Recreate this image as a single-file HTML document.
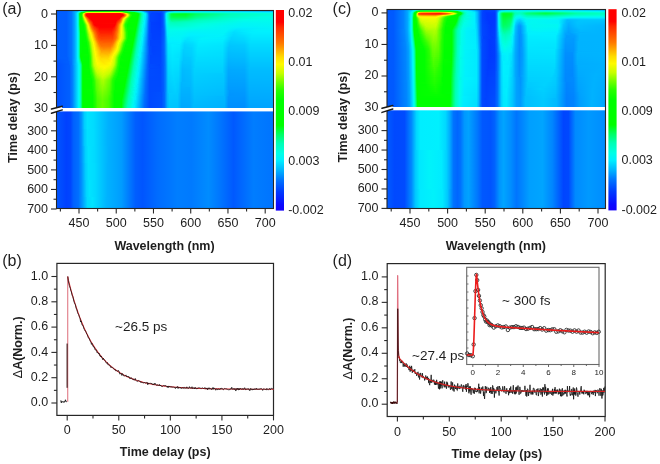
<!DOCTYPE html>
<html><head><meta charset="utf-8"><style>
html,body{margin:0;padding:0;background:#fff;}
#c{position:relative;width:660px;height:464px;overflow:hidden;background:#fff;}
#c div{position:absolute;}
svg{position:absolute;left:0;top:0;display:block;will-change:transform;}
text{font-family:"Liberation Sans",sans-serif;fill:#1e1e1e;}
</style></head><body><div id="c">
<div style="left:57px;top:11px;width:216px;height:1px;background:linear-gradient(90deg,#005eff 0.5px,#005dff 9.5px,#0075ff 14.5px,#00a9ff 18.5px,#00b8ff 20.5px,#00f2fc 22.5px,#00ffd1 24.5px,#00ffb8 25.5px,#00ff35 28.5px,#00ff19 29.5px,#00ff08 31.5px,#00ff00 39.5px,#00ff00 65.5px,#00ff71 71.5px,#00ffb0 76.5px,#00f9f0 82.5px,#00e8ff 84.5px,#0073ff 89.5px,#004fff 92.5px,#004cff 104.5px,#006dff 107.5px,#00adff 111.5px,#00e1ff 117.5px,#00e3ff 137.5px,#00c2ff 215.5px)"></div><div style="left:57px;top:12px;width:216px;height:1px;background:linear-gradient(90deg,#005eff 0.5px,#005dff 9.5px,#0075ff 14.5px,#00c6ff 19.5px,#00e7ff 20.5px,#00ffe4 21.5px,#00ffae 22.5px,#00ff52 23.5px,#00ff00 24.5px,#00ff00 26.5px,#2aff00 27.5px,#8fff00 28.5px,#d5fe00 29.5px,#e9fc00 30.5px,#fdfa00 56.5px,#f1fb00 63.5px,#e0fd00 64.5px,#c0ff00 65.5px,#53ff00 67.5px,#24ff00 68.5px,#00ff00 70.5px,#00ff04 77.5px,#00ffa8 82.5px,#00fcea 85.5px,#00f3fa 86.5px,#00a7ff 89.5px,#0064ff 91.5px,#0050ff 92.5px,#0045ff 95.5px,#0047ff 104.5px,#0060ff 106.5px,#0077ff 107.5px,#00c5ff 109.5px,#00e2ff 110.5px,#00fbed 112.5px,#00ffd0 115.5px,#00ffc5 123.5px,#00f7f3 187.5px,#00f0ff 215.5px)"></div><div style="left:57px;top:13px;width:216px;height:1px;background:linear-gradient(90deg,#005eff 0.5px,#005dff 9.5px,#0075ff 14.5px,#00a3ff 17.5px,#00d6ff 19.5px,#00f8f2 20.5px,#00ffbb 21.5px,#00ff3b 22.5px,#00ff00 23.5px,#00ff00 24.5px,#2dff00 25.5px,#bdff00 26.5px,#ffdc00 27.5px,#ff6c00 28.5px,#ff3300 29.5px,#ff1300 30.5px,#ff0900 32.5px,#ff0800 62.5px,#ff1200 63.5px,#ff4800 65.5px,#ff6f00 66.5px,#ffe400 68.5px,#eafc00 69.5px,#afff00 70.5px,#66ff00 71.5px,#28ff00 72.5px,#0eff00 73.5px,#00ff00 74.5px,#00ff00 80.5px,#00ff18 81.5px,#00ffa7 84.5px,#00ffdf 86.5px,#00e9ff 88.5px,#00caff 89.5px,#006fff 91.5px,#0051ff 92.5px,#0041ff 94.5px,#003cff 103.5px,#004eff 105.5px,#0061ff 106.5px,#0085ff 107.5px,#00f2fc 109.5px,#00ffdf 110.5px,#00ff7b 113.5px,#00ff64 114.5px,#00ff53 116.5px,#00ff45 128.5px,#00ff7a 139.5px,#00ffbd 171.5px,#00ffe3 215.5px)"></div><div style="left:57px;top:14px;width:216px;height:1px;background:linear-gradient(90deg,#005eff 0.5px,#005dff 9.5px,#0075ff 14.5px,#00a3ff 17.5px,#00d7ff 19.5px,#00f9f0 20.5px,#00ffb5 21.5px,#00ff22 22.5px,#00ff00 23.5px,#06ff00 24.5px,#61ff00 25.5px,#ecfc00 26.5px,#ffa000 27.5px,#ff3c00 28.5px,#ff0000 29.5px,#ff0000 65.5px,#ff2400 66.5px,#ff5400 67.5px,#ff8e00 68.5px,#ffd600 69.5px,#f5fb00 70.5px,#b8ff00 71.5px,#66ff00 72.5px,#26ff00 73.5px,#0eff00 74.5px,#00ff00 75.5px,#00ff02 81.5px,#00ff9b 84.5px,#00ffc0 85.5px,#00faee 87.5px,#00f0ff 88.5px,#00a9ff 90.5px,#0074ff 91.5px,#0053ff 92.5px,#0044ff 93.5px,#003bff 103.5px,#004dff 105.5px,#0062ff 106.5px,#0089ff 107.5px,#00c6ff 108.5px,#00f6f4 109.5px,#00ffb0 111.5px,#00ff58 113.5px,#00ff3a 114.5px,#00ff2c 116.5px,#00ff23 128.5px,#00ff65 139.5px,#00ffb9 174.5px,#00ffdc 215.5px)"></div><div style="left:57px;top:15px;width:216px;height:1px;background:linear-gradient(90deg,#005eff 0.5px,#005dff 9.5px,#0075ff 14.5px,#00a3ff 17.5px,#00d5ff 19.5px,#00f7f3 20.5px,#00ffb8 21.5px,#00ff27 22.5px,#00ff00 23.5px,#07ff00 24.5px,#61ff00 25.5px,#e9fc00 26.5px,#ffa700 27.5px,#ff4300 28.5px,#ff0000 29.5px,#ff0000 65.5px,#ff1300 66.5px,#ff7f00 68.5px,#ffca00 69.5px,#fdfa00 70.5px,#c3ff00 71.5px,#6dff00 72.5px,#28ff00 73.5px,#00ff00 75.5px,#00ff00 80.5px,#00ff09 81.5px,#00ffa1 84.5px,#00ffdc 86.5px,#00edff 88.5px,#00abff 90.5px,#0077ff 91.5px,#0055ff 92.5px,#0044ff 93.5px,#003bff 103.5px,#004dff 105.5px,#0062ff 106.5px,#0089ff 107.5px,#00c6ff 108.5px,#00f6f4 109.5px,#00ffb2 111.5px,#00ff5f 113.5px,#00ff43 114.5px,#00ff36 116.5px,#00ff31 128.5px,#00ff6d 138.5px,#00ffbc 171.5px,#00ffe0 215.5px)"></div><div style="left:57px;top:16px;width:216px;height:1px;background:linear-gradient(90deg,#005eff 0.5px,#005dff 9.5px,#0075ff 14.5px,#00a3ff 17.5px,#00d4ff 19.5px,#00f7f4 20.5px,#00ffbb 21.5px,#00ff2d 22.5px,#00ff00 23.5px,#02ff00 24.5px,#4fff00 25.5px,#d3fe00 26.5px,#ffd000 27.5px,#ff6900 28.5px,#ff0000 30.5px,#ff0000 64.5px,#ff4a00 66.5px,#ff7600 67.5px,#ffbb00 68.5px,#fff100 69.5px,#d7fe00 70.5px,#49ff00 72.5px,#1cff00 73.5px,#06ff00 74.5px,#00ff00 78.5px,#00ff00 80.5px,#00ff12 81.5px,#00ffa8 84.5px,#00ffe0 86.5px,#00eaff 88.5px,#00a9ff 90.5px,#0077ff 91.5px,#0055ff 92.5px,#0044ff 93.5px,#003bff 103.5px,#004dff 105.5px,#0062ff 106.5px,#0089ff 107.5px,#00c6ff 108.5px,#00f6f4 109.5px,#00ffb5 111.5px,#00ff67 113.5px,#00ff4e 114.5px,#00ff42 116.5px,#00ff42 128.5px,#00ff7b 138.5px,#00ffbd 167.5px,#00ffe1 206.5px,#00ffe5 215.5px)"></div><div style="left:57px;top:17px;width:216px;height:1px;background:linear-gradient(90deg,#005eff 0.5px,#005dff 9.5px,#0075ff 14.5px,#00a3ff 17.5px,#00d4ff 19.5px,#00f6f5 20.5px,#00ffbd 21.5px,#00ff32 22.5px,#00ff00 23.5px,#00ff00 24.5px,#38ff00 25.5px,#aeff00 26.5px,#fff300 27.5px,#ff6000 29.5px,#ff0b00 31.5px,#ff0000 32.5px,#ff0000 62.5px,#ff0a00 63.5px,#ff5f00 65.5px,#ff9100 66.5px,#ffcf00 67.5px,#fff900 68.5px,#d0fe00 69.5px,#50ff00 71.5px,#21ff00 72.5px,#00ff00 74.5px,#00ff00 80.5px,#00ff1c 81.5px,#00ffaf 84.5px,#00ffe3 86.5px,#00e7ff 88.5px,#00a7ff 90.5px,#0076ff 91.5px,#0055ff 92.5px,#0044ff 93.5px,#003bff 103.5px,#004dff 105.5px,#0062ff 106.5px,#0088ff 107.5px,#00c6ff 108.5px,#00f6f5 109.5px,#00ffb7 111.5px,#00ff71 113.5px,#00ff5b 114.5px,#00ff51 116.5px,#00ff55 128.5px,#00ff8c 139.5px,#00ffc0 164.5px,#00ffe4 201.5px,#00fde9 215.5px)"></div><div style="left:57px;top:18px;width:216px;height:1px;background:linear-gradient(90deg,#005eff 0.5px,#005dff 9.5px,#0075ff 14.5px,#00a3ff 17.5px,#00d3ff 19.5px,#00f6f5 20.5px,#00ffbe 21.5px,#00ff36 22.5px,#00ff00 23.5px,#00ff00 24.5px,#25ff00 25.5px,#e2fd00 27.5px,#ffdf00 28.5px,#ff9300 29.5px,#ff5a00 30.5px,#ff0800 32.5px,#ff0000 34.5px,#ff0200 62.5px,#ff5d00 64.5px,#ff9700 65.5px,#ffdb00 66.5px,#f6fb00 67.5px,#c7ff00 68.5px,#82ff00 69.5px,#4cff00 70.5px,#23ff00 71.5px,#00ff00 73.5px,#00ff00 80.5px,#00ff25 81.5px,#00ffb5 84.5px,#00ffe6 86.5px,#00e4ff 88.5px,#00a4ff 90.5px,#0075ff 91.5px,#0054ff 92.5px,#0044ff 93.5px,#003bff 103.5px,#004dff 105.5px,#0061ff 106.5px,#0088ff 107.5px,#00c4ff 108.5px,#00f5f7 109.5px,#00ffd8 110.5px,#00ff80 113.5px,#00ff6e 114.5px,#00ff67 118.5px,#00ff6c 128.5px,#00ffa0 140.5px,#00ffd5 174.5px,#00fde9 209.5px,#00fceb 215.5px)"></div><div style="left:57px;top:19px;width:216px;height:1px;background:linear-gradient(90deg,#005eff 0.5px,#005dff 9.5px,#0075ff 14.5px,#00a3ff 17.5px,#00d3ff 19.5px,#00f6f5 20.5px,#00ffbe 21.5px,#00ff38 22.5px,#00ff00 23.5px,#00ff00 24.5px,#1bff00 25.5px,#64ff00 26.5px,#c5ff00 27.5px,#fff600 28.5px,#ffbd00 29.5px,#ff7700 30.5px,#ff2a00 32.5px,#ff0b00 33.5px,#ff0000 34.5px,#ff0000 60.5px,#ff0700 61.5px,#ff4800 63.5px,#ff7500 64.5px,#ffbb00 65.5px,#fff100 66.5px,#d8fe00 67.5px,#5dff00 69.5px,#2eff00 70.5px,#07ff00 72.5px,#00ff00 75.5px,#00ff00 80.5px,#00ff90 83.5px,#00ffb9 84.5px,#00fee8 86.5px,#00e1ff 88.5px,#00a1ff 90.5px,#0073ff 91.5px,#0053ff 92.5px,#0044ff 93.5px,#003bff 103.5px,#004dff 105.5px,#0061ff 106.5px,#0086ff 107.5px,#00f3f9 109.5px,#00ffdc 110.5px,#00ff91 113.5px,#00ff81 114.5px,#00ff7c 120.5px,#00ff87 129.5px,#00ffb3 140.5px,#00ffe7 188.5px,#00fbec 215.5px)"></div><div style="left:57px;top:20px;width:216px;height:1px;background:linear-gradient(90deg,#005eff 0.5px,#005dff 9.5px,#0075ff 14.5px,#00a3ff 17.5px,#00d4ff 19.5px,#00f6f5 20.5px,#00ffbd 21.5px,#00ff38 22.5px,#00ff00 23.5px,#00ff00 24.5px,#11ff00 25.5px,#47ff00 26.5px,#9eff00 27.5px,#eafc00 28.5px,#ffde00 29.5px,#ff9a00 30.5px,#ff6400 31.5px,#ff4100 32.5px,#ff1000 34.5px,#ff0000 35.5px,#ff0000 59.5px,#ff3b00 62.5px,#ff5d00 63.5px,#ff9000 64.5px,#ffd300 65.5px,#f8fb00 66.5px,#c4ff00 67.5px,#7bff00 68.5px,#45ff00 69.5px,#21ff00 70.5px,#01ff00 72.5px,#00ff00 79.5px,#00ff07 80.5px,#00ff97 83.5px,#00ffbd 84.5px,#00fcea 86.5px,#00f3fa 87.5px,#00c3ff 89.5px,#0072ff 91.5px,#0053ff 92.5px,#0044ff 93.5px,#003bff 103.5px,#004dff 105.5px,#0061ff 106.5px,#0085ff 107.5px,#00f2fb 109.5px,#00ffe1 110.5px,#00ff93 114.5px,#00ff92 122.5px,#00ffa1 130.5px,#00ffbc 138.5px,#00fdea 186.5px,#00fbed 215.5px)"></div><div style="left:57px;top:21px;width:216px;height:1px;background:linear-gradient(90deg,#005eff 0.5px,#005dff 9.5px,#0075ff 14.5px,#00a3ff 17.5px,#00d4ff 19.5px,#00f6f5 20.5px,#00ffbd 21.5px,#00ff38 22.5px,#00ff00 23.5px,#07ff00 25.5px,#2aff00 26.5px,#78ff00 27.5px,#cffe00 28.5px,#fff200 29.5px,#ff7f00 31.5px,#ff5800 32.5px,#ff0c00 35.5px,#ff0000 36.5px,#ff0000 58.5px,#ff0c00 59.5px,#ff5100 62.5px,#ff7200 63.5px,#ffe500 65.5px,#e6fc00 66.5px,#61ff00 68.5px,#2eff00 69.5px,#0aff00 71.5px,#00ff00 73.5px,#00ff00 79.5px,#00ff10 80.5px,#00ff9f 83.5px,#00ffc1 84.5px,#00f2fc 87.5px,#00c0ff 89.5px,#0070ff 91.5px,#0052ff 92.5px,#0043ff 93.5px,#003bff 103.5px,#004dff 105.5px,#0061ff 106.5px,#0084ff 107.5px,#00f1fe 109.5px,#00ffe6 110.5px,#00ffb3 113.5px,#00ffa2 115.5px,#00ffb6 130.5px,#00ffcb 144.5px,#00faee 186.5px,#00faef 215.5px)"></div><div style="left:57px;top:22px;width:216px;height:1px;background:linear-gradient(90deg,#005eff 0.5px,#005dff 9.5px,#0075ff 14.5px,#00a3ff 17.5px,#00d4ff 19.5px,#00f6f4 20.5px,#00ffbc 21.5px,#00ff38 22.5px,#00ff00 23.5px,#00ff00 25.5px,#1cff00 26.5px,#55ff00 27.5px,#a8ff00 28.5px,#edfc00 29.5px,#ffdf00 30.5px,#ff6e00 32.5px,#ff0100 36.5px,#ff0000 58.5px,#ff6700 62.5px,#ff8e00 63.5px,#fff300 65.5px,#d3fe00 66.5px,#48ff00 68.5px,#20ff00 69.5px,#03ff00 71.5px,#00ff00 79.5px,#00ff19 80.5px,#00ffa6 83.5px,#00ffdc 85.5px,#00f1fe 87.5px,#00beff 89.5px,#006eff 91.5px,#0051ff 92.5px,#003fff 94.5px,#003bff 103.5px,#004dff 105.5px,#0060ff 106.5px,#0083ff 107.5px,#00eeff 109.5px,#00fde9 110.5px,#00ffbd 113.5px,#00ffb5 117.5px,#00ffc7 133.5px,#00ffdc 157.5px,#00f8f2 186.5px,#00f9f0 215.5px)"></div><div style="left:57px;top:23px;width:216px;height:1px;background:linear-gradient(90deg,#005eff 0.5px,#005dff 9.5px,#0075ff 14.5px,#00a3ff 17.5px,#00d4ff 19.5px,#00f6f4 20.5px,#00ffbb 21.5px,#00ff38 22.5px,#00ff00 23.5px,#00ff00 25.5px,#0fff00 26.5px,#33ff00 27.5px,#d0fe00 29.5px,#fff400 30.5px,#ffc500 31.5px,#ff8a00 32.5px,#ff6100 33.5px,#ff0900 36.5px,#ff0000 38.5px,#ff0500 58.5px,#ff4400 60.5px,#ff7e00 62.5px,#ffdf00 64.5px,#f4fb00 65.5px,#bcff00 66.5px,#6dff00 67.5px,#2fff00 68.5px,#16ff00 69.5px,#00ff00 71.5px,#00ff00 79.5px,#00ff22 80.5px,#00ffad 83.5px,#00f9f1 86.5px,#00efff 87.5px,#00bbff 89.5px,#006cff 91.5px,#0050ff 92.5px,#003fff 94.5px,#003bff 103.5px,#004dff 105.5px,#0060ff 106.5px,#0081ff 107.5px,#00ebff 109.5px,#00fcec 110.5px,#00ffc4 113.5px,#00ffbf 118.5px,#00ffdd 147.5px,#00f6f5 186.5px,#00f8f2 215.5px)"></div><div style="left:57px;top:24px;width:216px;height:1px;background:linear-gradient(90deg,#005eff 0.5px,#005dff 9.5px,#0075ff 14.5px,#00a3ff 17.5px,#00d4ff 19.5px,#00f6f4 20.5px,#00ffbb 21.5px,#00ff3a 22.5px,#00ff00 23.5px,#04ff00 26.5px,#20ff00 27.5px,#5aff00 28.5px,#abff00 29.5px,#edfc00 30.5px,#ffe100 31.5px,#ff7200 33.5px,#ff1300 36.5px,#ff0000 37.5px,#ff0000 57.5px,#ff0d00 58.5px,#ff7000 61.5px,#ffec00 64.5px,#e4fc00 65.5px,#a4ff00 66.5px,#59ff00 67.5px,#22ff00 68.5px,#00ff00 70.5px,#00ff00 79.5px,#00ffb4 83.5px,#00ffe2 85.5px,#00ecff 87.5px,#00b8ff 89.5px,#006bff 91.5px,#0050ff 92.5px,#003fff 94.5px,#003bff 103.5px,#004dff 105.5px,#005fff 106.5px,#007eff 107.5px,#00e7ff 109.5px,#00faee 110.5px,#00ffca 113.5px,#00ffc6 119.5px,#00ffe1 146.5px,#00f5f7 186.5px,#00f7f3 215.5px)"></div><div style="left:57px;top:25px;width:216px;height:1px;background:linear-gradient(90deg,#005eff 0.5px,#005dff 9.5px,#0075ff 14.5px,#00a3ff 17.5px,#00d4ff 19.5px,#00f6f5 20.5px,#00ffbd 21.5px,#00ff41 22.5px,#00ff00 23.5px,#00ff00 26.5px,#18ff00 27.5px,#46ff00 28.5px,#dcfd00 30.5px,#ffed00 31.5px,#ff8500 33.5px,#ff3f00 35.5px,#ff0c00 37.5px,#ff0000 38.5px,#ff0100 57.5px,#ff3800 59.5px,#ff7a00 61.5px,#ffd200 63.5px,#fff200 64.5px,#ddfd00 65.5px,#55ff00 67.5px,#21ff00 68.5px,#00ff00 70.5px,#00ff00 78.5px,#00ff06 79.5px,#00ff90 82.5px,#00ffb8 83.5px,#00ffe5 85.5px,#00e9ff 87.5px,#00b6ff 89.5px,#006aff 91.5px,#004fff 92.5px,#0040ff 94.5px,#003cff 103.5px,#004cff 105.5px,#005eff 106.5px,#007bff 107.5px,#00e4ff 109.5px,#00f9f0 110.5px,#00ffd0 113.5px,#00ffcc 121.5px,#00ffe4 145.5px,#00f6f4 173.5px,#00f5f7 188.5px,#00f6f5 215.5px)"></div><div style="left:57px;top:26px;width:216px;height:1px;background:linear-gradient(90deg,#005eff 0.5px,#005dff 9.5px,#0075ff 14.5px,#00a3ff 17.5px,#00d3ff 19.5px,#00f6f5 20.5px,#00ffc0 21.5px,#00ff4a 22.5px,#00ff00 23.5px,#00ff00 26.5px,#14ff00 27.5px,#3bff00 28.5px,#d1fe00 30.5px,#fff600 31.5px,#ffce00 32.5px,#ff9800 33.5px,#ff6c00 34.5px,#ff2000 37.5px,#ff0900 39.5px,#ff0000 43.5px,#ff0100 56.5px,#ff0c00 57.5px,#ff5f00 60.5px,#ffac00 62.5px,#ffd700 63.5px,#fff400 64.5px,#ddfd00 65.5px,#5bff00 67.5px,#24ff00 68.5px,#00ff00 70.5px,#00ff00 78.5px,#00ff0f 79.5px,#00ff97 82.5px,#00ffbb 83.5px,#00fee7 85.5px,#00e6ff 87.5px,#00b4ff 89.5px,#0068ff 91.5px,#004fff 92.5px,#0040ff 94.5px,#003cff 103.5px,#004cff 105.5px,#005dff 106.5px,#0078ff 107.5px,#00e0ff 109.5px,#00f8f2 110.5px,#00ffd5 113.5px,#00ffd5 124.5px,#00fee7 144.5px,#00f6f6 172.5px,#00f3fa 186.5px,#00f5f6 215.5px)"></div><div style="left:57px;top:27px;width:216px;height:1px;background:linear-gradient(90deg,#005eff 0.5px,#005dff 9.5px,#0075ff 14.5px,#00a3ff 17.5px,#00d3ff 19.5px,#00f5f6 20.5px,#00ffc3 21.5px,#00ff54 22.5px,#00ff00 23.5px,#00ff00 26.5px,#10ff00 27.5px,#30ff00 28.5px,#76ff00 29.5px,#c7ff00 30.5px,#f9fb00 31.5px,#ffdd00 32.5px,#ff7b00 34.5px,#ff4300 36.5px,#ff1700 39.5px,#ff0200 42.5px,#ff0300 55.5px,#ff1700 57.5px,#ff6400 60.5px,#ffda00 63.5px,#fff500 64.5px,#defd00 65.5px,#a6ff00 66.5px,#28ff00 68.5px,#03ff00 70.5px,#00ff00 78.5px,#00ff17 79.5px,#00ff9d 82.5px,#00ffbf 83.5px,#00fde9 85.5px,#00e3ff 87.5px,#00b1ff 89.5px,#0067ff 91.5px,#004eff 92.5px,#0040ff 94.5px,#003cff 103.5px,#004cff 105.5px,#005cff 106.5px,#0076ff 107.5px,#00ddff 109.5px,#00f7f4 110.5px,#00ffdb 113.5px,#00ffdd 125.5px,#00fdea 142.5px,#00f5f6 171.5px,#00f1fd 185.5px,#00f4f8 215.5px)"></div><div style="left:57px;top:28px;width:216px;height:1px;background:linear-gradient(90deg,#005eff 0.5px,#005dff 9.5px,#0075ff 14.5px,#00a3ff 17.5px,#00d3ff 19.5px,#00f5f7 20.5px,#00ffc6 21.5px,#00ff5e 22.5px,#00ff00 23.5px,#00ff00 26.5px,#0cff00 27.5px,#27ff00 28.5px,#6aff00 29.5px,#b8ff00 30.5px,#eefc00 31.5px,#ffe700 32.5px,#ff8f00 34.5px,#ff6b00 35.5px,#ff3d00 37.5px,#ff0800 42.5px,#ff0a00 55.5px,#ff2200 57.5px,#ff4d00 59.5px,#ff8d00 61.5px,#ffdd00 63.5px,#fff600 64.5px,#defd00 65.5px,#abff00 66.5px,#31ff00 68.5px,#05ff00 70.5px,#00ff00 78.5px,#00ff20 79.5px,#00ffa4 82.5px,#00ffd8 84.5px,#00f3fa 86.5px,#00afff 89.5px,#0066ff 91.5px,#004eff 92.5px,#0040ff 94.5px,#003dff 103.5px,#005bff 106.5px,#0074ff 107.5px,#00d9ff 109.5px,#00f6f6 110.5px,#00ffe0 113.5px,#00ffe3 125.5px,#00fbed 145.5px,#00f5f7 170.5px,#00ecff 181.5px,#00f3f9 215.5px)"></div><div style="left:57px;top:29px;width:216px;height:1px;background:linear-gradient(90deg,#005eff 0.5px,#005dff 9.5px,#0075ff 14.5px,#00a3ff 17.5px,#00d3ff 19.5px,#00f4f8 20.5px,#00ffc9 21.5px,#00ff00 23.5px,#00ff00 26.5px,#09ff00 27.5px,#23ff00 28.5px,#5eff00 29.5px,#a8ff00 30.5px,#e2fd00 31.5px,#fff000 32.5px,#ffcf00 33.5px,#ff7a00 35.5px,#ff4a00 37.5px,#ff0e00 42.5px,#ff0c00 54.5px,#ff1c00 56.5px,#ff3c00 58.5px,#ff6f00 60.5px,#ffdf00 63.5px,#fff700 64.5px,#dffd00 65.5px,#b0ff00 66.5px,#3aff00 68.5px,#19ff00 69.5px,#07ff00 70.5px,#00ff00 73.5px,#00ff00 78.5px,#00ffab 82.5px,#00fbed 85.5px,#00f2fc 86.5px,#00adff 89.5px,#0065ff 91.5px,#004dff 92.5px,#0040ff 94.5px,#003dff 103.5px,#005aff 106.5px,#0072ff 107.5px,#00d6ff 109.5px,#00f4f8 110.5px,#00fee8 112.5px,#00ffe6 124.5px,#00f9f0 138.5px,#00f5f7 169.5px,#00e8ff 179.5px,#00f2fb 200.5px,#00f2fb 215.5px)"></div><div style="left:57px;top:30px;width:216px;height:1px;background:linear-gradient(90deg,#005eff 0.5px,#005dff 9.5px,#0075ff 14.5px,#00a3ff 17.5px,#00d2ff 19.5px,#00f4f9 20.5px,#00ffcd 21.5px,#00ff6f 22.5px,#00ff00 23.5px,#05ff00 27.5px,#1eff00 28.5px,#52ff00 29.5px,#d6fe00 31.5px,#fffa00 32.5px,#ffdf00 33.5px,#ff6e00 36.5px,#ff3700 39.5px,#ff1500 42.5px,#ff1200 54.5px,#ff2500 56.5px,#ff4300 58.5px,#ff7500 60.5px,#ffe100 63.5px,#fff800 64.5px,#e0fd00 65.5px,#b5ff00 66.5px,#42ff00 68.5px,#1dff00 69.5px,#09ff00 70.5px,#00ff00 72.5px,#00ff04 78.5px,#00ff89 81.5px,#00ffb2 82.5px,#00faef 85.5px,#00f1fd 86.5px,#00aaff 89.5px,#0064ff 91.5px,#004dff 92.5px,#0040ff 94.5px,#003eff 103.5px,#0059ff 106.5px,#0070ff 107.5px,#00d2ff 109.5px,#00f3fa 110.5px,#00fcec 112.5px,#00fbed 125.5px,#00f7f3 138.5px,#00f4f9 169.5px,#00e4ff 178.5px,#00f1fd 196.5px,#00f1fd 215.5px)"></div><div style="left:57px;top:31px;width:216px;height:1px;background:linear-gradient(90deg,#005eff 0.5px,#005dff 9.5px,#0075ff 14.5px,#00a3ff 17.5px,#00d2ff 19.5px,#00f3fa 20.5px,#00ffd0 21.5px,#00ff77 22.5px,#00ff00 23.5px,#01ff00 27.5px,#19ff00 28.5px,#46ff00 29.5px,#cbff00 31.5px,#f1fb00 32.5px,#ffea00 33.5px,#ff7e00 36.5px,#ff4000 39.5px,#ff1b00 42.5px,#ff1800 54.5px,#ff3a00 57.5px,#ff7b00 60.5px,#ffe300 63.5px,#fff900 64.5px,#baff00 66.5px,#4bff00 68.5px,#20ff00 69.5px,#00ff00 71.5px,#00ff00 77.5px,#00ff0d 78.5px,#00ff90 81.5px,#00ffb6 82.5px,#00f8f1 85.5px,#00f0ff 86.5px,#00a8ff 89.5px,#0063ff 91.5px,#004dff 92.5px,#0040ff 94.5px,#003eff 103.5px,#0058ff 106.5px,#006eff 107.5px,#00cfff 109.5px,#00f2fc 110.5px,#00faee 112.5px,#00f9f1 125.5px,#00f5f6 135.5px,#00f4f9 168.5px,#00e0ff 177.5px,#00eaff 186.5px,#00f1fe 201.5px,#00f1fe 215.5px)"></div><div style="left:57px;top:32px;width:216px;height:1px;background:linear-gradient(90deg,#005eff 0.5px,#005dff 9.5px,#0075ff 14.5px,#00a3ff 17.5px,#00d2ff 19.5px,#00f3fa 20.5px,#00ffd3 21.5px,#00ff7e 22.5px,#00ff00 23.5px,#00ff00 27.5px,#15ff00 28.5px,#3aff00 29.5px,#baff00 31.5px,#e4fc00 32.5px,#fff500 33.5px,#ffdd00 34.5px,#ff7100 37.5px,#ff3900 40.5px,#ff1d00 43.5px,#ff1e00 54.5px,#ff4000 57.5px,#ff8200 60.5px,#ffe500 63.5px,#fffa00 64.5px,#bfff00 66.5px,#23ff00 69.5px,#00ff00 71.5px,#00ff00 77.5px,#00ff16 78.5px,#00ff97 81.5px,#00ffba 82.5px,#00ffe4 84.5px,#00edff 86.5px,#00a5ff 89.5px,#0062ff 91.5px,#004cff 92.5px,#0040ff 94.5px,#003fff 103.5px,#0058ff 106.5px,#006dff 107.5px,#00ccff 109.5px,#00f1fd 110.5px,#00f9f1 112.5px,#00f7f4 125.5px,#00f3f9 134.5px,#00f4f9 167.5px,#00ddff 176.5px,#00e4ff 185.5px,#00efff 193.5px,#00efff 215.5px)"></div><div style="left:57px;top:33px;width:216px;height:1px;background:linear-gradient(90deg,#005eff 0.5px,#005dff 9.5px,#0075ff 14.5px,#00a3ff 17.5px,#00d2ff 19.5px,#00f2fb 20.5px,#00ffd5 21.5px,#00ff83 22.5px,#00ff05 23.5px,#00ff00 27.5px,#10ff00 28.5px,#2eff00 29.5px,#aaff00 31.5px,#d9fd00 32.5px,#fafa00 33.5px,#ffe700 34.5px,#ff7d00 37.5px,#ff3f00 40.5px,#ff2400 43.5px,#ff2500 54.5px,#ff3600 56.5px,#ff6d00 59.5px,#ffe700 63.5px,#fdfa00 64.5px,#c1ff00 66.5px,#25ff00 69.5px,#00ff00 71.5px,#00ff00 77.5px,#00ff1e 78.5px,#00ff9e 81.5px,#00ffbe 82.5px,#00ffe7 84.5px,#00eaff 86.5px,#00a3ff 89.5px,#0061ff 91.5px,#004cff 92.5px,#0040ff 95.5px,#003fff 103.5px,#0058ff 106.5px,#006dff 107.5px,#00caff 109.5px,#00f0ff 110.5px,#00f8f2 112.5px,#00f7f3 124.5px,#00f2fc 132.5px,#00f3f9 166.5px,#00e6ff 171.5px,#00dbff 177.5px,#00e5ff 186.5px,#00eeff 196.5px,#00eeff 215.5px)"></div><div style="left:57px;top:34px;width:216px;height:1px;background:linear-gradient(90deg,#005eff 0.5px,#005dff 9.5px,#0075ff 14.5px,#00a3ff 17.5px,#00d2ff 19.5px,#00f2fb 20.5px,#00ffd5 21.5px,#00ff84 22.5px,#00ff06 23.5px,#00ff00 27.5px,#0dff00 28.5px,#26ff00 29.5px,#d1fe00 32.5px,#f1fb00 33.5px,#ffee00 34.5px,#ffd400 35.5px,#ff8900 37.5px,#ff5700 39.5px,#ff2e00 42.5px,#ff2b00 54.5px,#ff3b00 56.5px,#ff7000 59.5px,#ffd000 62.5px,#fbfa00 64.5px,#c1ff00 66.5px,#26ff00 69.5px,#00ff00 71.5px,#00ff00 77.5px,#00ffa4 81.5px,#00ffd6 83.5px,#00f5f7 85.5px,#00d1ff 87.5px,#00a0ff 89.5px,#0060ff 91.5px,#004cff 92.5px,#0040ff 95.5px,#003fff 103.5px,#0059ff 106.5px,#006dff 107.5px,#00c8ff 109.5px,#00eeff 110.5px,#00f7f3 112.5px,#00f6f5 124.5px,#00f1fe 132.5px,#00f3fb 166.5px,#00d9ff 176.5px,#00e2ff 186.5px,#00ecff 195.5px,#00ecff 215.5px)"></div><div style="left:57px;top:35px;width:216px;height:1px;background:linear-gradient(90deg,#005eff 0.5px,#005dff 9.5px,#0075ff 14.5px,#00a3ff 17.5px,#00d2ff 19.5px,#00f2fb 20.5px,#00ffd5 21.5px,#00ff84 22.5px,#00ff06 23.5px,#00ff00 27.5px,#09ff00 28.5px,#21ff00 29.5px,#90ff00 31.5px,#c9ff00 32.5px,#e9fc00 33.5px,#fff300 34.5px,#ffdd00 35.5px,#ff7300 38.5px,#ff3d00 41.5px,#ff3000 44.5px,#ff3500 55.5px,#ff5f00 58.5px,#ff9000 60.5px,#ffd400 62.5px,#f9fb00 64.5px,#c0ff00 66.5px,#26ff00 69.5px,#00ff00 71.5px,#00ff04 77.5px,#00ffaa 81.5px,#00fceb 84.5px,#00e5ff 86.5px,#009eff 89.5px,#005fff 91.5px,#004bff 92.5px,#0040ff 95.5px,#0040ff 103.5px,#0059ff 106.5px,#006dff 107.5px,#00c7ff 109.5px,#00ecff 110.5px,#00f6f4 112.5px,#00f5f7 124.5px,#00efff 133.5px,#00f2fb 165.5px,#00e5ff 170.5px,#00d8ff 176.5px,#00dfff 186.5px,#00eaff 195.5px,#00eaff 215.5px)"></div><div style="left:57px;top:36px;width:216px;height:1px;background:linear-gradient(90deg,#005eff 0.5px,#005dff 9.5px,#0075ff 14.5px,#00a3ff 17.5px,#00d2ff 19.5px,#00f2fb 20.5px,#00ffd5 21.5px,#00ff84 22.5px,#00ff07 23.5px,#00ff00 26.5px,#05ff00 28.5px,#1cff00 29.5px,#48ff00 30.5px,#beff00 32.5px,#fff900 34.5px,#ffe400 35.5px,#ff7a00 38.5px,#ff4200 41.5px,#ff3600 44.5px,#ff3a00 55.5px,#ff6200 58.5px,#ff7500 59.5px,#ffd700 62.5px,#f7fb00 64.5px,#bfff00 66.5px,#26ff00 69.5px,#00ff00 71.5px,#00ff00 76.5px,#00ff0c 77.5px,#00ffb1 81.5px,#00fbec 84.5px,#00e2ff 86.5px,#009cff 89.5px,#005eff 91.5px,#004bff 92.5px,#0040ff 95.5px,#0040ff 103.5px,#005aff 106.5px,#006eff 107.5px,#00e9ff 110.5px,#00f6f6 112.5px,#00f4f9 124.5px,#00ecff 132.5px,#00f3fb 161.5px,#00ecff 168.5px,#00d6ff 175.5px,#00ddff 186.5px,#00e9ff 194.5px,#00e9ff 215.5px)"></div><div style="left:57px;top:37px;width:216px;height:1px;background:linear-gradient(90deg,#005eff 0.5px,#005dff 9.5px,#0075ff 14.5px,#00a3ff 17.5px,#00d2ff 19.5px,#00f2fb 20.5px,#00ffd5 21.5px,#00ff84 22.5px,#00ff07 23.5px,#00ff00 26.5px,#01ff00 28.5px,#17ff00 29.5px,#3dff00 30.5px,#b3ff00 32.5px,#dafd00 33.5px,#f8fb00 34.5px,#ffea00 35.5px,#ffce00 36.5px,#ff8400 38.5px,#ff5700 40.5px,#ff3f00 42.5px,#ff3f00 55.5px,#ff6600 58.5px,#ff7800 59.5px,#ffda00 62.5px,#ffef00 63.5px,#f5fb00 64.5px,#bdff00 66.5px,#26ff00 69.5px,#0eff00 70.5px,#00ff00 71.5px,#00ff00 76.5px,#00ff14 77.5px,#00ff90 80.5px,#00ffb6 81.5px,#00faee 84.5px,#00f2fc 85.5px,#0099ff 89.5px,#005dff 91.5px,#004bff 92.5px,#0040ff 95.5px,#0041ff 103.5px,#005bff 106.5px,#006eff 107.5px,#00e7ff 110.5px,#00f3fa 111.5px,#00f4f8 123.5px,#00e8ff 131.5px,#00f2fb 148.5px,#00eeff 167.5px,#00d4ff 174.5px,#00daff 186.5px,#00e7ff 194.5px,#00e7ff 215.5px)"></div><div style="left:57px;top:38px;width:216px;height:1px;background:linear-gradient(90deg,#005eff 0.5px,#005dff 9.5px,#0075ff 14.5px,#00a3ff 17.5px,#00d2ff 19.5px,#00f2fb 20.5px,#00ffd5 21.5px,#00ff84 22.5px,#00ff08 23.5px,#00ff00 25.5px,#00ff00 28.5px,#12ff00 29.5px,#31ff00 30.5px,#a6ff00 32.5px,#d2fe00 33.5px,#effb00 34.5px,#fff000 35.5px,#ffd900 36.5px,#ff7200 39.5px,#ff4f00 41.5px,#ff4100 44.5px,#ff4500 55.5px,#ff6b00 58.5px,#ff9e00 60.5px,#ffdf00 62.5px,#fff200 63.5px,#f0fb00 64.5px,#b7ff00 66.5px,#24ff00 69.5px,#0cff00 70.5px,#00ff00 71.5px,#00ff00 76.5px,#00ff1c 77.5px,#00ff97 80.5px,#00ffb9 81.5px,#00f9f0 84.5px,#00f1fd 85.5px,#0097ff 89.5px,#005cff 91.5px,#004aff 92.5px,#0040ff 95.5px,#0041ff 103.5px,#005bff 106.5px,#006eff 107.5px,#00e4ff 110.5px,#00f2fb 111.5px,#00f4f9 123.5px,#00e5ff 130.5px,#00f2fc 145.5px,#00efff 166.5px,#00d3ff 174.5px,#00d8ff 186.5px,#00e5ff 194.5px,#00e5ff 215.5px)"></div><div style="left:57px;top:39px;width:216px;height:1px;background:linear-gradient(90deg,#005eff 0.5px,#005dff 9.5px,#0075ff 14.5px,#00a3ff 17.5px,#00d2ff 19.5px,#00f2fb 20.5px,#00ffd5 21.5px,#00ff84 22.5px,#00ff08 23.5px,#00ff00 25.5px,#00ff00 28.5px,#0eff00 29.5px,#26ff00 30.5px,#c9ff00 33.5px,#fff700 35.5px,#ffe100 36.5px,#ff7c00 39.5px,#ff5700 41.5px,#ff4800 44.5px,#ff4d00 55.5px,#ff7500 58.5px,#ffe700 62.5px,#fffa00 63.5px,#cbff00 65.5px,#41ff00 68.5px,#1cff00 69.5px,#05ff00 70.5px,#00ff00 76.5px,#00ff9d 80.5px,#00ffbc 81.5px,#00f8f2 84.5px,#00f0ff 85.5px,#0095ff 89.5px,#005cff 91.5px,#004aff 92.5px,#0040ff 96.5px,#0041ff 103.5px,#005cff 106.5px,#006fff 107.5px,#00e2ff 110.5px,#00f2fc 111.5px,#00f3fb 123.5px,#00e2ff 130.5px,#00f1fd 143.5px,#00ecff 166.5px,#00d1ff 174.5px,#00d8ff 187.5px,#00e4ff 194.5px,#00e4ff 215.5px)"></div><div style="left:57px;top:40px;width:216px;height:1px;background:linear-gradient(90deg,#005eff 0.5px,#005dff 9.5px,#0075ff 14.5px,#00a3ff 17.5px,#00d2ff 19.5px,#00f2fb 20.5px,#00ffd5 21.5px,#00ff85 22.5px,#00ff08 23.5px,#00ff00 25.5px,#00ff00 28.5px,#09ff00 29.5px,#20ff00 30.5px,#83ff00 32.5px,#b9ff00 33.5px,#fafa00 35.5px,#ffce00 37.5px,#ff8b00 39.5px,#ff6100 41.5px,#ff5000 43.5px,#ff5000 54.5px,#ff6000 56.5px,#ff8400 58.5px,#ffde00 61.5px,#fff100 62.5px,#f1fb00 63.5px,#b5ff00 65.5px,#28ff00 68.5px,#00ff00 70.5px,#00ff04 76.5px,#00ffa3 80.5px,#00ffd3 82.5px,#00f7f3 84.5px,#00eeff 85.5px,#0093ff 89.5px,#005bff 91.5px,#0043ff 93.5px,#0042ff 103.5px,#005cff 106.5px,#006fff 107.5px,#00e0ff 110.5px,#00f1fe 111.5px,#00f2fc 123.5px,#00e0ff 128.5px,#00e8ff 136.5px,#00f0fe 145.5px,#00eeff 165.5px,#00d0ff 173.5px,#00d5ff 187.5px,#00e2ff 194.5px,#00e2ff 215.5px)"></div><div style="left:57px;top:41px;width:216px;height:1px;background:linear-gradient(90deg,#005eff 0.5px,#005dff 9.5px,#0075ff 14.5px,#00a3ff 17.5px,#00d2ff 19.5px,#00f2fb 20.5px,#00ffd5 21.5px,#00ff85 22.5px,#00ff08 23.5px,#00ff00 25.5px,#05ff00 29.5px,#19ff00 30.5px,#3cff00 31.5px,#a8ff00 33.5px,#d3fe00 34.5px,#f0fb00 35.5px,#fff000 36.5px,#ffdb00 37.5px,#ff7c00 40.5px,#ff5e00 42.5px,#ff5500 47.5px,#ff5700 54.5px,#ff6900 56.5px,#ff7a00 57.5px,#ffd300 60.5px,#fdfa00 62.5px,#c9ff00 64.5px,#3fff00 67.5px,#1dff00 68.5px,#09ff00 69.5px,#00ff00 71.5px,#00ff00 75.5px,#00ff0b 76.5px,#00ffa9 80.5px,#00fee8 83.5px,#00ebff 85.5px,#0091ff 89.5px,#005aff 91.5px,#0043ff 93.5px,#0042ff 103.5px,#005dff 106.5px,#006fff 107.5px,#00ddff 110.5px,#00f0ff 111.5px,#00f1fe 123.5px,#00ddff 128.5px,#00e3ff 135.5px,#00efff 142.5px,#00ecff 165.5px,#00cdff 173.5px,#00d3ff 187.5px,#00e0ff 193.5px,#00e0ff 215.5px)"></div><div style="left:57px;top:42px;width:216px;height:1px;background:linear-gradient(90deg,#005eff 0.5px,#005dff 9.5px,#0075ff 14.5px,#00a3ff 17.5px,#00d2ff 19.5px,#00f2fb 20.5px,#00ffd5 21.5px,#00ff85 22.5px,#00ff09 23.5px,#00ff00 25.5px,#00ff00 29.5px,#2dff00 31.5px,#caff00 34.5px,#fff700 36.5px,#ffc700 38.5px,#ff8a00 40.5px,#ff6600 42.5px,#ff5c00 46.5px,#ff5f00 54.5px,#ff7300 56.5px,#ffa500 58.5px,#ffe100 60.5px,#fff300 61.5px,#d6fe00 63.5px,#b3ff00 64.5px,#28ff00 67.5px,#00ff00 69.5px,#00ff00 75.5px,#00ff13 76.5px,#00ffaf 80.5px,#00fdea 83.5px,#00e9ff 85.5px,#008fff 89.5px,#005aff 91.5px,#0043ff 93.5px,#0042ff 103.5px,#005dff 106.5px,#0070ff 107.5px,#00dbff 110.5px,#00eeff 111.5px,#00efff 123.5px,#00daff 127.5px,#00e0ff 135.5px,#00eeff 142.5px,#00eaff 165.5px,#00ccff 172.5px,#00d0ff 187.5px,#00dfff 193.5px,#00dfff 215.5px)"></div><div style="left:57px;top:43px;width:216px;height:1px;background:linear-gradient(90deg,#005eff 0.5px,#005dff 9.5px,#0075ff 14.5px,#00a3ff 17.5px,#00d2ff 19.5px,#00f2fb 20.5px,#00ffd5 21.5px,#00ff85 22.5px,#00ff09 23.5px,#00ff00 25.5px,#00ff00 29.5px,#25ff00 31.5px,#c0ff00 34.5px,#fcfa00 36.5px,#ffd100 38.5px,#ff7d00 41.5px,#ff6600 43.5px,#ff6700 54.5px,#ff7e00 56.5px,#ffe800 60.5px,#fefa00 61.5px,#cbff00 63.5px,#43ff00 66.5px,#1fff00 67.5px,#00ff00 69.5px,#00ff00 75.5px,#00ff1b 76.5px,#00ffb5 80.5px,#00fcec 83.5px,#00e6ff 85.5px,#008dff 89.5px,#005aff 91.5px,#0043ff 93.5px,#0043ff 103.5px,#005eff 106.5px,#0070ff 107.5px,#00d9ff 110.5px,#00ebff 111.5px,#00f1fe 122.5px,#00d7ff 127.5px,#00ddff 135.5px,#00ecff 141.5px,#00e8ff 165.5px,#00caff 172.5px,#00ceff 187.5px,#00ddff 193.5px,#00ddff 215.5px)"></div><div style="left:57px;top:44px;width:216px;height:1px;background:linear-gradient(90deg,#005eff 0.5px,#005dff 9.5px,#0075ff 14.5px,#00a3ff 17.5px,#00d2ff 19.5px,#00f2fb 20.5px,#00ffd5 21.5px,#00ff85 22.5px,#00ff09 23.5px,#00ff00 25.5px,#00ff00 29.5px,#21ff00 31.5px,#83ff00 33.5px,#b8ff00 34.5px,#f7fb00 36.5px,#ffd800 38.5px,#ff8900 41.5px,#ff6d00 43.5px,#ff6a00 53.5px,#ff7800 55.5px,#ffbd00 58.5px,#ffda00 59.5px,#f6fb00 61.5px,#beff00 63.5px,#35ff00 66.5px,#06ff00 68.5px,#00ff00 75.5px,#00ffb8 80.5px,#00fbed 83.5px,#00e4ff 85.5px,#008cff 89.5px,#005aff 91.5px,#0043ff 93.5px,#0043ff 103.5px,#005eff 106.5px,#0070ff 107.5px,#00d6ff 110.5px,#00e9ff 111.5px,#00f0fe 115.5px,#00eaff 123.5px,#00d4ff 127.5px,#00dbff 135.5px,#00ebff 141.5px,#00e7ff 165.5px,#00c8ff 172.5px,#00cbff 187.5px,#00dbff 193.5px,#00dbff 215.5px)"></div><div style="left:57px;top:45px;width:216px;height:1px;background:linear-gradient(90deg,#005eff 0.5px,#005dff 9.5px,#0075ff 14.5px,#00a3ff 17.5px,#00d2ff 19.5px,#00f2fb 20.5px,#00ffd5 21.5px,#00ff85 22.5px,#00ff09 23.5px,#00ff00 25.5px,#00ff00 29.5px,#0aff00 30.5px,#1eff00 31.5px,#47ff00 32.5px,#b0ff00 34.5px,#d7fe00 35.5px,#f3fb00 36.5px,#ffef00 37.5px,#ffc300 39.5px,#ff8100 42.5px,#ff7000 44.5px,#ff7100 53.5px,#ff8400 55.5px,#fff200 60.5px,#f0fb00 61.5px,#b2ff00 63.5px,#28ff00 66.5px,#01ff00 68.5px,#00ff03 75.5px,#00ff9c 79.5px,#00ffbb 80.5px,#00faef 83.5px,#00e2ff 85.5px,#008bff 89.5px,#005bff 91.5px,#0043ff 93.5px,#0044ff 103.5px,#005fff 106.5px,#0070ff 107.5px,#00d5ff 110.5px,#00e8ff 111.5px,#00f0ff 115.5px,#00edff 122.5px,#00d2ff 127.5px,#00d9ff 135.5px,#00eaff 141.5px,#00e5ff 165.5px,#00c6ff 172.5px,#00c9ff 187.5px,#00daff 193.5px,#00daff 215.5px)"></div><div style="left:57px;top:46px;width:216px;height:1px;background:linear-gradient(90deg,#005eff 0.5px,#005dff 9.5px,#0075ff 14.5px,#00a3ff 17.5px,#00d2ff 19.5px,#00f2fb 20.5px,#00ffd5 21.5px,#00ff85 22.5px,#00ff09 23.5px,#00ff00 25.5px,#00ff00 29.5px,#07ff00 30.5px,#1bff00 31.5px,#3fff00 32.5px,#a9ff00 34.5px,#d3fe00 35.5px,#effb00 36.5px,#fff200 37.5px,#ff8c00 42.5px,#ff7700 44.5px,#ff7800 53.5px,#ff9000 55.5px,#fff600 60.5px,#cefe00 62.5px,#22ff00 66.5px,#00ff00 68.5px,#00ff00 74.5px,#00ff0a 75.5px,#00ffa2 79.5px,#00ffd1 81.5px,#00f1fd 84.5px,#008aff 89.5px,#004bff 92.5px,#0041ff 95.5px,#0044ff 103.5px,#005fff 106.5px,#0070ff 107.5px,#00d4ff 110.5px,#00e7ff 111.5px,#00efff 115.5px,#00ecff 122.5px,#00d1ff 127.5px,#00d9ff 135.5px,#00e9ff 141.5px,#00e4ff 165.5px,#00c4ff 172.5px,#00c8ff 187.5px,#00d9ff 193.5px,#00d9ff 215.5px)"></div><div style="left:57px;top:47px;width:216px;height:1px;background:linear-gradient(90deg,#005eff 0.5px,#005dff 9.5px,#0075ff 14.5px,#00a3ff 17.5px,#00d2ff 19.5px,#00f2fb 20.5px,#00ffd5 21.5px,#00ff85 22.5px,#00ff09 23.5px,#00ff00 25.5px,#05ff00 30.5px,#18ff00 31.5px,#37ff00 32.5px,#a2ff00 34.5px,#cffe00 35.5px,#fff600 37.5px,#ff8900 43.5px,#ff7e00 46.5px,#ff8300 53.5px,#ffaf00 56.5px,#fefa00 60.5px,#c7ff00 62.5px,#3bff00 65.5px,#1cff00 66.5px,#09ff00 67.5px,#00ff00 69.5px,#00ff00 74.5px,#00ff11 75.5px,#00ffa8 79.5px,#00ffe5 82.5px,#00f0fe 84.5px,#004bff 92.5px,#0042ff 95.5px,#0044ff 103.5px,#005fff 106.5px,#0070ff 107.5px,#00d3ff 110.5px,#00e6ff 111.5px,#00eeff 115.5px,#00ebff 122.5px,#00d0ff 127.5px,#00d4ff 134.5px,#00e7ff 140.5px,#00e4ff 165.5px,#00c4ff 171.5px,#00c7ff 187.5px,#00d7ff 193.5px,#00d7ff 215.5px)"></div><div style="left:57px;top:48px;width:216px;height:1px;background:linear-gradient(90deg,#005eff 0.5px,#005dff 9.5px,#0075ff 14.5px,#00a3ff 17.5px,#00d2ff 19.5px,#00f2fb 20.5px,#00ffd5 21.5px,#00ff85 22.5px,#00ff0a 23.5px,#00ff00 25.5px,#02ff00 30.5px,#30ff00 32.5px,#cbff00 35.5px,#fff900 37.5px,#ffb500 41.5px,#ff9300 43.5px,#ff8700 46.5px,#ff8d00 53.5px,#ffee00 59.5px,#f8fb00 60.5px,#bcff00 62.5px,#2dff00 65.5px,#03ff00 67.5px,#00ff00 74.5px,#00ff19 75.5px,#00ffae 79.5px,#00fee7 82.5px,#00efff 84.5px,#004cff 92.5px,#0042ff 95.5px,#0044ff 103.5px,#005fff 106.5px,#006fff 107.5px,#00d3ff 110.5px,#00e5ff 111.5px,#00edff 115.5px,#00eaff 122.5px,#00cfff 127.5px,#00d3ff 134.5px,#00e6ff 140.5px,#00e3ff 165.5px,#00c3ff 171.5px,#00c5ff 187.5px,#00d6ff 193.5px,#00d6ff 215.5px)"></div><div style="left:57px;top:49px;width:216px;height:1px;background:linear-gradient(90deg,#005eff 0.5px,#005dff 9.5px,#0075ff 14.5px,#00a3ff 17.5px,#00d2ff 19.5px,#00f2fb 20.5px,#00ffd5 21.5px,#00ff85 22.5px,#00ff0a 23.5px,#00ff00 25.5px,#00ff00 30.5px,#28ff00 32.5px,#c6ff00 35.5px,#fdfa00 37.5px,#ffbf00 41.5px,#ff9d00 43.5px,#ff9000 46.5px,#ff9700 53.5px,#ffe600 58.5px,#fff300 59.5px,#f1fb00 60.5px,#d5fe00 61.5px,#afff00 62.5px,#24ff00 65.5px,#00ff00 67.5px,#00ff00 74.5px,#00ffb3 79.5px,#00fde9 82.5px,#00ecff 84.5px,#004cff 92.5px,#0042ff 95.5px,#0044ff 103.5px,#005eff 106.5px,#006fff 107.5px,#00d2ff 110.5px,#00e5ff 111.5px,#00edff 115.5px,#00e9ff 122.5px,#00cfff 126.5px,#00d3ff 134.5px,#00e6ff 140.5px,#00e2ff 165.5px,#00c2ff 171.5px,#00c4ff 187.5px,#00d5ff 193.5px,#00d5ff 215.5px)"></div><div style="left:57px;top:50px;width:216px;height:1px;background:linear-gradient(90deg,#005eff 0.5px,#005dff 9.5px,#0075ff 14.5px,#00a3ff 17.5px,#00d2ff 19.5px,#00f2fb 20.5px,#00ffd5 21.5px,#00ff85 22.5px,#00ff0a 23.5px,#00ff00 25.5px,#00ff00 30.5px,#25ff00 32.5px,#c0ff00 35.5px,#f8fb00 37.5px,#ffc700 41.5px,#ff9c00 44.5px,#ff9b00 52.5px,#ffaf00 54.5px,#ffe200 57.5px,#fefa00 59.5px,#cbff00 61.5px,#3fff00 64.5px,#1eff00 65.5px,#00ff00 67.5px,#00ff03 74.5px,#00ffb7 79.5px,#00fceb 82.5px,#00eaff 84.5px,#004cff 92.5px,#0042ff 95.5px,#0044ff 103.5px,#005eff 106.5px,#006fff 107.5px,#00d1ff 110.5px,#00e4ff 111.5px,#00ecff 115.5px,#00e8ff 122.5px,#00ceff 126.5px,#00d2ff 134.5px,#00e5ff 140.5px,#00e1ff 165.5px,#00c1ff 171.5px,#00c3ff 187.5px,#00d4ff 193.5px,#00d4ff 215.5px)"></div><div style="left:57px;top:51px;width:216px;height:1px;background:linear-gradient(90deg,#005eff 0.5px,#005dff 9.5px,#0075ff 14.5px,#00a3ff 17.5px,#00d2ff 19.5px,#00f2fb 20.5px,#00ffd5 21.5px,#00ff85 22.5px,#00ff0a 23.5px,#00ff00 25.5px,#00ff00 30.5px,#22ff00 32.5px,#bbff00 35.5px,#f5fb00 37.5px,#fff300 38.5px,#ffcc00 41.5px,#ffa400 44.5px,#ffa400 52.5px,#ffbb00 54.5px,#ffea00 57.5px,#fff600 58.5px,#f1fb00 59.5px,#d9fd00 60.5px,#b6ff00 61.5px,#2dff00 64.5px,#05ff00 66.5px,#00ff00 73.5px,#00ff0a 74.5px,#00ff9c 78.5px,#00ffba 79.5px,#00fbec 82.5px,#00e8ff 84.5px,#004cff 92.5px,#0042ff 95.5px,#0045ff 103.5px,#005eff 106.5px,#006fff 107.5px,#00d0ff 110.5px,#00e3ff 111.5px,#00ebff 115.5px,#00e7ff 122.5px,#00cdff 126.5px,#00d1ff 134.5px,#00e4ff 140.5px,#00e0ff 165.5px,#00c0ff 171.5px,#00c2ff 187.5px,#00d3ff 193.5px,#00d3ff 215.5px)"></div><div style="left:57px;top:52px;width:216px;height:1px;background:linear-gradient(90deg,#005eff 0.5px,#005dff 9.5px,#0075ff 14.5px,#00a3ff 17.5px,#00d2ff 19.5px,#00f2fb 20.5px,#00ffd5 21.5px,#00ff85 22.5px,#00ff0a 23.5px,#00ff00 25.5px,#00ff00 30.5px,#0aff00 31.5px,#1fff00 32.5px,#49ff00 33.5px,#b5ff00 35.5px,#d9fd00 36.5px,#f1fb00 37.5px,#fff500 38.5px,#ffac00 44.5px,#ffae00 52.5px,#ffc600 54.5px,#fff200 57.5px,#f8fb00 58.5px,#caff00 60.5px,#45ff00 63.5px,#22ff00 64.5px,#00ff00 66.5px,#00ff00 73.5px,#00ff10 74.5px,#00ffa1 78.5px,#00ffcf 80.5px,#00f3fa 83.5px,#0097ff 88.5px,#004cff 92.5px,#0043ff 95.5px,#0045ff 103.5px,#005eff 106.5px,#006eff 107.5px,#00d0ff 110.5px,#00e3ff 111.5px,#00ebff 115.5px,#00e5ff 122.5px,#00ccff 126.5px,#00d1ff 134.5px,#00e3ff 140.5px,#00dfff 165.5px,#00beff 171.5px,#00c1ff 187.5px,#00d1ff 193.5px,#00d1ff 215.5px)"></div><div style="left:57px;top:53px;width:216px;height:1px;background:linear-gradient(90deg,#005eff 0.5px,#005dff 9.5px,#0075ff 14.5px,#00a3ff 17.5px,#00d2ff 19.5px,#00f2fb 20.5px,#00ffd5 21.5px,#00ff85 22.5px,#00ff0a 23.5px,#00ff00 24.5px,#00ff00 30.5px,#08ff00 31.5px,#1cff00 32.5px,#43ff00 33.5px,#b0ff00 35.5px,#d5fe00 36.5px,#fff800 38.5px,#ffba00 43.5px,#ffb100 48.5px,#ffb800 52.5px,#fefa00 57.5px,#d6fe00 59.5px,#b4ff00 60.5px,#31ff00 63.5px,#09ff00 65.5px,#00ff00 67.5px,#00ff00 73.5px,#00ff17 74.5px,#00ffa7 78.5px,#00ffe2 81.5px,#00f2fb 83.5px,#004cff 92.5px,#0043ff 96.5px,#0045ff 103.5px,#005eff 106.5px,#006eff 107.5px,#00cfff 110.5px,#00e2ff 111.5px,#00eaff 115.5px,#00e4ff 122.5px,#00cbff 126.5px,#00d0ff 134.5px,#00e2ff 140.5px,#00deff 165.5px,#00bdff 171.5px,#00bfff 187.5px,#00d0ff 193.5px,#00d0ff 215.5px)"></div><div style="left:57px;top:54px;width:216px;height:1px;background:linear-gradient(90deg,#005eff 0.5px,#005dff 9.5px,#0075ff 14.5px,#00a3ff 17.5px,#00d2ff 19.5px,#00f2fb 20.5px,#00ffd5 21.5px,#00ff85 22.5px,#00ff0a 23.5px,#00ff00 24.5px,#06ff00 31.5px,#19ff00 32.5px,#3cff00 33.5px,#abff00 35.5px,#d2fe00 36.5px,#fffa00 38.5px,#ffc000 43.5px,#ffba00 50.5px,#ffcd00 53.5px,#fff500 56.5px,#dffd00 58.5px,#c8ff00 59.5px,#45ff00 62.5px,#23ff00 63.5px,#02ff00 65.5px,#00ff00 73.5px,#00ffac 78.5px,#00ffe5 81.5px,#00f2fc 83.5px,#004cff 92.5px,#0043ff 96.5px,#0045ff 103.5px,#005eff 106.5px,#006eff 107.5px,#00ceff 110.5px,#00e1ff 111.5px,#00e9ff 115.5px,#00e3ff 122.5px,#00caff 126.5px,#00d0ff 134.5px,#00e1ff 140.5px,#00deff 165.5px,#00bcff 171.5px,#00beff 187.5px,#00cfff 193.5px,#00cfff 215.5px)"></div><div style="left:57px;top:55px;width:216px;height:1px;background:linear-gradient(90deg,#005eff 0.5px,#005dff 9.5px,#0075ff 14.5px,#00a3ff 17.5px,#00d2ff 19.5px,#00f2fb 20.5px,#00ffd5 21.5px,#00ff85 22.5px,#00ff0a 23.5px,#00ff00 24.5px,#04ff00 31.5px,#16ff00 32.5px,#36ff00 33.5px,#a6ff00 35.5px,#cffe00 36.5px,#fbfa00 38.5px,#ffc700 43.5px,#ffc400 51.5px,#fbfa00 56.5px,#d2fe00 58.5px,#b1ff00 59.5px,#30ff00 62.5px,#09ff00 64.5px,#00ff00 66.5px,#00ff02 73.5px,#00ffb2 78.5px,#00ffe7 81.5px,#00f1fe 83.5px,#005aff 91.5px,#0045ff 93.5px,#0045ff 103.5px,#005eff 106.5px,#006dff 107.5px,#0089ff 108.5px,#00cdff 110.5px,#00e0ff 111.5px,#00e8ff 115.5px,#00e2ff 122.5px,#00c9ff 126.5px,#00cfff 134.5px,#00e0ff 140.5px,#00ddff 165.5px,#00bbff 171.5px,#00bdff 187.5px,#00ceff 193.5px,#00ceff 215.5px)"></div><div style="left:57px;top:56px;width:216px;height:1px;background:linear-gradient(90deg,#005eff 0.5px,#005dff 9.5px,#0075ff 14.5px,#00a3ff 17.5px,#00d2ff 19.5px,#00f2fb 20.5px,#00ffd6 21.5px,#00ff87 22.5px,#00ff0d 23.5px,#00ff00 24.5px,#02ff00 31.5px,#14ff00 32.5px,#30ff00 33.5px,#a1ff00 35.5px,#ccff00 36.5px,#f7fb00 38.5px,#ffe800 40.5px,#ffca00 44.5px,#ffcd00 51.5px,#fff600 55.5px,#dcfd00 57.5px,#c5ff00 58.5px,#23ff00 62.5px,#02ff00 64.5px,#00ff00 72.5px,#00ff09 73.5px,#00ffb6 78.5px,#00f7f4 82.5px,#00f0ff 83.5px,#005aff 91.5px,#0045ff 93.5px,#0045ff 103.5px,#005eff 106.5px,#006dff 107.5px,#0088ff 108.5px,#00cdff 110.5px,#00e0ff 111.5px,#00e8ff 115.5px,#00e1ff 122.5px,#00c8ff 126.5px,#00ceff 134.5px,#00dfff 140.5px,#00dcff 165.5px,#00baff 171.5px,#00bcff 187.5px,#00cdff 193.5px,#00cdff 215.5px)"></div><div style="left:57px;top:57px;width:216px;height:1px;background:linear-gradient(90deg,#005dff 0.5px,#005fff 10.5px,#0075ff 14.5px,#00a3ff 17.5px,#00d1ff 19.5px,#00f2fc 20.5px,#00ffd9 21.5px,#00ff8f 22.5px,#00ff1a 23.5px,#00ff00 24.5px,#00ff00 31.5px,#2cff00 33.5px,#9cff00 35.5px,#c9ff00 36.5px,#f4fb00 38.5px,#fff500 39.5px,#ffd100 44.5px,#ffd500 51.5px,#fefa00 55.5px,#d5fe00 57.5px,#b8ff00 58.5px,#39ff00 61.5px,#1dff00 62.5px,#00ff00 64.5px,#00ff00 72.5px,#00ff10 73.5px,#00ff9b 77.5px,#00ffb9 78.5px,#00f6f5 82.5px,#00edff 83.5px,#005aff 91.5px,#0045ff 93.5px,#0046ff 103.5px,#005eff 106.5px,#006dff 107.5px,#0088ff 108.5px,#00ccff 110.5px,#00dfff 111.5px,#00e7ff 115.5px,#00e0ff 122.5px,#00c7ff 126.5px,#00c9ff 133.5px,#00ddff 139.5px,#00dbff 165.5px,#00b9ff 171.5px,#00bbff 187.5px,#00cbff 193.5px,#00cbff 215.5px)"></div><div style="left:57px;top:58px;width:216px;height:1px;background:linear-gradient(90deg,#005cff 0.5px,#005fff 10.5px,#0075ff 14.5px,#00a3ff 17.5px,#00d0ff 19.5px,#00f1fe 20.5px,#00ffde 21.5px,#00ff9d 22.5px,#00ff31 23.5px,#00ff00 24.5px,#00ff00 31.5px,#2aff00 33.5px,#99ff00 35.5px,#c6ff00 36.5px,#f1fb00 38.5px,#fff700 39.5px,#ffdb00 43.5px,#ffd900 50.5px,#fff200 54.5px,#f9fb00 55.5px,#d1fe00 57.5px,#b1ff00 58.5px,#32ff00 61.5px,#09ff00 63.5px,#00ff00 65.5px,#00ff00 72.5px,#00ff16 73.5px,#00ffa1 77.5px,#00ffcd 79.5px,#00f5f7 82.5px,#00d9ff 84.5px,#0059ff 91.5px,#0046ff 93.5px,#0046ff 103.5px,#005eff 106.5px,#006dff 107.5px,#0087ff 108.5px,#00cbff 110.5px,#00deff 111.5px,#00e6ff 115.5px,#00e4ff 121.5px,#00c6ff 126.5px,#00c9ff 133.5px,#00ddff 139.5px,#00daff 165.5px,#00b7ff 171.5px,#00b9ff 187.5px,#00caff 193.5px,#00caff 215.5px)"></div><div style="left:57px;top:59px;width:216px;height:1px;background:linear-gradient(90deg,#005aff 0.5px,#005eff 10.5px,#0074ff 14.5px,#00b8ff 18.5px,#00efff 20.5px,#00ffe3 21.5px,#00ffae 22.5px,#00ff4a 23.5px,#00ff00 24.5px,#00ff00 31.5px,#28ff00 33.5px,#96ff00 35.5px,#c3ff00 36.5px,#fffa00 39.5px,#ffdf00 43.5px,#ffe000 51.5px,#fff500 54.5px,#e2fd00 56.5px,#cdff00 57.5px,#81ff00 59.5px,#2dff00 61.5px,#07ff00 63.5px,#00ff00 67.5px,#00ff00 72.5px,#00ffa6 77.5px,#00ffe0 80.5px,#00e9ff 83.5px,#0058ff 91.5px,#0046ff 93.5px,#0046ff 103.5px,#005eff 106.5px,#006cff 107.5px,#0086ff 108.5px,#00cbff 110.5px,#00ddff 111.5px,#00e6ff 115.5px,#00e3ff 121.5px,#00c5ff 126.5px,#00c8ff 133.5px,#00dcff 139.5px,#00d9ff 165.5px,#00b6ff 171.5px,#00b8ff 187.5px,#00c9ff 193.5px,#00c9ff 215.5px)"></div><div style="left:57px;top:60px;width:216px;height:1px;background:linear-gradient(90deg,#0058ff 0.5px,#005dff 10.5px,#0074ff 14.5px,#00b8ff 18.5px,#00ecff 20.5px,#00fee8 21.5px,#00ffba 22.5px,#00ff05 24.5px,#00ff00 31.5px,#27ff00 33.5px,#93ff00 35.5px,#bfff00 36.5px,#fcfa00 39.5px,#ffe200 44.5px,#ffe900 52.5px,#fff800 54.5px,#caff00 57.5px,#28ff00 61.5px,#05ff00 63.5px,#00ff01 72.5px,#00ffab 77.5px,#00faee 81.5px,#00e7ff 83.5px,#0058ff 91.5px,#0046ff 93.5px,#0046ff 103.5px,#005eff 106.5px,#006cff 107.5px,#0086ff 108.5px,#00caff 110.5px,#00ddff 111.5px,#00e5ff 115.5px,#00e2ff 121.5px,#00c4ff 126.5px,#00c7ff 133.5px,#00dbff 139.5px,#00d8ff 165.5px,#00b5ff 171.5px,#00b7ff 187.5px,#00c8ff 193.5px,#00c8ff 215.5px)"></div><div style="left:57px;top:61px;width:216px;height:1px;background:linear-gradient(90deg,#0056ff 0.5px,#005fff 11.5px,#0073ff 14.5px,#00b8ff 18.5px,#00e9ff 20.5px,#00fbec 21.5px,#00ffc3 22.5px,#00ff78 23.5px,#00ff1d 24.5px,#00ff00 25.5px,#00ff00 31.5px,#27ff00 33.5px,#90ff00 35.5px,#bcff00 36.5px,#e9fc00 38.5px,#f9fb00 39.5px,#ffe400 45.5px,#ffed00 52.5px,#fdfa00 54.5px,#c6ff00 57.5px,#25ff00 61.5px,#03ff00 63.5px,#00ff00 71.5px,#00ff08 72.5px,#00ffb0 77.5px,#00f9f0 81.5px,#00e5ff 83.5px,#0057ff 91.5px,#0046ff 93.5px,#0046ff 103.5px,#005dff 106.5px,#006cff 107.5px,#0085ff 108.5px,#00c9ff 110.5px,#00dcff 111.5px,#00e4ff 115.5px,#00e1ff 121.5px,#00c5ff 125.5px,#00c6ff 133.5px,#00daff 139.5px,#00d8ff 165.5px,#00b4ff 171.5px,#00b6ff 187.5px,#00c7ff 193.5px,#00c7ff 215.5px)"></div><div style="left:57px;top:62px;width:216px;height:1px;background:linear-gradient(90deg,#0055ff 0.5px,#005fff 11.5px,#0073ff 14.5px,#00b8ff 18.5px,#00e6ff 20.5px,#00f9f0 21.5px,#00ffcc 22.5px,#00ff8d 23.5px,#00ff36 24.5px,#00ff00 25.5px,#00ff00 31.5px,#26ff00 33.5px,#b9ff00 36.5px,#e6fc00 38.5px,#fff800 40.5px,#ffe700 46.5px,#fff600 53.5px,#e9fc00 55.5px,#c1ff00 57.5px,#23ff00 61.5px,#01ff00 63.5px,#00ff00 71.5px,#00ff0e 72.5px,#00ffb5 77.5px,#00f8f1 81.5px,#00e3ff 83.5px,#0057ff 91.5px,#0046ff 93.5px,#0047ff 103.5px,#005dff 106.5px,#006cff 107.5px,#0084ff 108.5px,#00c8ff 110.5px,#00dbff 111.5px,#00e3ff 115.5px,#00e1ff 121.5px,#00c4ff 125.5px,#00c5ff 133.5px,#00d8ff 138.5px,#00d7ff 165.5px,#00b2ff 171.5px,#00b5ff 187.5px,#00c5ff 193.5px,#00c5ff 215.5px)"></div><div style="left:57px;top:63px;width:216px;height:1px;background:linear-gradient(90deg,#0053ff 0.5px,#005eff 11.5px,#0072ff 14.5px,#00ccff 19.5px,#00e3ff 20.5px,#00f7f4 21.5px,#00ffd5 22.5px,#00ffa1 23.5px,#00ff00 25.5px,#00ff00 31.5px,#25ff00 33.5px,#b6ff00 36.5px,#d2fe00 37.5px,#fefa00 40.5px,#ffea00 47.5px,#fffa00 53.5px,#d4fe00 56.5px,#bbff00 57.5px,#42ff00 60.5px,#21ff00 61.5px,#00ff00 63.5px,#00ff00 71.5px,#00ff15 72.5px,#00ffb8 77.5px,#00f7f3 81.5px,#00e1ff 83.5px,#0056ff 91.5px,#0046ff 93.5px,#0047ff 103.5px,#005dff 106.5px,#006bff 107.5px,#0084ff 108.5px,#00c8ff 110.5px,#00dbff 111.5px,#00e3ff 115.5px,#00e0ff 121.5px,#00c3ff 125.5px,#00c5ff 133.5px,#00d7ff 138.5px,#00d6ff 165.5px,#00b1ff 171.5px,#00b3ff 187.5px,#00c4ff 193.5px,#00c4ff 215.5px)"></div><div style="left:57px;top:64px;width:216px;height:1px;background:linear-gradient(90deg,#0052ff 0.5px,#005dff 11.5px,#0072ff 14.5px,#00e0ff 20.5px,#00f4f8 21.5px,#00ffdd 22.5px,#00ffb3 23.5px,#00ff64 24.5px,#00ff06 25.5px,#00ff00 29.5px,#00ff00 31.5px,#24ff00 33.5px,#b1ff00 36.5px,#cffe00 37.5px,#f9fb00 40.5px,#ffef00 48.5px,#fafa00 53.5px,#d0fe00 56.5px,#b5ff00 57.5px,#3cff00 60.5px,#1eff00 61.5px,#00ff00 63.5px,#00ff00 71.5px,#00ffba 77.5px,#00f7f4 81.5px,#00f0ff 82.5px,#0065ff 90.5px,#004bff 92.5px,#0045ff 102.5px,#0053ff 105.5px,#006bff 107.5px,#0083ff 108.5px,#00c7ff 110.5px,#00daff 111.5px,#00e2ff 115.5px,#00dfff 121.5px,#00c1ff 125.5px,#00c4ff 133.5px,#00d7ff 138.5px,#00d5ff 165.5px,#00b0ff 171.5px,#00b2ff 187.5px,#00c3ff 193.5px,#00c3ff 215.5px)"></div><div style="left:57px;top:65px;width:216px;height:1px;background:linear-gradient(90deg,#0051ff 0.5px,#0060ff 12.5px,#0080ff 15.5px,#00f3fa 21.5px,#00ffe2 22.5px,#00ffb9 23.5px,#00ff6d 24.5px,#00ff10 25.5px,#00ff00 26.5px,#00ff00 31.5px,#23ff00 33.5px,#aaff00 36.5px,#caff00 37.5px,#f4fb00 40.5px,#fff500 44.5px,#fff600 49.5px,#f4fb00 53.5px,#c9ff00 56.5px,#86ff00 58.5px,#35ff00 60.5px,#0aff00 62.5px,#00ff00 64.5px,#00ff01 71.5px,#00ffa5 76.5px,#00ffcd 78.5px,#00f6f5 81.5px,#00ddff 83.5px,#0064ff 90.5px,#004bff 92.5px,#0045ff 102.5px,#0053ff 105.5px,#006bff 107.5px,#0082ff 108.5px,#00c6ff 110.5px,#00d9ff 111.5px,#00e1ff 115.5px,#00deff 121.5px,#00c0ff 125.5px,#00c3ff 133.5px,#00d6ff 138.5px,#00d4ff 165.5px,#00afff 171.5px,#00b1ff 187.5px,#00c2ff 193.5px,#00c2ff 215.5px)"></div><div style="left:57px;top:66px;width:216px;height:1px;background:linear-gradient(90deg,#0051ff 0.5px,#0060ff 12.5px,#0080ff 15.5px,#00f3fa 21.5px,#00ffe3 22.5px,#00ffbb 23.5px,#00ff70 24.5px,#00ff12 25.5px,#00ff00 26.5px,#00ff00 31.5px,#20ff00 33.5px,#9fff00 36.5px,#c1ff00 37.5px,#e4fc00 39.5px,#fcfa00 43.5px,#fbfa00 50.5px,#e1fd00 54.5px,#bdff00 56.5px,#54ff00 59.5px,#2cff00 60.5px,#07ff00 62.5px,#00ff00 65.5px,#00ff00 70.5px,#00ff07 71.5px,#00ffaa 76.5px,#00ffdf 79.5px,#00ecff 82.5px,#0064ff 90.5px,#004bff 92.5px,#0047ff 103.5px,#005dff 106.5px,#0082ff 108.5px,#00c5ff 110.5px,#00d8ff 111.5px,#00e1ff 115.5px,#00ddff 121.5px,#00bfff 125.5px,#00c2ff 133.5px,#00d5ff 138.5px,#00d3ff 165.5px,#00adff 171.5px,#00afff 187.5px,#00c1ff 193.5px,#00c1ff 215.5px)"></div><div style="left:57px;top:67px;width:216px;height:1px;background:linear-gradient(90deg,#0051ff 0.5px,#0060ff 12.5px,#0080ff 15.5px,#00f3fa 21.5px,#00ffe3 22.5px,#00ffbb 23.5px,#00ff70 24.5px,#00ff12 25.5px,#00ff00 26.5px,#00ff00 31.5px,#1dff00 33.5px,#3dff00 34.5px,#93ff00 36.5px,#cffe00 38.5px,#eefc00 41.5px,#fffa00 47.5px,#e5fc00 53.5px,#caff00 55.5px,#6eff00 58.5px,#26ff00 60.5px,#04ff00 62.5px,#00ff00 70.5px,#00ff0d 71.5px,#00ffae 76.5px,#00fbed 80.5px,#00eaff 82.5px,#0063ff 90.5px,#004bff 92.5px,#0047ff 103.5px,#005dff 106.5px,#0081ff 108.5px,#00c5ff 110.5px,#00d8ff 111.5px,#00e0ff 115.5px,#00dcff 121.5px,#00beff 125.5px,#00c2ff 133.5px,#00d4ff 138.5px,#00d2ff 165.5px,#00acff 171.5px,#00aeff 187.5px,#00bfff 192.5px,#00bfff 215.5px)"></div><div style="left:57px;top:68px;width:216px;height:1px;background:linear-gradient(90deg,#0051ff 0.5px,#0060ff 12.5px,#0080ff 15.5px,#00f3fa 21.5px,#00ffe3 22.5px,#00ffbb 23.5px,#00ff70 24.5px,#00ff12 25.5px,#00ff00 26.5px,#00ff00 31.5px,#07ff00 32.5px,#34ff00 34.5px,#abff00 37.5px,#c9ff00 38.5px,#e8fc00 41.5px,#f9fb00 47.5px,#ddfd00 53.5px,#bdff00 55.5px,#22ff00 60.5px,#01ff00 62.5px,#00ff00 70.5px,#00ff13 71.5px,#00ffb2 76.5px,#00faef 80.5px,#00e9ff 82.5px,#0062ff 90.5px,#0047ff 93.5px,#0048ff 103.5px,#005dff 106.5px,#0080ff 108.5px,#00c4ff 110.5px,#00d7ff 111.5px,#00dfff 115.5px,#00dbff 121.5px,#00bcff 125.5px,#00c1ff 133.5px,#00d3ff 137.5px,#00d1ff 165.5px,#00abff 171.5px,#00adff 187.5px,#00beff 192.5px,#00beff 215.5px)"></div><div style="left:57px;top:69px;width:216px;height:1px;background:linear-gradient(90deg,#0051ff 0.5px,#0060ff 12.5px,#0080ff 15.5px,#00f3fa 21.5px,#00ffe3 22.5px,#00ffbb 23.5px,#00ff70 24.5px,#00ff12 25.5px,#00ff00 26.5px,#05ff00 32.5px,#2bff00 34.5px,#9fff00 37.5px,#bfff00 38.5px,#dbfd00 40.5px,#f4fb00 46.5px,#d5fe00 53.5px,#c9ff00 54.5px,#56ff00 58.5px,#35ff00 59.5px,#0eff00 61.5px,#00ff00 62.5px,#00ff00 70.5px,#00ff3a 72.5px,#00ffb6 76.5px,#00f9f0 80.5px,#00e7ff 82.5px,#006fff 89.5px,#004bff 92.5px,#0048ff 103.5px,#005dff 106.5px,#0080ff 108.5px,#00c3ff 110.5px,#00d6ff 111.5px,#00deff 115.5px,#00dbff 121.5px,#00bbff 125.5px,#00c0ff 133.5px,#00d2ff 137.5px,#00d1ff 165.5px,#00a9ff 171.5px,#00abff 187.5px,#00bdff 192.5px,#00bdff 215.5px)"></div><div style="left:57px;top:70px;width:216px;height:1px;background:linear-gradient(90deg,#0051ff 0.5px,#0060ff 12.5px,#0080ff 15.5px,#00f3fa 21.5px,#00ffe3 22.5px,#00ffbb 23.5px,#00ff70 24.5px,#00ff12 25.5px,#00ff00 26.5px,#03ff00 32.5px,#25ff00 34.5px,#b4ff00 38.5px,#cbff00 39.5px,#e9fc00 44.5px,#e9fc00 48.5px,#cdff00 53.5px,#a2ff00 55.5px,#2aff00 59.5px,#00ff00 62.5px,#00ff00 70.5px,#00ff9e 75.5px,#00ffb8 76.5px,#00f8f1 80.5px,#00e5ff 82.5px,#006fff 89.5px,#004bff 92.5px,#0048ff 103.5px,#005dff 106.5px,#0080ff 108.5px,#00c3ff 110.5px,#00d6ff 111.5px,#00deff 115.5px,#00daff 121.5px,#00baff 125.5px,#00bfff 133.5px,#00d1ff 137.5px,#00d0ff 165.5px,#00a8ff 171.5px,#00aaff 187.5px,#00bcff 192.5px,#00bcff 215.5px)"></div><div style="left:57px;top:71px;width:216px;height:1px;background:linear-gradient(90deg,#0051ff 0.5px,#0060ff 12.5px,#0080ff 15.5px,#00f3fa 21.5px,#00ffe3 22.5px,#00ffbb 23.5px,#00ff70 24.5px,#00ff12 25.5px,#00ff00 26.5px,#01ff00 32.5px,#21ff00 34.5px,#aaff00 38.5px,#c3ff00 39.5px,#dafd00 42.5px,#e8fc00 46.5px,#cffe00 52.5px,#c4ff00 53.5px,#5cff00 57.5px,#24ff00 59.5px,#00ff00 62.5px,#00ff05 70.5px,#00ffa2 75.5px,#00ffcb 77.5px,#00f7f3 80.5px,#00e3ff 82.5px,#006eff 89.5px,#004bff 92.5px,#0048ff 103.5px,#005dff 106.5px,#007fff 108.5px,#00c2ff 110.5px,#00d5ff 111.5px,#00ddff 115.5px,#00d9ff 121.5px,#00baff 125.5px,#00bfff 133.5px,#00d1ff 137.5px,#00cfff 165.5px,#00a8ff 171.5px,#00aaff 187.5px,#00bbff 192.5px,#00bbff 215.5px)"></div><div style="left:57px;top:72px;width:216px;height:1px;background:linear-gradient(90deg,#0051ff 0.5px,#0060ff 12.5px,#0080ff 15.5px,#00f3fa 21.5px,#00ffe3 22.5px,#00ffbb 23.5px,#00ff70 24.5px,#00ff12 25.5px,#00ff00 26.5px,#00ff00 32.5px,#1dff00 34.5px,#36ff00 35.5px,#9fff00 38.5px,#c9ff00 40.5px,#e2fd00 46.5px,#c7ff00 52.5px,#a1ff00 54.5px,#33ff00 58.5px,#04ff00 61.5px,#00ff00 69.5px,#00ff0b 70.5px,#00ffa7 75.5px,#00ffdc 78.5px,#00f1fe 81.5px,#006dff 89.5px,#004bff 92.5px,#0048ff 103.5px,#005dff 106.5px,#007fff 108.5px,#00c2ff 110.5px,#00d4ff 111.5px,#00dcff 115.5px,#00d8ff 121.5px,#00b9ff 125.5px,#00bfff 133.5px,#00d0ff 137.5px,#00ceff 165.5px,#00a7ff 171.5px,#00a9ff 187.5px,#00bbff 192.5px,#00bbff 215.5px)"></div><div style="left:57px;top:73px;width:216px;height:1px;background:linear-gradient(90deg,#0051ff 0.5px,#0060ff 12.5px,#0080ff 15.5px,#00f3fa 21.5px,#00ffe3 22.5px,#00ffbb 23.5px,#00ff70 24.5px,#00ff12 25.5px,#00ff00 26.5px,#00ff00 32.5px,#2cff00 35.5px,#94ff00 38.5px,#bfff00 40.5px,#dbfd00 45.5px,#ccff00 50.5px,#bbff00 52.5px,#94ff00 54.5px,#28ff00 58.5px,#01ff00 61.5px,#00ff00 69.5px,#00ff11 70.5px,#00ffac 75.5px,#00fceb 79.5px,#00f0ff 81.5px,#006cff 89.5px,#004bff 92.5px,#0048ff 103.5px,#005dff 106.5px,#007fff 108.5px,#00c1ff 110.5px,#00d4ff 111.5px,#00dcff 115.5px,#00d7ff 121.5px,#00b9ff 125.5px,#00beff 133.5px,#00cfff 137.5px,#00caff 166.5px,#00a6ff 171.5px,#00a8ff 187.5px,#00baff 192.5px,#00baff 215.5px)"></div><div style="left:57px;top:74px;width:216px;height:1px;background:linear-gradient(90deg,#0051ff 0.5px,#0060ff 12.5px,#0080ff 15.5px,#00f3fa 21.5px,#00ffe3 22.5px,#00ffbb 23.5px,#00ff70 24.5px,#00ff12 25.5px,#00ff00 26.5px,#00ff00 32.5px,#15ff00 34.5px,#25ff00 35.5px,#8aff00 38.5px,#b4ff00 40.5px,#d2fe00 44.5px,#d4fe00 47.5px,#bbff00 51.5px,#9fff00 53.5px,#22ff00 58.5px,#00ff00 61.5px,#00ff00 69.5px,#00ff37 71.5px,#00ffb1 75.5px,#00fbec 79.5px,#00eeff 81.5px,#006cff 89.5px,#004bff 92.5px,#0049ff 103.5px,#005dff 106.5px,#007fff 108.5px,#00c1ff 110.5px,#00d3ff 111.5px,#00dbff 115.5px,#00d7ff 121.5px,#00b8ff 125.5px,#00beff 133.5px,#00cfff 137.5px,#00c9ff 166.5px,#00a6ff 171.5px,#00a7ff 187.5px,#00b9ff 192.5px,#00baff 215.5px)"></div><div style="left:57px;top:75px;width:216px;height:1px;background:linear-gradient(90deg,#0051ff 0.5px,#0060ff 12.5px,#0080ff 15.5px,#00f3fa 21.5px,#00ffe3 22.5px,#00ffbb 23.5px,#00ff70 24.5px,#00ff12 25.5px,#00ff00 26.5px,#04ff00 33.5px,#20ff00 35.5px,#9aff00 39.5px,#beff00 42.5px,#d1fe00 46.5px,#b8ff00 50.5px,#92ff00 53.5px,#2aff00 57.5px,#00ff00 61.5px,#00ff00 69.5px,#00ffb5 75.5px,#00faee 79.5px,#00ecff 81.5px,#006bff 89.5px,#004bff 92.5px,#0049ff 103.5px,#005dff 106.5px,#007fff 108.5px,#00c1ff 110.5px,#00d3ff 111.5px,#00daff 116.5px,#00d6ff 121.5px,#00b8ff 125.5px,#00bdff 133.5px,#00ceff 137.5px,#00c8ff 166.5px,#00a5ff 171.5px,#00a6ff 187.5px,#00b9ff 192.5px,#00b9ff 215.5px)"></div><div style="left:57px;top:76px;width:216px;height:1px;background:linear-gradient(90deg,#0051ff 0.5px,#0060ff 12.5px,#0080ff 15.5px,#00f3fa 21.5px,#00ffe3 22.5px,#00ffbb 23.5px,#00ff70 24.5px,#00ff12 25.5px,#00ff00 26.5px,#01ff00 33.5px,#1cff00 35.5px,#31ff00 36.5px,#75ff00 38.5px,#a0ff00 40.5px,#caff00 45.5px,#bfff00 48.5px,#98ff00 52.5px,#53ff00 55.5px,#23ff00 57.5px,#02ff00 60.5px,#00ff05 69.5px,#00ff9e 74.5px,#00ffb8 75.5px,#00faef 79.5px,#00eaff 81.5px,#006aff 89.5px,#004aff 92.5px,#0049ff 103.5px,#005dff 106.5px,#007fff 108.5px,#00c0ff 110.5px,#00d2ff 111.5px,#00daff 116.5px,#00d5ff 121.5px,#00b7ff 125.5px,#00bdff 133.5px,#00cdff 137.5px,#00c8ff 166.5px,#00a4ff 171.5px,#00a6ff 187.5px,#00b8ff 192.5px,#00b8ff 215.5px)"></div><div style="left:57px;top:77px;width:216px;height:1px;background:linear-gradient(90deg,#0051ff 0.5px,#0060ff 12.5px,#0080ff 15.5px,#00f3fa 21.5px,#00ffe3 22.5px,#00ffbb 23.5px,#00ff70 24.5px,#00ff12 25.5px,#00ff00 26.5px,#00ff00 33.5px,#27ff00 36.5px,#6cff00 38.5px,#96ff00 40.5px,#c2ff00 45.5px,#b5ff00 48.5px,#8cff00 52.5px,#47ff00 55.5px,#2bff00 56.5px,#00ff00 60.5px,#00ff00 68.5px,#00ff0b 69.5px,#00ffa3 74.5px,#00ffca 76.5px,#00f9f0 79.5px,#00e8ff 81.5px,#0069ff 89.5px,#004aff 92.5px,#0049ff 103.5px,#005dff 106.5px,#007fff 108.5px,#00c0ff 110.5px,#00d1ff 111.5px,#00d9ff 116.5px,#00d4ff 121.5px,#00b7ff 125.5px,#00bcff 133.5px,#00cdff 137.5px,#00c7ff 166.5px,#00a3ff 171.5px,#00a5ff 187.5px,#00b8ff 192.5px,#00b8ff 215.5px)"></div><div style="left:57px;top:78px;width:216px;height:1px;background:linear-gradient(90deg,#0051ff 0.5px,#0060ff 12.5px,#0080ff 15.5px,#00f3fa 21.5px,#00ffe3 22.5px,#00ffbb 23.5px,#00ff70 24.5px,#00ff12 25.5px,#00ff00 26.5px,#05ff00 34.5px,#22ff00 36.5px,#63ff00 38.5px,#8bff00 40.5px,#b9ff00 45.5px,#b3ff00 47.5px,#80ff00 52.5px,#24ff00 56.5px,#03ff00 59.5px,#00ff00 68.5px,#00ff11 69.5px,#00ffa8 74.5px,#00ffda 77.5px,#00f2fc 80.5px,#0068ff 89.5px,#004aff 92.5px,#0049ff 103.5px,#005dff 106.5px,#007fff 108.5px,#00bfff 110.5px,#00d1ff 111.5px,#00d8ff 116.5px,#00d3ff 121.5px,#00b6ff 125.5px,#00bcff 133.5px,#00ccff 137.5px,#00c6ff 166.5px,#00a3ff 171.5px,#00a4ff 187.5px,#00b7ff 192.5px,#00b7ff 215.5px)"></div><div style="left:57px;top:79px;width:216px;height:1px;background:linear-gradient(90deg,#0051ff 0.5px,#0060ff 12.5px,#0080ff 15.5px,#00f3fa 21.5px,#00ffe3 22.5px,#00ffbb 23.5px,#00ff70 24.5px,#00ff12 25.5px,#00ff00 26.5px,#01ff00 34.5px,#1eff00 36.5px,#72ff00 39.5px,#aaff00 44.5px,#b0ff00 46.5px,#76ff00 52.5px,#4bff00 54.5px,#2fff00 55.5px,#00ff00 59.5px,#00ff00 68.5px,#00ff55 71.5px,#00ffad 74.5px,#00fde9 78.5px,#00f1fd 80.5px,#0068ff 89.5px,#004aff 92.5px,#0049ff 103.5px,#005dff 106.5px,#007fff 108.5px,#00bfff 110.5px,#00d0ff 111.5px,#00d8ff 116.5px,#00d2ff 121.5px,#00b6ff 125.5px,#00bbff 133.5px,#00ccff 137.5px,#00c6ff 166.5px,#00a2ff 171.5px,#00a3ff 187.5px,#00b6ff 192.5px,#00b7ff 215.5px)"></div><div style="left:57px;top:80px;width:216px;height:1px;background:linear-gradient(90deg,#0051ff 0.5px,#0060ff 12.5px,#0080ff 15.5px,#00f3fa 21.5px,#00ffe3 22.5px,#00ffbb 23.5px,#00ff70 24.5px,#00ff12 25.5px,#00ff00 26.5px,#00ff00 34.5px,#1bff00 36.5px,#32ff00 37.5px,#6cff00 39.5px,#a3ff00 44.5px,#a9ff00 46.5px,#6fff00 52.5px,#44ff00 54.5px,#28ff00 55.5px,#05ff00 58.5px,#00ff00 68.5px,#00ffb1 74.5px,#00fceb 78.5px,#00f1fe 80.5px,#0073ff 88.5px,#004aff 92.5px,#0049ff 103.5px,#005dff 106.5px,#007fff 108.5px,#00beff 110.5px,#00d0ff 111.5px,#00d7ff 116.5px,#00d2ff 121.5px,#00b5ff 125.5px,#00bbff 133.5px,#00cbff 137.5px,#00c5ff 166.5px,#00a1ff 171.5px,#00a2ff 187.5px,#00b6ff 192.5px,#00b6ff 215.5px)"></div><div style="left:57px;top:81px;width:216px;height:1px;background:linear-gradient(90deg,#0051ff 0.5px,#0060ff 12.5px,#0080ff 15.5px,#00f3fa 21.5px,#00ffe3 22.5px,#00ffbb 23.5px,#00ff70 24.5px,#00ff12 25.5px,#00ff00 26.5px,#00ff00 34.5px,#1aff00 36.5px,#2eff00 37.5px,#69ff00 39.5px,#9fff00 44.5px,#a5ff00 46.5px,#6bff00 52.5px,#27ff00 55.5px,#03ff00 58.5px,#00ff00 67.5px,#00ff06 68.5px,#00ffb5 74.5px,#00fbec 78.5px,#00f0ff 80.5px,#0072ff 88.5px,#004aff 92.5px,#004aff 103.5px,#005dff 106.5px,#007fff 108.5px,#00beff 110.5px,#00cfff 111.5px,#00d7ff 117.5px,#00d1ff 121.5px,#00b5ff 125.5px,#00baff 133.5px,#00caff 137.5px,#00c5ff 166.5px,#00a1ff 171.5px,#00a2ff 187.5px,#00b5ff 192.5px,#00b5ff 215.5px)"></div><div style="left:57px;top:82px;width:216px;height:1px;background:linear-gradient(90deg,#0051ff 0.5px,#0060ff 12.5px,#0080ff 15.5px,#00f3fa 21.5px,#00ffe3 22.5px,#00ffbb 23.5px,#00ff70 24.5px,#00ff12 25.5px,#00ff00 26.5px,#00ff00 34.5px,#2cff00 37.5px,#66ff00 39.5px,#9bff00 44.5px,#a1ff00 46.5px,#69ff00 52.5px,#25ff00 55.5px,#01ff00 58.5px,#00ff00 67.5px,#00ff0b 68.5px,#00ff9d 73.5px,#00ffb7 74.5px,#00fbed 78.5px,#00eeff 80.5px,#0071ff 88.5px,#004aff 92.5px,#004aff 103.5px,#005cff 106.5px,#007fff 108.5px,#00bdff 110.5px,#00cfff 111.5px,#00d6ff 117.5px,#00d0ff 121.5px,#00b7ff 124.5px,#00baff 133.5px,#00caff 137.5px,#00c4ff 166.5px,#00a0ff 171.5px,#00a1ff 187.5px,#00b4ff 192.5px,#00b5ff 215.5px)"></div><div style="left:57px;top:83px;width:216px;height:1px;background:linear-gradient(90deg,#0051ff 0.5px,#0060ff 12.5px,#0080ff 15.5px,#00f3fa 21.5px,#00ffe3 22.5px,#00ffbb 23.5px,#00ff70 24.5px,#00ff12 25.5px,#00ff00 26.5px,#00ff00 34.5px,#29ff00 37.5px,#63ff00 39.5px,#98ff00 44.5px,#9dff00 46.5px,#66ff00 52.5px,#24ff00 55.5px,#00ff00 58.5px,#00ff00 67.5px,#00ff10 68.5px,#00ffa1 73.5px,#00ffc8 75.5px,#00faee 78.5px,#00ecff 80.5px,#0070ff 88.5px,#004aff 92.5px,#004aff 103.5px,#005cff 106.5px,#007fff 108.5px,#00bdff 110.5px,#00ceff 111.5px,#00d5ff 117.5px,#00cfff 121.5px,#00b6ff 124.5px,#00b9ff 133.5px,#00c9ff 137.5px,#00c3ff 166.5px,#009fff 171.5px,#00a0ff 187.5px,#00b4ff 192.5px,#00b4ff 215.5px)"></div><div style="left:57px;top:84px;width:216px;height:1px;background:linear-gradient(90deg,#0051ff 0.5px,#0060ff 12.5px,#0080ff 15.5px,#00f3fa 21.5px,#00ffe3 22.5px,#00ffbb 23.5px,#00ff70 24.5px,#00ff12 25.5px,#00ff00 26.5px,#00ff00 34.5px,#27ff00 37.5px,#61ff00 39.5px,#94ff00 44.5px,#99ff00 46.5px,#63ff00 52.5px,#23ff00 55.5px,#00ff00 58.5px,#00ff00 67.5px,#00ff34 69.5px,#00ffa5 73.5px,#00ffd8 76.5px,#00f4f9 79.5px,#00bdff 83.5px,#0070ff 88.5px,#004aff 92.5px,#004aff 103.5px,#005cff 106.5px,#007fff 108.5px,#00bdff 110.5px,#00cdff 111.5px,#00d5ff 117.5px,#00ceff 121.5px,#00b5ff 124.5px,#00b9ff 133.5px,#00c8ff 137.5px,#00c3ff 166.5px,#009fff 171.5px,#009fff 187.5px,#00b3ff 192.5px,#00b3ff 215.5px)"></div><div style="left:57px;top:85px;width:216px;height:1px;background:linear-gradient(90deg,#0051ff 0.5px,#0060ff 12.5px,#0080ff 15.5px,#00f3fa 21.5px,#00ffe3 22.5px,#00ffbb 23.5px,#00ff70 24.5px,#00ff12 25.5px,#00ff00 26.5px,#00ff00 34.5px,#26ff00 37.5px,#5eff00 39.5px,#88ff00 43.5px,#96ff00 46.5px,#60ff00 52.5px,#22ff00 55.5px,#00ff00 58.5px,#00ff00 67.5px,#00ffa9 73.5px,#00fee7 77.5px,#00e9ff 80.5px,#006fff 88.5px,#004aff 92.5px,#004aff 103.5px,#005cff 106.5px,#007fff 108.5px,#00bcff 110.5px,#00cdff 111.5px,#00d4ff 117.5px,#00cdff 121.5px,#00b5ff 124.5px,#00b8ff 133.5px,#00c8ff 137.5px,#00c2ff 166.5px,#009eff 171.5px,#009fff 187.5px,#00b2ff 192.5px,#00b3ff 215.5px)"></div><div style="left:57px;top:86px;width:216px;height:1px;background:linear-gradient(90deg,#0051ff 0.5px,#0060ff 12.5px,#0080ff 15.5px,#00f3fa 21.5px,#00ffe3 22.5px,#00ffbb 23.5px,#00ff70 24.5px,#00ff12 25.5px,#00ff00 26.5px,#00ff00 34.5px,#15ff00 36.5px,#25ff00 37.5px,#5bff00 39.5px,#7dff00 42.5px,#92ff00 45.5px,#83ff00 48.5px,#5eff00 52.5px,#21ff00 55.5px,#00ff00 58.5px,#00ff03 67.5px,#00ffad 73.5px,#00fee8 77.5px,#00e7ff 80.5px,#006eff 88.5px,#004aff 92.5px,#004aff 103.5px,#005cff 106.5px,#007fff 108.5px,#00bcff 110.5px,#00ccff 111.5px,#00d3ff 118.5px,#00cdff 121.5px,#00b4ff 124.5px,#00b8ff 133.5px,#00c7ff 137.5px,#00c1ff 166.5px,#009dff 171.5px,#009eff 187.5px,#00b2ff 192.5px,#00b2ff 215.5px)"></div><div style="left:57px;top:87px;width:216px;height:1px;background:linear-gradient(90deg,#0051ff 0.5px,#0060ff 12.5px,#0080ff 15.5px,#00f3fa 21.5px,#00ffe3 22.5px,#00ffbb 23.5px,#00ff70 24.5px,#00ff12 25.5px,#00ff00 26.5px,#00ff00 34.5px,#14ff00 36.5px,#24ff00 37.5px,#58ff00 39.5px,#7aff00 42.5px,#8eff00 45.5px,#80ff00 48.5px,#5bff00 52.5px,#20ff00 55.5px,#00ff00 58.5px,#00ff00 66.5px,#00ff09 67.5px,#00ff97 72.5px,#00ffb1 73.5px,#00f7f3 78.5px,#00e6ff 80.5px,#006eff 88.5px,#004aff 92.5px,#004bff 103.5px,#005cff 106.5px,#007fff 108.5px,#00bbff 110.5px,#00ccff 111.5px,#00d3ff 118.5px,#00ccff 121.5px,#00b4ff 124.5px,#00b3ff 132.5px,#00c6ff 137.5px,#00c1ff 166.5px,#009cff 171.5px,#009dff 187.5px,#00b1ff 192.5px,#00b1ff 215.5px)"></div><div style="left:57px;top:88px;width:216px;height:1px;background:linear-gradient(90deg,#0051ff 0.5px,#0060ff 12.5px,#0080ff 15.5px,#00f3fa 21.5px,#00ffe3 22.5px,#00ffbb 23.5px,#00ff70 24.5px,#00ff12 25.5px,#00ff00 26.5px,#00ff00 34.5px,#13ff00 36.5px,#23ff00 37.5px,#56ff00 39.5px,#77ff00 42.5px,#8bff00 45.5px,#7cff00 48.5px,#58ff00 52.5px,#1fff00 55.5px,#00ff00 58.5px,#00ff00 66.5px,#00ff0e 67.5px,#00ff9b 72.5px,#00ffb5 73.5px,#00fceb 77.5px,#00f1fd 79.5px,#006dff 88.5px,#004aff 92.5px,#004bff 103.5px,#005cff 106.5px,#007fff 108.5px,#00bbff 110.5px,#00cbff 111.5px,#00d2ff 118.5px,#00cbff 121.5px,#00b3ff 124.5px,#00b3ff 132.5px,#00c6ff 137.5px,#00c0ff 166.5px,#009cff 171.5px,#009cff 187.5px,#00b0ff 192.5px,#00b1ff 215.5px)"></div><div style="left:57px;top:89px;width:216px;height:1px;background:linear-gradient(90deg,#0051ff 0.5px,#0060ff 12.5px,#0080ff 15.5px,#00f3fa 21.5px,#00ffe3 22.5px,#00ffbb 23.5px,#00ff70 24.5px,#00ff12 25.5px,#00ff00 26.5px,#05ff00 35.5px,#21ff00 37.5px,#53ff00 39.5px,#6dff00 41.5px,#87ff00 45.5px,#78ff00 48.5px,#56ff00 52.5px,#1eff00 55.5px,#00ff00 58.5px,#00ff00 66.5px,#00ff31 68.5px,#00ff9f 72.5px,#00ffc5 74.5px,#00f6f5 78.5px,#00e2ff 80.5px,#006cff 88.5px,#004aff 92.5px,#004bff 103.5px,#005cff 106.5px,#007fff 108.5px,#00baff 110.5px,#00caff 111.5px,#00d1ff 118.5px,#00caff 121.5px,#00b2ff 124.5px,#00b2ff 132.5px,#00c5ff 137.5px,#00bfff 166.5px,#009bff 171.5px,#009bff 187.5px,#00b0ff 192.5px,#00b0ff 215.5px)"></div><div style="left:57px;top:90px;width:216px;height:1px;background:linear-gradient(90deg,#0051ff 0.5px,#0060ff 12.5px,#0080ff 15.5px,#00f3fa 21.5px,#00ffe3 22.5px,#00ffbb 23.5px,#00ff70 24.5px,#00ff12 25.5px,#00ff00 26.5px,#05ff00 35.5px,#20ff00 37.5px,#50ff00 39.5px,#6aff00 41.5px,#83ff00 45.5px,#6eff00 49.5px,#53ff00 52.5px,#1dff00 55.5px,#04ff00 57.5px,#00ff00 66.5px,#00ffa4 72.5px,#00ffc8 74.5px,#00f5f6 78.5px,#00e1ff 80.5px,#006cff 88.5px,#004aff 92.5px,#004bff 103.5px,#005cff 106.5px,#007fff 108.5px,#00baff 110.5px,#00caff 111.5px,#00d1ff 118.5px,#00c9ff 121.5px,#00b2ff 124.5px,#00b2ff 132.5px,#00c4ff 137.5px,#00bfff 166.5px,#0098ff 172.5px,#009bff 187.5px,#00afff 192.5px,#00afff 215.5px)"></div><div style="left:57px;top:91px;width:216px;height:1px;background:linear-gradient(90deg,#0051ff 0.5px,#0060ff 12.5px,#0080ff 15.5px,#00f3fa 21.5px,#00ffe3 22.5px,#00ffbb 23.5px,#00ff70 24.5px,#00ff12 25.5px,#00ff00 26.5px,#04ff00 35.5px,#34ff00 38.5px,#5eff00 40.5px,#7fff00 45.5px,#6aff00 49.5px,#50ff00 52.5px,#28ff00 54.5px,#03ff00 57.5px,#00ff02 66.5px,#00ffa8 72.5px,#00ffe5 76.5px,#00eeff 79.5px,#006bff 88.5px,#004aff 92.5px,#004bff 103.5px,#005cff 106.5px,#007fff 108.5px,#00baff 110.5px,#00c9ff 111.5px,#00d0ff 118.5px,#00c9ff 121.5px,#00b1ff 124.5px,#00b1ff 132.5px,#00c4ff 137.5px,#00beff 166.5px,#0098ff 172.5px,#009aff 187.5px,#00aeff 192.5px,#00afff 215.5px)"></div><div style="left:57px;top:92px;width:216px;height:1px;background:linear-gradient(90deg,#0051ff 0.5px,#0060ff 12.5px,#0080ff 15.5px,#00f3fa 21.5px,#00ffe3 22.5px,#00ffbb 23.5px,#00ff70 24.5px,#00ff12 25.5px,#00ff00 26.5px,#03ff00 35.5px,#31ff00 38.5px,#5bff00 40.5px,#7bff00 45.5px,#67ff00 49.5px,#4dff00 52.5px,#27ff00 54.5px,#02ff00 57.5px,#00ff00 65.5px,#00ff08 66.5px,#00ff93 71.5px,#00ffbe 73.5px,#00f9f0 77.5px,#00ecff 79.5px,#006aff 88.5px,#004aff 92.5px,#004fff 104.5px,#0069ff 107.5px,#009eff 109.5px,#00b9ff 110.5px,#00c9ff 111.5px,#00cfff 118.5px,#00c8ff 121.5px,#00b1ff 124.5px,#00b1ff 132.5px,#00c3ff 137.5px,#00bdff 166.5px,#0097ff 172.5px,#0099ff 187.5px,#00aeff 192.5px,#00aeff 215.5px)"></div><div style="left:57px;top:93px;width:216px;height:1px;background:linear-gradient(90deg,#0051ff 0.5px,#0060ff 12.5px,#0080ff 15.5px,#00f3fa 21.5px,#00ffe3 22.5px,#00ffbb 23.5px,#00ff70 24.5px,#00ff12 25.5px,#00ff00 26.5px,#03ff00 35.5px,#2eff00 38.5px,#59ff00 40.5px,#78ff00 45.5px,#64ff00 49.5px,#4bff00 52.5px,#1aff00 55.5px,#01ff00 57.5px,#00ff00 65.5px,#00ff0d 66.5px,#00ff97 71.5px,#00ffb1 72.5px,#00f9f1 77.5px,#00dcff 80.5px,#006aff 88.5px,#004aff 92.5px,#004fff 104.5px,#0069ff 107.5px,#009dff 109.5px,#00b9ff 110.5px,#00ceff 112.5px,#00cdff 120.5px,#00b0ff 124.5px,#00b0ff 132.5px,#00c2ff 137.5px,#00bdff 166.5px,#0096ff 172.5px,#0098ff 187.5px,#00adff 192.5px,#00adff 215.5px)"></div><div style="left:57px;top:94px;width:216px;height:1px;background:linear-gradient(90deg,#0051ff 0.5px,#0060ff 12.5px,#0080ff 15.5px,#00f3fa 21.5px,#00ffe3 22.5px,#00ffbb 23.5px,#00ff70 24.5px,#00ff12 25.5px,#00ff00 26.5px,#02ff00 35.5px,#2cff00 38.5px,#56ff00 40.5px,#74ff00 45.5px,#61ff00 49.5px,#48ff00 52.5px,#19ff00 55.5px,#00ff00 57.5px,#00ff00 65.5px,#00ff2e 67.5px,#00ff9c 71.5px,#00ffb5 72.5px,#00f8f2 77.5px,#00daff 80.5px,#0073ff 87.5px,#004aff 92.5px,#004fff 104.5px,#0069ff 107.5px,#009dff 109.5px,#00b8ff 110.5px,#00cdff 112.5px,#00ccff 120.5px,#00afff 124.5px,#00afff 132.5px,#00c2ff 137.5px,#00bcff 166.5px,#0095ff 172.5px,#0098ff 187.5px,#00acff 192.5px,#00adff 215.5px)"></div><div style="left:57px;top:95px;width:216px;height:1px;background:linear-gradient(90deg,#0051ff 0.5px,#0060ff 12.5px,#0080ff 15.5px,#00f3fa 21.5px,#00ffe3 22.5px,#00ffbb 23.5px,#00ff70 24.5px,#00ff12 25.5px,#00ff00 26.5px,#01ff00 35.5px,#29ff00 38.5px,#54ff00 40.5px,#71ff00 45.5px,#57ff00 50.5px,#35ff00 53.5px,#00ff00 57.5px,#00ff00 65.5px,#00ffa0 71.5px,#00ffc5 73.5px,#00f7f3 77.5px,#00e7ff 79.5px,#0073ff 87.5px,#004aff 92.5px,#004fff 104.5px,#0069ff 107.5px,#009dff 109.5px,#00b8ff 110.5px,#00ccff 112.5px,#00cbff 120.5px,#00afff 124.5px,#00afff 132.5px,#00c1ff 137.5px,#00bbff 166.5px,#0095ff 172.5px,#0097ff 187.5px,#00acff 192.5px,#00acff 215.5px)"></div><div style="left:57px;top:96px;width:216px;height:1px;background:linear-gradient(90deg,#0051ff 0.5px,#0060ff 12.5px,#0080ff 15.5px,#00f3fa 21.5px,#00ffe3 22.5px,#00ffbb 23.5px,#00ff70 24.5px,#00ff12 25.5px,#00ff00 26.5px,#01ff00 35.5px,#27ff00 38.5px,#51ff00 40.5px,#6dff00 45.5px,#54ff00 50.5px,#32ff00 53.5px,#00ff00 57.5px,#00ff03 65.5px,#00ffa5 71.5px,#00ffd4 74.5px,#00f1fd 78.5px,#0072ff 87.5px,#004aff 92.5px,#004fff 104.5px,#0069ff 107.5px,#009dff 109.5px,#00b7ff 110.5px,#00ccff 112.5px,#00caff 120.5px,#00aeff 124.5px,#00aeff 132.5px,#00c0ff 137.5px,#00b7ff 167.5px,#0096ff 171.5px,#0096ff 187.5px,#00abff 192.5px,#00abff 215.5px)"></div><div style="left:57px;top:97px;width:216px;height:1px;background:linear-gradient(90deg,#0051ff 0.5px,#0060ff 12.5px,#0080ff 15.5px,#00f3fa 21.5px,#00ffe3 22.5px,#00ffbb 23.5px,#00ff70 24.5px,#00ff12 25.5px,#00ff00 26.5px,#00ff00 35.5px,#26ff00 38.5px,#4eff00 40.5px,#6aff00 45.5px,#51ff00 50.5px,#30ff00 53.5px,#00ff00 57.5px,#00ff00 64.5px,#00ff08 65.5px,#00ffa9 71.5px,#00ffe3 75.5px,#00f0fe 78.5px,#0071ff 87.5px,#004aff 92.5px,#0050ff 104.5px,#0069ff 107.5px,#00b7ff 110.5px,#00cbff 112.5px,#00caff 120.5px,#00adff 124.5px,#00aeff 132.5px,#00c0ff 137.5px,#00b7ff 167.5px,#0095ff 171.5px,#0095ff 187.5px,#00aaff 192.5px,#00abff 215.5px)"></div><div style="left:57px;top:98px;width:216px;height:1px;background:linear-gradient(90deg,#0051ff 0.5px,#0060ff 12.5px,#0080ff 15.5px,#00f3fa 21.5px,#00ffe3 22.5px,#00ffbb 23.5px,#00ff70 24.5px,#00ff12 25.5px,#00ff00 26.5px,#00ff00 35.5px,#25ff00 38.5px,#4cff00 40.5px,#67ff00 45.5px,#4eff00 50.5px,#2dff00 53.5px,#00ff00 57.5px,#00ff00 64.5px,#00ff0e 65.5px,#00ffae 71.5px,#00faee 76.5px,#00efff 78.5px,#0070ff 87.5px,#004aff 92.5px,#0050ff 104.5px,#0069ff 107.5px,#00b6ff 110.5px,#00cbff 112.5px,#00c9ff 120.5px,#00adff 124.5px,#00adff 132.5px,#00bfff 137.5px,#00b6ff 167.5px,#0095ff 171.5px,#0094ff 187.5px,#00aaff 192.5px,#00aaff 215.5px)"></div><div style="left:57px;top:99px;width:216px;height:1px;background:linear-gradient(90deg,#0051ff 0.5px,#0060ff 12.5px,#0080ff 15.5px,#00f3fa 21.5px,#00ffe3 22.5px,#00ffbb 23.5px,#00ff70 24.5px,#00ff12 25.5px,#00ff00 26.5px,#00ff00 35.5px,#23ff00 38.5px,#4aff00 40.5px,#64ff00 45.5px,#4bff00 50.5px,#2bff00 53.5px,#00ff00 57.5px,#00ff00 64.5px,#00ff2e 66.5px,#00ffb2 71.5px,#00f9ef 76.5px,#00edff 78.5px,#006fff 87.5px,#004aff 92.5px,#0050ff 104.5px,#0069ff 107.5px,#00b6ff 110.5px,#00caff 112.5px,#00c8ff 120.5px,#00acff 124.5px,#00adff 132.5px,#00beff 137.5px,#00b6ff 167.5px,#0094ff 171.5px,#0094ff 187.5px,#00a9ff 192.5px,#00a9ff 215.5px)"></div><div style="left:57px;top:100px;width:216px;height:1px;background:linear-gradient(90deg,#0051ff 0.5px,#0060ff 12.5px,#0080ff 15.5px,#00f3fa 21.5px,#00ffe3 22.5px,#00ffbb 23.5px,#00ff70 24.5px,#00ff12 25.5px,#00ff00 26.5px,#00ff00 35.5px,#23ff00 38.5px,#48ff00 40.5px,#62ff00 45.5px,#43ff00 51.5px,#00ff00 57.5px,#00ff00 64.5px,#00ffb5 71.5px,#00f9f1 76.5px,#00deff 79.5px,#006fff 87.5px,#004aff 92.5px,#0050ff 104.5px,#0069ff 107.5px,#00b6ff 110.5px,#00c9ff 112.5px,#00c7ff 120.5px,#00abff 124.5px,#00acff 132.5px,#00beff 137.5px,#00b5ff 167.5px,#0093ff 171.5px,#0093ff 187.5px,#00a8ff 192.5px,#00a8ff 215.5px)"></div><div style="left:57px;top:101px;width:216px;height:1px;background:linear-gradient(90deg,#0051ff 0.5px,#0060ff 12.5px,#0080ff 15.5px,#00f3fa 21.5px,#00ffe3 22.5px,#00ffbb 23.5px,#00ff70 24.5px,#00ff12 25.5px,#00ff00 26.5px,#00ff00 35.5px,#23ff00 38.5px,#48ff00 40.5px,#62ff00 45.5px,#43ff00 51.5px,#00ff00 57.5px,#00ff00 64.5px,#00ffa1 70.5px,#00ffc5 72.5px,#00f8f2 76.5px,#00dcff 79.5px,#006eff 87.5px,#004aff 92.5px,#0050ff 104.5px,#0069ff 107.5px,#00b5ff 110.5px,#00c9ff 112.5px,#00c7ff 120.5px,#00abff 124.5px,#00acff 132.5px,#00bdff 137.5px,#00b4ff 167.5px,#0093ff 171.5px,#0092ff 187.5px,#00a8ff 192.5px,#00a8ff 215.5px)"></div><div style="left:57px;top:102px;width:216px;height:1px;background:linear-gradient(90deg,#0051ff 0.5px,#0060ff 12.5px,#0080ff 15.5px,#00f3fa 21.5px,#00ffe3 22.5px,#00ffbb 23.5px,#00ff70 24.5px,#00ff12 25.5px,#00ff00 26.5px,#00ff00 35.5px,#23ff00 38.5px,#48ff00 40.5px,#62ff00 45.5px,#43ff00 51.5px,#00ff00 57.5px,#00ff00 64.5px,#00ff8c 69.5px,#00ffba 71.5px,#00f7f3 76.5px,#00dbff 79.5px,#006dff 87.5px,#0049ff 92.5px,#0050ff 104.5px,#0069ff 107.5px,#00b5ff 110.5px,#00c8ff 112.5px,#00c6ff 120.5px,#00aaff 124.5px,#00abff 132.5px,#00bcff 137.5px,#00b4ff 167.5px,#0092ff 171.5px,#0091ff 187.5px,#00a7ff 192.5px,#00a7ff 215.5px)"></div><div style="left:57px;top:103px;width:216px;height:1px;background:linear-gradient(90deg,#0051ff 0.5px,#0060ff 12.5px,#0080ff 15.5px,#00f3fa 21.5px,#00ffe3 22.5px,#00ffbb 23.5px,#00ff70 24.5px,#00ff12 25.5px,#00ff00 26.5px,#00ff00 35.5px,#23ff00 38.5px,#48ff00 40.5px,#62ff00 45.5px,#43ff00 51.5px,#00ff00 57.5px,#00ff00 64.5px,#00ff77 68.5px,#00ffbc 71.5px,#00f7f4 76.5px,#00d9ff 79.5px,#006dff 87.5px,#0049ff 92.5px,#0050ff 104.5px,#0069ff 107.5px,#00b4ff 110.5px,#00c7ff 112.5px,#00c5ff 120.5px,#00a9ff 124.5px,#00abff 132.5px,#00bcff 137.5px,#00b3ff 167.5px,#0091ff 171.5px,#0090ff 187.5px,#00a6ff 192.5px,#00a6ff 215.5px)"></div><div style="left:57px;top:104px;width:216px;height:1px;background:linear-gradient(90deg,#0051ff 0.5px,#0060ff 12.5px,#0080ff 15.5px,#00f3fa 21.5px,#00ffe3 22.5px,#00ffbb 23.5px,#00ff70 24.5px,#00ff12 25.5px,#00ff00 26.5px,#00ff00 35.5px,#23ff00 38.5px,#48ff00 40.5px,#62ff00 45.5px,#43ff00 51.5px,#00ff00 57.5px,#00ff01 64.5px,#00ff63 67.5px,#00ffad 70.5px,#00fbec 75.5px,#00e5ff 78.5px,#006cff 87.5px,#0049ff 92.5px,#0050ff 104.5px,#0069ff 107.5px,#00b4ff 110.5px,#00c7ff 112.5px,#00c5ff 120.5px,#00a9ff 124.5px,#00aaff 132.5px,#00bbff 136.5px,#00b3ff 167.5px,#0091ff 171.5px,#0090ff 187.5px,#00a5ff 192.5px,#00a6ff 215.5px)"></div><div style="left:57px;top:105px;width:216px;height:2px;background:linear-gradient(90deg,#0051ff 0.5px,#0060ff 12.5px,#0080ff 15.5px,#00f3fa 21.5px,#00ffe3 22.5px,#00ffbb 23.5px,#00ff70 24.5px,#00ff12 25.5px,#00ff00 26.5px,#00ff00 35.5px,#23ff00 38.5px,#48ff00 40.5px,#62ff00 45.5px,#43ff00 51.5px,#00ff00 57.5px,#00ff02 64.5px,#00ff69 67.5px,#00ffb3 70.5px,#00faee 75.5px,#00f0ff 77.5px,#006bff 87.5px,#0049ff 92.5px,#0051ff 104.5px,#0069ff 107.5px,#00b3ff 110.5px,#00c6ff 112.5px,#00c4ff 120.5px,#00a8ff 124.5px,#00a9ff 132.5px,#00baff 136.5px,#00b2ff 167.5px,#0090ff 171.5px,#008fff 187.5px,#00a4ff 192.5px,#00a5ff 215.5px)"></div><div style="left:57px;top:107px;width:216px;height:1px;background:linear-gradient(90deg,#0051ff 0.5px,#0060ff 12.5px,#0080ff 15.5px,#00f3fa 21.5px,#00ffe3 22.5px,#00ffbb 23.5px,#00ff70 24.5px,#00ff12 25.5px,#00ff00 26.5px,#00ff00 35.5px,#23ff00 38.5px,#48ff00 40.5px,#62ff00 45.5px,#43ff00 51.5px,#00ff00 57.5px,#00ff03 64.5px,#00ff6d 67.5px,#00ffb6 70.5px,#00f9ef 75.5px,#00efff 77.5px,#006bff 87.5px,#0049ff 92.5px,#0051ff 104.5px,#0069ff 107.5px,#00b3ff 110.5px,#00c5ff 112.5px,#00c3ff 120.5px,#00a7ff 124.5px,#00a9ff 132.5px,#00b9ff 136.5px,#00b1ff 167.5px,#008fff 171.5px,#008eff 187.5px,#00a4ff 192.5px,#00a4ff 215.5px)"></div><div style="left:57px;top:111px;width:216px;height:18px;background:linear-gradient(90deg,#0054ff 0.5px,#0041ff 9.5px,#0046ff 13.5px,#0061ff 16.5px,#0070ff 21.5px,#0094ff 24.5px,#00ceff 27.5px,#00e3ff 30.5px,#00dcff 36.5px,#00b0ff 51.5px,#00a3ff 60.5px,#009cff 64.5px,#005eff 78.5px,#0055ff 85.5px,#006cff 100.5px,#0076ff 112.5px,#007eff 120.5px,#007aff 134.5px,#008cff 151.5px,#0075ff 163.5px,#0059ff 176.5px,#007dff 196.5px,#0074ff 215.5px)"></div><div style="left:57px;top:129px;width:216px;height:17px;background:linear-gradient(90deg,#0054ff 0.5px,#0041ff 9.5px,#0046ff 13.5px,#0061ff 16.5px,#0070ff 21.5px,#0093ff 24.5px,#00c9ff 27.5px,#00e1ff 30.5px,#00ddff 36.5px,#00b2ff 50.5px,#00a3ff 60.5px,#009cff 64.5px,#005eff 78.5px,#0055ff 85.5px,#006cff 100.5px,#0076ff 112.5px,#007eff 120.5px,#007aff 134.5px,#008cff 151.5px,#0075ff 163.5px,#0059ff 176.5px,#007dff 196.5px,#0074ff 215.5px)"></div><div style="left:57px;top:146px;width:216px;height:17px;background:linear-gradient(90deg,#0054ff 0.5px,#0041ff 9.5px,#0046ff 13.5px,#0061ff 16.5px,#0070ff 21.5px,#0092ff 24.5px,#00d1ff 28.5px,#00e3ff 31.5px,#00daff 37.5px,#00b0ff 51.5px,#00a3ff 60.5px,#009cff 64.5px,#005eff 78.5px,#0055ff 85.5px,#006cff 100.5px,#0076ff 112.5px,#007eff 120.5px,#007aff 134.5px,#008cff 151.5px,#0075ff 163.5px,#0059ff 176.5px,#007dff 196.5px,#0074ff 215.5px)"></div><div style="left:57px;top:163px;width:216px;height:17px;background:linear-gradient(90deg,#0054ff 0.5px,#0041ff 9.5px,#0046ff 13.5px,#0061ff 16.5px,#0070ff 21.5px,#0090ff 24.5px,#00cdff 28.5px,#00e2ff 31.5px,#00dcff 37.5px,#00b2ff 50.5px,#00a3ff 60.5px,#009cff 64.5px,#005eff 78.5px,#0055ff 85.5px,#006cff 100.5px,#0076ff 112.5px,#007eff 120.5px,#007aff 134.5px,#008cff 151.5px,#0075ff 163.5px,#0059ff 176.5px,#007dff 196.5px,#0074ff 215.5px)"></div><div style="left:57px;top:180px;width:216px;height:17px;background:linear-gradient(90deg,#0054ff 0.5px,#0041ff 9.5px,#0046ff 13.5px,#0061ff 16.5px,#0070ff 21.5px,#008fff 24.5px,#00d5ff 29.5px,#00e4ff 32.5px,#00d9ff 38.5px,#00b2ff 50.5px,#00a3ff 60.5px,#009cff 64.5px,#005eff 78.5px,#0055ff 85.5px,#006cff 100.5px,#0076ff 112.5px,#007eff 120.5px,#007aff 134.5px,#008cff 151.5px,#0075ff 163.5px,#0059ff 176.5px,#007dff 196.5px,#0074ff 215.5px)"></div><div style="left:57px;top:197px;width:216px;height:11px;background:linear-gradient(90deg,#0054ff 0.5px,#0041ff 9.5px,#0046ff 13.5px,#0061ff 16.5px,#0070ff 21.5px,#009cff 25.5px,#00dcff 30.5px,#00e4ff 35.5px,#00b4ff 49.5px,#00a3ff 60.5px,#009cff 64.5px,#005eff 78.5px,#0055ff 85.5px,#006cff 100.5px,#0076ff 112.5px,#007eff 120.5px,#007aff 134.5px,#008cff 151.5px,#0075ff 163.5px,#0059ff 176.5px,#007dff 196.5px,#0074ff 215.5px)"></div><div style="left:387px;top:10px;width:218px;height:1px;background:linear-gradient(90deg,#0059ff 0.5px,#005aff 6.5px,#0082ff 16.5px,#00a7ff 20.5px,#00c3ff 22.5px,#00cdff 24.5px,#00f2fc 26.5px,#00ffd8 28.5px,#00ffa0 30.5px,#00ff59 32.5px,#00ff44 33.5px,#00ff3b 36.5px,#00ff3f 53.5px,#00ff7c 63.5px,#00ffc8 70.5px,#00f9ef 75.5px,#00e9ff 80.5px,#00bbff 87.5px,#0077ff 92.5px,#004aff 95.5px,#003fff 98.5px,#0043ff 107.5px,#0061ff 109.5px,#009dff 111.5px,#00bcff 112.5px,#00dcff 114.5px,#00f1fd 119.5px,#00f6f5 128.5px,#00ecff 175.5px,#00cdff 217.5px)"></div><div style="left:387px;top:11px;width:218px;height:1px;background:linear-gradient(90deg,#0059ff 0.5px,#005aff 6.5px,#0082ff 16.5px,#00a7ff 20.5px,#00e6ff 24.5px,#00f8f1 25.5px,#00ffd2 26.5px,#00ffa3 27.5px,#00ff00 29.5px,#00ff00 31.5px,#23ff00 33.5px,#2dff00 37.5px,#2fff00 52.5px,#00ff00 61.5px,#00ff00 69.5px,#00ff09 70.5px,#00ff68 72.5px,#00ffae 74.5px,#00ffe4 78.5px,#00f0ff 84.5px,#00daff 87.5px,#00acff 90.5px,#0053ff 94.5px,#003dff 96.5px,#003eff 107.5px,#004cff 108.5px,#0064ff 109.5px,#008bff 110.5px,#00e8ff 112.5px,#00ffe5 114.5px,#00ffd2 117.5px,#00ffca 124.5px,#00ffe4 130.5px,#00ffdc 136.5px,#00ffcd 150.5px,#00ffcf 164.5px,#00f9f0 198.5px,#00f4f9 217.5px)"></div><div style="left:387px;top:12px;width:218px;height:1px;background:linear-gradient(90deg,#0059ff 0.5px,#005aff 6.5px,#0082ff 16.5px,#00a7ff 20.5px,#00e0ff 23.5px,#00f5f6 24.5px,#00ffd4 25.5px,#00ff90 26.5px,#00ff1a 27.5px,#00ff00 28.5px,#03ff00 29.5px,#77ff00 30.5px,#fbfa00 31.5px,#ffcc00 32.5px,#ffaf00 33.5px,#ffa200 36.5px,#ff9500 52.5px,#ffad00 55.5px,#fff100 61.5px,#fafa00 62.5px,#d1fe00 64.5px,#86ff00 66.5px,#30ff00 68.5px,#00ff00 70.5px,#00ff00 73.5px,#00ff76 75.5px,#00ffa0 76.5px,#00ffbd 77.5px,#00fee8 80.5px,#00ecff 87.5px,#00b8ff 90.5px,#0065ff 93.5px,#0043ff 95.5px,#0138ff 99.5px,#003aff 107.5px,#0049ff 108.5px,#0068ff 109.5px,#009dff 110.5px,#00deff 111.5px,#00ffe6 112.5px,#00ffa2 114.5px,#00ff88 115.5px,#00ff74 117.5px,#00ff7b 124.5px,#00ffb9 127.5px,#00ffca 130.5px,#00ffc5 134.5px,#00ff9c 140.5px,#00ff72 158.5px,#00ff9c 176.5px,#00ffbe 187.5px,#00ffd8 217.5px)"></div><div style="left:387px;top:13px;width:218px;height:1px;background:linear-gradient(90deg,#0059ff 0.5px,#005aff 6.5px,#0082ff 16.5px,#00a7ff 20.5px,#00e6ff 23.5px,#00faee 24.5px,#00ffc0 25.5px,#00ff59 26.5px,#00ff00 27.5px,#00ff00 28.5px,#5bff00 29.5px,#ffed00 30.5px,#ff6f00 31.5px,#ff3f00 32.5px,#ff2f00 34.5px,#ff1700 52.5px,#ff6100 60.5px,#ff8600 62.5px,#ffdf00 65.5px,#fff500 66.5px,#e4fc00 67.5px,#b6ff00 68.5px,#21ff00 70.5px,#00ff00 71.5px,#00ff00 73.5px,#00ff0d 74.5px,#00ff55 75.5px,#00ff8c 76.5px,#00ffb7 77.5px,#00ffdd 79.5px,#00faee 82.5px,#00f0ff 87.5px,#00baff 90.5px,#0065ff 93.5px,#0042ff 95.5px,#0137ff 99.5px,#0137ff 107.5px,#0048ff 108.5px,#006aff 109.5px,#00a7ff 110.5px,#00f0ff 111.5px,#00ffd0 112.5px,#00ff68 114.5px,#00ff43 115.5px,#00ff2f 116.5px,#00ff2b 119.5px,#00ff35 123.5px,#00ff40 124.5px,#00ff80 126.5px,#00ffa3 127.5px,#00ffb8 128.5px,#00ffc5 132.5px,#00ffb4 135.5px,#00ff82 139.5px,#00ff45 158.5px,#00ff82 178.5px,#00ffad 190.5px,#00ffc6 217.5px)"></div><div style="left:387px;top:14px;width:218px;height:1px;background:linear-gradient(90deg,#0059ff 0.5px,#005aff 6.5px,#0082ff 16.5px,#00a7ff 20.5px,#00e8ff 23.5px,#00fbec 24.5px,#00ffbb 25.5px,#00ff45 26.5px,#00ff00 27.5px,#00ff00 28.5px,#78ff00 29.5px,#ffe700 30.5px,#ff7500 31.5px,#ff4f00 32.5px,#ff4300 35.5px,#ff3600 49.5px,#ff4800 53.5px,#ff8000 58.5px,#ffbe00 61.5px,#ffe900 63.5px,#fefa00 64.5px,#bfff00 66.5px,#1eff00 69.5px,#00ff00 70.5px,#00ff00 73.5px,#00ff76 75.5px,#00ffa3 76.5px,#00ffc0 77.5px,#00ffe7 80.5px,#00f0ff 87.5px,#00baff 90.5px,#0065ff 93.5px,#0042ff 95.5px,#0136ff 100.5px,#0137ff 107.5px,#0047ff 108.5px,#006aff 109.5px,#00a8ff 110.5px,#00f1fe 111.5px,#00ffcd 112.5px,#00ff5f 114.5px,#00ff38 115.5px,#00ff22 116.5px,#00ff1d 118.5px,#00ff2c 123.5px,#00ff39 124.5px,#00ff84 126.5px,#00ffad 127.5px,#00ffc0 128.5px,#00ffd2 132.5px,#00ffb7 136.5px,#00ff93 139.5px,#00ff67 158.5px,#00ff9c 178.5px,#00ffb9 188.5px,#00ffcd 217.5px)"></div><div style="left:387px;top:15px;width:218px;height:1px;background:linear-gradient(90deg,#0059ff 0.5px,#005aff 6.5px,#0082ff 16.5px,#00a7ff 20.5px,#00e8ff 23.5px,#00fceb 24.5px,#00ffb7 25.5px,#00ff38 26.5px,#00ff00 27.5px,#05ff00 28.5px,#70ff00 29.5px,#f3fb00 30.5px,#ffcb00 31.5px,#ffa900 32.5px,#ff9c00 35.5px,#ff9200 48.5px,#ffb600 51.5px,#fff100 55.5px,#fbfa00 56.5px,#c7ff00 59.5px,#33ff00 64.5px,#00ff00 67.5px,#00ff00 71.5px,#00ff1c 72.5px,#00ff53 73.5px,#00ff9f 75.5px,#00ffba 76.5px,#00ffde 79.5px,#00f0ff 87.5px,#00baff 90.5px,#0065ff 93.5px,#0042ff 95.5px,#0136ff 100.5px,#0137ff 107.5px,#0047ff 108.5px,#006aff 109.5px,#00a7ff 110.5px,#00f0ff 111.5px,#00ffcf 112.5px,#00ff65 114.5px,#00ff3e 115.5px,#00ff29 116.5px,#00ff24 118.5px,#00ff33 123.5px,#00ff42 124.5px,#00ffbb 127.5px,#00ffd7 129.5px,#00ffe5 132.5px,#00ffc9 136.5px,#00ffac 140.5px,#00ff96 159.5px,#00ffcb 186.5px,#00ffdb 217.5px)"></div><div style="left:387px;top:16px;width:218px;height:1px;background:linear-gradient(90deg,#0059ff 0.5px,#005aff 6.5px,#0082ff 16.5px,#00a7ff 20.5px,#00e8ff 23.5px,#00fdea 24.5px,#00ffb0 25.5px,#00ff28 26.5px,#00ff00 27.5px,#00ff00 28.5px,#4bff00 29.5px,#c0ff00 30.5px,#f7fb00 31.5px,#ffe400 33.5px,#ffdd00 48.5px,#fff700 51.5px,#cffe00 54.5px,#28ff00 60.5px,#00ff00 64.5px,#00ff00 70.5px,#00ff1b 71.5px,#00ff50 72.5px,#00ff97 74.5px,#00ffb4 75.5px,#00ffd9 78.5px,#00f0ff 87.5px,#00baff 90.5px,#0065ff 93.5px,#0042ff 95.5px,#0136ff 100.5px,#0137ff 107.5px,#0047ff 108.5px,#0069ff 109.5px,#00a6ff 110.5px,#00efff 111.5px,#00ffd1 112.5px,#00ff6b 114.5px,#00ff45 115.5px,#00ff30 116.5px,#00ff2c 118.5px,#00ff3d 123.5px,#00ff4d 124.5px,#00ff71 125.5px,#00ffa3 126.5px,#00ffc7 127.5px,#00ffe6 129.5px,#00f9f0 133.5px,#00ffc3 139.5px,#00ffbb 160.5px,#00ffe4 188.5px,#00fceb 217.5px)"></div><div style="left:387px;top:17px;width:218px;height:1px;background:linear-gradient(90deg,#0059ff 0.5px,#005aff 6.5px,#0082ff 16.5px,#00a7ff 20.5px,#00e9ff 23.5px,#00fee8 24.5px,#00ffa6 25.5px,#00ff19 26.5px,#00ff00 27.5px,#00ff00 28.5px,#24ff00 29.5px,#c2ff00 31.5px,#e4fc00 32.5px,#f7fb00 33.5px,#fff600 35.5px,#fff600 48.5px,#fdfa00 49.5px,#bdff00 53.5px,#2aff00 58.5px,#00ff00 62.5px,#00ff00 70.5px,#00ff65 72.5px,#00ffa4 74.5px,#00ffc9 76.5px,#00ffe5 80.5px,#00f0ff 87.5px,#00baff 90.5px,#0065ff 93.5px,#0042ff 95.5px,#0136ff 100.5px,#0137ff 107.5px,#0047ff 108.5px,#0069ff 109.5px,#00a5ff 110.5px,#00edff 111.5px,#00ffd3 112.5px,#00ff70 114.5px,#00ff4c 115.5px,#00ff37 116.5px,#00ff34 118.5px,#00ff48 123.5px,#00ff5a 124.5px,#00ff7f 125.5px,#00ffb4 126.5px,#00fee8 128.5px,#00f2fc 132.5px,#00ffe1 137.5px,#00ffd2 141.5px,#00ffd2 162.5px,#00ffe5 173.5px,#00f6f6 184.5px,#00f3f9 217.5px)"></div><div style="left:387px;top:18px;width:218px;height:1px;background:linear-gradient(90deg,#0059ff 0.5px,#005aff 6.5px,#0082ff 16.5px,#00a7ff 20.5px,#00ceff 22.5px,#00e9ff 23.5px,#00fee7 24.5px,#00ffa0 25.5px,#00ff12 26.5px,#00ff00 27.5px,#00ff00 28.5px,#16ff00 29.5px,#4cff00 30.5px,#8fff00 31.5px,#c7ff00 32.5px,#dffd00 33.5px,#f0fb00 35.5px,#f1fb00 48.5px,#cffe00 51.5px,#85ff00 54.5px,#2cff00 57.5px,#05ff00 60.5px,#00ff00 69.5px,#00ff09 70.5px,#00ff43 71.5px,#00ff71 72.5px,#00ffaf 74.5px,#00ffd8 77.5px,#00f0ff 87.5px,#00bbff 90.5px,#0065ff 93.5px,#0042ff 95.5px,#0136ff 100.5px,#0137ff 107.5px,#0047ff 108.5px,#0069ff 109.5px,#00a5ff 110.5px,#00ebff 111.5px,#00ffd6 112.5px,#00ff75 114.5px,#00ff52 115.5px,#00ff3e 116.5px,#00ff3c 118.5px,#00ff54 123.5px,#00ff67 124.5px,#00ff8c 125.5px,#00ffbe 126.5px,#00ffdf 127.5px,#00f3fa 129.5px,#00e6ff 133.5px,#00ffe5 139.5px,#00ffe6 163.5px,#00f8f1 172.5px,#00e6ff 178.5px,#00ddff 183.5px,#00e1ff 207.5px,#00e0ff 217.5px)"></div><div style="left:387px;top:19px;width:218px;height:1px;background:linear-gradient(90deg,#0059ff 0.5px,#005aff 6.5px,#0082ff 16.5px,#00a7ff 20.5px,#00ceff 22.5px,#00e9ff 23.5px,#00fee7 24.5px,#00ffa0 25.5px,#00ff13 26.5px,#00ff00 27.5px,#00ff00 28.5px,#11ff00 29.5px,#3aff00 30.5px,#b1ff00 32.5px,#d2fe00 33.5px,#e5fc00 35.5px,#e9fc00 48.5px,#c8ff00 51.5px,#25ff00 57.5px,#00ff00 60.5px,#00ff00 69.5px,#00ff19 70.5px,#00ff51 71.5px,#00ff7c 72.5px,#00ffb6 74.5px,#00ffdb 77.5px,#00f0ff 87.5px,#00bbff 90.5px,#0065ff 93.5px,#0043ff 95.5px,#0136ff 100.5px,#0137ff 107.5px,#0047ff 108.5px,#0069ff 109.5px,#00a4ff 110.5px,#00eaff 111.5px,#00ffd8 112.5px,#00ff79 114.5px,#00ff58 115.5px,#00ff44 116.5px,#00ff43 118.5px,#00ff5f 123.5px,#00ff72 124.5px,#00ffc7 126.5px,#00fde9 127.5px,#00f3fa 128.5px,#00d5ff 132.5px,#00e7ff 135.5px,#00f9f0 139.5px,#00f7f4 169.5px,#00ebff 173.5px,#00c1ff 180.5px,#00ccff 194.5px,#00cbff 217.5px)"></div><div style="left:387px;top:20px;width:218px;height:1px;background:linear-gradient(90deg,#0059ff 0.5px,#005aff 6.5px,#0082ff 16.5px,#00a7ff 20.5px,#00ceff 22.5px,#00e9ff 23.5px,#00fee7 24.5px,#00ffa1 25.5px,#00ff15 26.5px,#00ff00 27.5px,#00ff00 28.5px,#0dff00 29.5px,#30ff00 30.5px,#a0ff00 32.5px,#c8ff00 33.5px,#dcfd00 35.5px,#e7fc00 44.5px,#e4fc00 48.5px,#d1fe00 50.5px,#a8ff00 52.5px,#22ff00 57.5px,#00ff00 60.5px,#00ff00 69.5px,#00ff29 70.5px,#00ff5f 71.5px,#00ffa4 73.5px,#00ffc9 75.5px,#00ffe4 78.5px,#00f0ff 87.5px,#00bcff 90.5px,#0066ff 93.5px,#0043ff 95.5px,#0135ff 101.5px,#0137ff 107.5px,#0048ff 108.5px,#0069ff 109.5px,#00a3ff 110.5px,#00e8ff 111.5px,#00ffd9 112.5px,#00ff7d 114.5px,#00ff5d 115.5px,#00ff4a 116.5px,#00ff49 118.5px,#00ff68 123.5px,#00ff7c 124.5px,#00ffce 126.5px,#00faee 127.5px,#00eeff 128.5px,#00d6ff 130.5px,#00ccff 133.5px,#00f4f9 138.5px,#00f9f1 147.5px,#00f3fb 171.5px,#00b7ff 180.5px,#00c5ff 193.5px,#00c4ff 217.5px)"></div><div style="left:387px;top:21px;width:218px;height:1px;background:linear-gradient(90deg,#0059ff 0.5px,#005aff 6.5px,#0082ff 16.5px,#00a7ff 20.5px,#00e9ff 23.5px,#00fee7 24.5px,#00ffa2 25.5px,#00ff17 26.5px,#00ff00 27.5px,#0aff00 29.5px,#27ff00 30.5px,#90ff00 32.5px,#b7ff00 33.5px,#ccff00 34.5px,#e1fd00 40.5px,#e0fd00 48.5px,#cdff00 50.5px,#6dff00 54.5px,#33ff00 56.5px,#05ff00 59.5px,#00ff00 68.5px,#00ff06 69.5px,#00ff6b 71.5px,#00ffad 73.5px,#00ffd9 76.5px,#00fbec 80.5px,#00f0ff 87.5px,#00bdff 90.5px,#0066ff 93.5px,#0043ff 95.5px,#0135ff 102.5px,#0138ff 107.5px,#0048ff 108.5px,#0069ff 109.5px,#00a3ff 110.5px,#00e8ff 111.5px,#00ffda 112.5px,#00ff81 114.5px,#00ff62 115.5px,#00ff4f 116.5px,#00ff4e 118.5px,#00ff65 122.5px,#00ff70 123.5px,#00ff87 124.5px,#00ffd5 126.5px,#00f7f3 127.5px,#00e7ff 128.5px,#00ceff 130.5px,#00c3ff 133.5px,#00f1fd 138.5px,#00f9f1 143.5px,#00f3fa 171.5px,#00baff 179.5px,#00b7ff 183.5px,#00c4ff 191.5px,#00c1ff 217.5px)"></div><div style="left:387px;top:22px;width:218px;height:1px;background:linear-gradient(90deg,#0059ff 0.5px,#005aff 6.5px,#0082ff 16.5px,#00a7ff 20.5px,#00e9ff 23.5px,#00fee8 24.5px,#00ffa2 25.5px,#00ff19 26.5px,#00ff00 27.5px,#06ff00 29.5px,#22ff00 30.5px,#81ff00 32.5px,#a7ff00 33.5px,#c0ff00 34.5px,#d5fe00 37.5px,#ddfd00 47.5px,#c8ff00 50.5px,#4aff00 55.5px,#2dff00 56.5px,#02ff00 59.5px,#00ff00 68.5px,#00ff19 69.5px,#00ff76 71.5px,#00ffb5 73.5px,#00ffe5 77.5px,#00f0ff 87.5px,#00beff 90.5px,#0067ff 93.5px,#0044ff 95.5px,#0135ff 102.5px,#0138ff 107.5px,#0049ff 108.5px,#0069ff 109.5px,#00a2ff 110.5px,#00e7ff 111.5px,#00ffdc 112.5px,#00ff84 114.5px,#00ff66 115.5px,#00ff54 116.5px,#00ff53 118.5px,#00ff6a 122.5px,#00ff78 123.5px,#00ff91 124.5px,#00ffdb 126.5px,#00f5f7 127.5px,#00cfff 129.5px,#00b9ff 132.5px,#00c1ff 134.5px,#00f3fa 139.5px,#00f9f1 145.5px,#00f3f9 171.5px,#00b8ff 179.5px,#00b3ff 182.5px,#00c3ff 190.5px,#00beff 217.5px)"></div><div style="left:387px;top:23px;width:218px;height:1px;background:linear-gradient(90deg,#0059ff 0.5px,#005aff 6.5px,#0082ff 16.5px,#00a7ff 20.5px,#00e9ff 23.5px,#00fee8 24.5px,#00ffa3 25.5px,#00ff1c 26.5px,#00ff00 27.5px,#03ff00 29.5px,#1eff00 30.5px,#97ff00 33.5px,#b0ff00 34.5px,#cefe00 37.5px,#d9fd00 45.5px,#cffe00 49.5px,#abff00 51.5px,#27ff00 56.5px,#00ff00 59.5px,#00ff04 68.5px,#00ff81 71.5px,#00ffa3 72.5px,#00ffc8 74.5px,#00fee8 77.5px,#00f0ff 87.5px,#00d5ff 89.5px,#00a3ff 91.5px,#0067ff 93.5px,#0044ff 95.5px,#0135ff 102.5px,#0139ff 107.5px,#0049ff 108.5px,#0069ff 109.5px,#00a2ff 110.5px,#00e6ff 111.5px,#00ffdd 112.5px,#00ff87 114.5px,#00ff6a 115.5px,#00ff59 116.5px,#00ff58 118.5px,#00ff6f 122.5px,#00ff7f 123.5px,#00ffe1 126.5px,#00f2fb 127.5px,#00c7ff 129.5px,#00afff 132.5px,#00b9ff 134.5px,#00f2fc 139.5px,#00f9f1 143.5px,#00f4f9 171.5px,#00e4ff 173.5px,#00bcff 178.5px,#00b0ff 181.5px,#00c2ff 190.5px,#00bbff 217.5px)"></div><div style="left:387px;top:24px;width:218px;height:1px;background:linear-gradient(90deg,#0059ff 0.5px,#005aff 6.5px,#0082ff 16.5px,#00a7ff 20.5px,#00e9ff 23.5px,#00fee8 24.5px,#00ffa4 25.5px,#00ff1e 26.5px,#00ff00 27.5px,#00ff00 29.5px,#38ff00 31.5px,#87ff00 33.5px,#b1ff00 35.5px,#cdff00 38.5px,#d2fe00 48.5px,#cbff00 49.5px,#74ff00 53.5px,#24ff00 56.5px,#00ff00 59.5px,#00ff00 67.5px,#00ff17 68.5px,#00ff8d 71.5px,#00ffad 72.5px,#00ffe4 76.5px,#00f0ff 87.5px,#00d6ff 89.5px,#00a4ff 91.5px,#0068ff 93.5px,#0045ff 95.5px,#0135ff 103.5px,#0139ff 107.5px,#0049ff 108.5px,#006aff 109.5px,#00a2ff 110.5px,#00e5ff 111.5px,#00ffde 112.5px,#00ff8b 114.5px,#00ff6e 115.5px,#00ff5e 116.5px,#00ff5d 118.5px,#00ff74 122.5px,#00ff87 123.5px,#00fee7 126.5px,#00efff 127.5px,#00d0ff 128.5px,#00abff 131.5px,#00a7ff 133.5px,#00f0ff 139.5px,#00f8f1 142.5px,#00f7f4 170.5px,#00f0ff 172.5px,#00c6ff 176.5px,#00aeff 181.5px,#00c1ff 190.5px,#00b8ff 217.5px)"></div><div style="left:387px;top:25px;width:218px;height:1px;background:linear-gradient(90deg,#0059ff 0.5px,#005aff 6.5px,#0082ff 16.5px,#00a7ff 20.5px,#00e9ff 23.5px,#00fee8 24.5px,#00ffa5 25.5px,#00ff20 26.5px,#00ff00 27.5px,#00ff00 29.5px,#2cff00 31.5px,#77ff00 33.5px,#a3ff00 35.5px,#c7ff00 38.5px,#cdff00 48.5px,#c5ff00 49.5px,#55ff00 54.5px,#22ff00 56.5px,#06ff00 58.5px,#00ff00 63.5px,#00ff00 66.5px,#00ff0a 67.5px,#00ffb6 72.5px,#00fee7 76.5px,#00efff 87.5px,#00d7ff 89.5px,#00a5ff 91.5px,#0068ff 93.5px,#0045ff 95.5px,#0135ff 104.5px,#003aff 107.5px,#004aff 108.5px,#006aff 109.5px,#00a1ff 110.5px,#00e4ff 111.5px,#00ffe0 112.5px,#00ff8f 114.5px,#00ff72 115.5px,#00ff63 116.5px,#00ff67 119.5px,#00ff7a 122.5px,#00ff8f 123.5px,#00fceb 126.5px,#00e8ff 127.5px,#00c9ff 128.5px,#00a3ff 131.5px,#009eff 133.5px,#00dbff 138.5px,#00f4f9 140.5px,#00f8f1 146.5px,#00f7f3 170.5px,#00f0ff 172.5px,#00c4ff 176.5px,#00acff 181.5px,#00bfff 190.5px,#00b6ff 217.5px)"></div><div style="left:387px;top:26px;width:218px;height:1px;background:linear-gradient(90deg,#0059ff 0.5px,#005aff 6.5px,#0082ff 16.5px,#00a7ff 20.5px,#00e9ff 23.5px,#00fee8 24.5px,#00ffa6 25.5px,#00ff23 26.5px,#00ff00 27.5px,#00ff00 29.5px,#24ff00 31.5px,#68ff00 33.5px,#95ff00 35.5px,#c5ff00 39.5px,#c9ff00 48.5px,#acff00 50.5px,#4fff00 54.5px,#1fff00 56.5px,#03ff00 58.5px,#00ff00 66.5px,#00ffa3 71.5px,#00ffc9 73.5px,#00fdea 76.5px,#00efff 87.5px,#00d8ff 89.5px,#00a5ff 91.5px,#0068ff 93.5px,#0045ff 95.5px,#0136ff 103.5px,#003aff 107.5px,#004aff 108.5px,#006aff 109.5px,#00a0ff 110.5px,#00e1ff 111.5px,#00ffe3 112.5px,#00ff96 114.5px,#00ff79 115.5px,#00ff6b 116.5px,#00ff72 120.5px,#00ff82 122.5px,#00faef 126.5px,#00e3ff 127.5px,#00c5ff 128.5px,#009dff 131.5px,#0098ff 133.5px,#00d8ff 138.5px,#00f3fa 140.5px,#00f8f2 145.5px,#00f7f4 170.5px,#00efff 172.5px,#00c2ff 176.5px,#00aaff 181.5px,#00beff 190.5px,#00b5ff 217.5px)"></div><div style="left:387px;top:27px;width:218px;height:1px;background:linear-gradient(90deg,#0059ff 0.5px,#005aff 6.5px,#0082ff 16.5px,#00a7ff 20.5px,#00e9ff 23.5px,#00fee8 24.5px,#00ffa7 25.5px,#00ff25 26.5px,#00ff00 27.5px,#00ff00 29.5px,#1eff00 31.5px,#73ff00 34.5px,#b4ff00 38.5px,#c2ff00 42.5px,#c1ff00 48.5px,#a4ff00 50.5px,#49ff00 54.5px,#2cff00 55.5px,#00ff00 58.5px,#00ff00 65.5px,#00ff10 66.5px,#00ffae 71.5px,#00ffe5 75.5px,#00f5f7 80.5px,#00efff 87.5px,#00d9ff 89.5px,#00a6ff 91.5px,#0069ff 93.5px,#0046ff 95.5px,#0136ff 103.5px,#003aff 107.5px,#004bff 108.5px,#0069ff 109.5px,#009eff 110.5px,#00ddff 111.5px,#00ffe7 112.5px,#00ff9f 114.5px,#00ff83 115.5px,#00ff74 116.5px,#00ff77 119.5px,#00ff8c 122.5px,#00ffd7 125.5px,#00f8f2 126.5px,#00dfff 127.5px,#00c2ff 128.5px,#009cff 131.5px,#0097ff 133.5px,#00d5ff 138.5px,#00f2fb 140.5px,#00f7f3 145.5px,#00f6f6 170.5px,#00ecff 172.5px,#00c0ff 176.5px,#00a8ff 181.5px,#00bdff 191.5px,#00b4ff 217.5px)"></div><div style="left:387px;top:28px;width:218px;height:1px;background:linear-gradient(90deg,#0059ff 0.5px,#005aff 6.5px,#0082ff 16.5px,#00a7ff 20.5px,#00e9ff 23.5px,#00fee8 24.5px,#00ffa8 25.5px,#00ff27 26.5px,#00ff00 27.5px,#06ff00 30.5px,#2bff00 32.5px,#65ff00 34.5px,#aaff00 38.5px,#b9ff00 41.5px,#baff00 48.5px,#9dff00 50.5px,#43ff00 54.5px,#27ff00 55.5px,#00ff00 58.5px,#00ff00 65.5px,#00ff7f 69.5px,#00ffb7 71.5px,#00fde9 75.5px,#00f3f9 80.5px,#00efff 87.5px,#00daff 89.5px,#00a7ff 91.5px,#0069ff 93.5px,#0046ff 95.5px,#0136ff 103.5px,#003bff 107.5px,#004bff 108.5px,#0069ff 109.5px,#009cff 110.5px,#00daff 111.5px,#00fcea 112.5px,#00ff8d 115.5px,#00ff7e 116.5px,#00ff81 119.5px,#00ff96 122.5px,#00ffdc 125.5px,#00f6f4 126.5px,#00ddff 127.5px,#00c1ff 128.5px,#009bff 131.5px,#0096ff 133.5px,#00d4ff 138.5px,#00f2fc 140.5px,#00f6f4 146.5px,#00f4f8 170.5px,#00e8ff 172.5px,#00beff 176.5px,#00a6ff 181.5px,#00bcff 192.5px,#00b4ff 217.5px)"></div><div style="left:387px;top:29px;width:218px;height:1px;background:linear-gradient(90deg,#0059ff 0.5px,#005aff 6.5px,#0089ff 17.5px,#00a7ff 20.5px,#00e9ff 23.5px,#00fde9 24.5px,#00ffa9 25.5px,#00ff2b 26.5px,#00ff00 27.5px,#02ff00 30.5px,#23ff00 32.5px,#6cff00 35.5px,#a1ff00 38.5px,#b1ff00 41.5px,#b3ff00 48.5px,#96ff00 50.5px,#24ff00 55.5px,#00ff00 58.5px,#00ff00 64.5px,#00ff0f 65.5px,#00ff71 68.5px,#00ffbd 71.5px,#00fceb 75.5px,#00f2fc 81.5px,#00eaff 88.5px,#00c4ff 90.5px,#006aff 93.5px,#0046ff 95.5px,#0137ff 103.5px,#003bff 107.5px,#004bff 108.5px,#0069ff 109.5px,#009aff 110.5px,#00d6ff 111.5px,#00faee 112.5px,#00ff97 115.5px,#00ff89 116.5px,#00ff8b 119.5px,#00ffa0 122.5px,#00ffe1 125.5px,#00f5f7 126.5px,#00bfff 128.5px,#009aff 131.5px,#0095ff 133.5px,#00d3ff 138.5px,#00f1fe 140.5px,#00f6f6 146.5px,#00f3fa 170.5px,#00e5ff 172.5px,#00bcff 176.5px,#00a5ff 181.5px,#00baff 193.5px,#00b4ff 217.5px)"></div><div style="left:387px;top:30px;width:218px;height:1px;background:linear-gradient(90deg,#0059ff 0.5px,#005aff 6.5px,#0088ff 17.5px,#00a7ff 20.5px,#00e8ff 23.5px,#00fde9 24.5px,#00ffad 25.5px,#00ff32 26.5px,#00ff00 27.5px,#00ff00 30.5px,#32ff00 33.5px,#74ff00 36.5px,#a2ff00 39.5px,#b0ff00 47.5px,#a3ff00 49.5px,#39ff00 54.5px,#15ff00 56.5px,#00ff00 58.5px,#00ff00 64.5px,#00ff17 65.5px,#00ff79 68.5px,#00ffaf 70.5px,#00ffe6 74.5px,#00f3fb 79.5px,#00eaff 88.5px,#00c6ff 90.5px,#006aff 93.5px,#0047ff 95.5px,#0137ff 103.5px,#003bff 107.5px,#004bff 108.5px,#0068ff 109.5px,#0098ff 110.5px,#00d2ff 111.5px,#00f8f1 112.5px,#00ffb9 114.5px,#00ff93 116.5px,#00ff91 118.5px,#00ffab 122.5px,#00ffe6 125.5px,#00f3fa 126.5px,#00bdff 128.5px,#0099ff 131.5px,#0094ff 133.5px,#00d1ff 138.5px,#00f0ff 140.5px,#00f5f7 146.5px,#00f2fc 170.5px,#00b3ff 177.5px,#00a3ff 181.5px,#00b9ff 193.5px,#00b4ff 217.5px)"></div><div style="left:387px;top:31px;width:218px;height:1px;background:linear-gradient(90deg,#0059ff 0.5px,#005aff 6.5px,#0088ff 17.5px,#00a6ff 20.5px,#00e6ff 23.5px,#00fceb 24.5px,#00ffb4 25.5px,#00ff3d 26.5px,#00ff00 27.5px,#00ff00 30.5px,#29ff00 33.5px,#6aff00 36.5px,#98ff00 39.5px,#acff00 47.5px,#9fff00 49.5px,#51ff00 53.5px,#22ff00 55.5px,#00ff00 58.5px,#00ff00 64.5px,#00ff19 65.5px,#00ff7b 68.5px,#00ffb1 70.5px,#00ffe6 74.5px,#00f2fb 79.5px,#00eaff 88.5px,#00c7ff 90.5px,#006bff 93.5px,#0047ff 95.5px,#0137ff 103.5px,#003cff 107.5px,#004cff 108.5px,#0068ff 109.5px,#00ceff 111.5px,#00f6f5 112.5px,#00ffbf 114.5px,#00ff9d 116.5px,#00ff9b 118.5px,#00ffb5 122.5px,#00ffd3 124.5px,#00f2fc 126.5px,#00bcff 128.5px,#0098ff 131.5px,#0093ff 133.5px,#00d0ff 138.5px,#00eeff 140.5px,#00f4f9 152.5px,#00f0fe 170.5px,#00b1ff 177.5px,#00a1ff 181.5px,#00b8ff 193.5px,#00b4ff 217.5px)"></div><div style="left:387px;top:32px;width:218px;height:1px;background:linear-gradient(90deg,#0059ff 0.5px,#005aff 6.5px,#0088ff 17.5px,#00a5ff 20.5px,#00e4ff 23.5px,#00fbed 24.5px,#00ffb8 25.5px,#00ff49 26.5px,#00ff00 27.5px,#00ff00 30.5px,#25ff00 33.5px,#83ff00 38.5px,#99ff00 41.5px,#a9ff00 47.5px,#9cff00 49.5px,#4fff00 53.5px,#22ff00 55.5px,#00ff00 58.5px,#00ff00 64.5px,#00ff19 65.5px,#00ff7c 68.5px,#00ffb2 70.5px,#00ffe7 74.5px,#00f2fb 79.5px,#00ebff 88.5px,#00c8ff 90.5px,#006cff 93.5px,#0047ff 95.5px,#0137ff 103.5px,#003cff 107.5px,#004cff 108.5px,#0068ff 109.5px,#00f4f8 112.5px,#00ffdc 113.5px,#00ffb5 115.5px,#00ffa2 117.5px,#00ffba 122.5px,#00fbed 125.5px,#00f0ff 126.5px,#00baff 128.5px,#0097ff 131.5px,#0093ff 133.5px,#00deff 139.5px,#00f2fc 141.5px,#00eeff 170.5px,#00aeff 177.5px,#009fff 181.5px,#00b2ff 189.5px,#00b6ff 205.5px,#00b4ff 217.5px)"></div><div style="left:387px;top:33px;width:218px;height:1px;background:linear-gradient(90deg,#0059ff 0.5px,#005aff 6.5px,#0087ff 17.5px,#00a4ff 20.5px,#00e2ff 23.5px,#00faef 24.5px,#00ffbc 25.5px,#00ff55 26.5px,#00ff00 27.5px,#05ff00 31.5px,#46ff00 35.5px,#86ff00 39.5px,#a4ff00 46.5px,#a2ff00 48.5px,#89ff00 50.5px,#21ff00 55.5px,#00ff00 58.5px,#00ff00 64.5px,#00ff19 65.5px,#00ff7c 68.5px,#00ffb3 70.5px,#00fee7 74.5px,#00f2fb 79.5px,#00ebff 88.5px,#00c9ff 90.5px,#006dff 93.5px,#0047ff 95.5px,#0138ff 103.5px,#003cff 107.5px,#004cff 108.5px,#0067ff 109.5px,#00f2fb 112.5px,#00ffe2 113.5px,#00ffbb 115.5px,#00ffac 117.5px,#00ffc0 122.5px,#00f9f0 125.5px,#00ecff 126.5px,#00b8ff 128.5px,#0096ff 131.5px,#0092ff 133.5px,#00dcff 139.5px,#00f1fe 141.5px,#00f0ff 169.5px,#00a5ff 178.5px,#009fff 183.5px,#00b6ff 193.5px,#00b4ff 217.5px)"></div><div style="left:387px;top:34px;width:218px;height:1px;background:linear-gradient(90deg,#0059ff 0.5px,#005aff 6.5px,#0087ff 17.5px,#00a3ff 20.5px,#00e0ff 23.5px,#00f9f0 24.5px,#00ffc0 25.5px,#00ff00 27.5px,#01ff00 31.5px,#29ff00 34.5px,#71ff00 38.5px,#8fff00 42.5px,#a1ff00 47.5px,#95ff00 49.5px,#4dff00 53.5px,#21ff00 55.5px,#06ff00 57.5px,#00ff00 63.5px,#00ff00 64.5px,#00ff19 65.5px,#00ff7d 68.5px,#00ffb4 70.5px,#00fee7 74.5px,#00f2fb 79.5px,#00ebff 88.5px,#00caff 90.5px,#006eff 93.5px,#0047ff 95.5px,#0138ff 103.5px,#003dff 107.5px,#004cff 108.5px,#0067ff 109.5px,#00c2ff 111.5px,#00f0ff 112.5px,#00fee7 113.5px,#00ffc1 115.5px,#00ffb6 118.5px,#00ffc6 122.5px,#00ffe4 124.5px,#00e7ff 126.5px,#00b7ff 128.5px,#0090ff 132.5px,#0099ff 134.5px,#00f0ff 141.5px,#00eeff 169.5px,#00a3ff 178.5px,#009eff 185.5px,#00b5ff 192.5px,#00b4ff 217.5px)"></div><div style="left:387px;top:35px;width:218px;height:1px;background:linear-gradient(90deg,#0059ff 0.5px,#005aff 6.5px,#0086ff 17.5px,#00a2ff 20.5px,#00dfff 23.5px,#00f8f2 24.5px,#00ffc4 25.5px,#00ff6b 26.5px,#00ff00 27.5px,#00ff00 31.5px,#34ff00 35.5px,#74ff00 39.5px,#9dff00 46.5px,#92ff00 49.5px,#4bff00 53.5px,#20ff00 55.5px,#06ff00 57.5px,#00ff00 64.5px,#00ff19 65.5px,#00ff7d 68.5px,#00ffb5 70.5px,#00fee8 74.5px,#00f2fb 79.5px,#00ebff 88.5px,#00cbff 90.5px,#006eff 93.5px,#0047ff 95.5px,#0138ff 103.5px,#003dff 107.5px,#004cff 108.5px,#0067ff 109.5px,#00beff 111.5px,#00ebff 112.5px,#00fceb 113.5px,#00ffc6 115.5px,#00ffbb 118.5px,#00ffcc 122.5px,#00fee8 124.5px,#00e3ff 126.5px,#00b5ff 128.5px,#008fff 132.5px,#0099ff 134.5px,#00eeff 141.5px,#00efff 168.5px,#009cff 179.5px,#00a0ff 187.5px,#00b4ff 192.5px,#00b4ff 217.5px)"></div><div style="left:387px;top:36px;width:218px;height:1px;background:linear-gradient(90deg,#0059ff 0.5px,#005aff 6.5px,#0086ff 17.5px,#00a1ff 20.5px,#00ddff 23.5px,#00f7f4 24.5px,#00ffc9 25.5px,#00ff75 26.5px,#00ff09 27.5px,#00ff00 29.5px,#00ff00 31.5px,#2bff00 35.5px,#6bff00 39.5px,#99ff00 46.5px,#8fff00 49.5px,#4aff00 53.5px,#20ff00 55.5px,#05ff00 57.5px,#00ff00 64.5px,#00ff19 65.5px,#00ff7e 68.5px,#00ffb5 70.5px,#00fee8 74.5px,#00f2fb 79.5px,#00ecff 88.5px,#00ccff 90.5px,#0057ff 94.5px,#0042ff 96.5px,#0138ff 105.5px,#003dff 107.5px,#004cff 108.5px,#0066ff 109.5px,#00bbff 111.5px,#00e6ff 112.5px,#00faee 113.5px,#00ffcb 115.5px,#00ffc0 118.5px,#00ffd0 122.5px,#00f4f9 125.5px,#00b4ff 128.5px,#008fff 132.5px,#0098ff 134.5px,#00ecff 141.5px,#00eeff 168.5px,#009bff 179.5px,#009eff 187.5px,#00b4ff 192.5px,#00b4ff 217.5px)"></div><div style="left:387px;top:37px;width:218px;height:1px;background:linear-gradient(90deg,#0059ff 0.5px,#005aff 6.5px,#0085ff 17.5px,#00a0ff 20.5px,#00dbff 23.5px,#00f6f6 24.5px,#00ffcd 25.5px,#00ff7e 26.5px,#00ff15 27.5px,#00ff00 28.5px,#05ff00 32.5px,#35ff00 36.5px,#63ff00 39.5px,#96ff00 46.5px,#8bff00 49.5px,#5eff00 52.5px,#1fff00 55.5px,#05ff00 57.5px,#00ff00 64.5px,#00ff19 65.5px,#00ff7e 68.5px,#00ffb6 70.5px,#00fde9 74.5px,#00f2fb 79.5px,#00ecff 88.5px,#00ceff 90.5px,#0057ff 94.5px,#0042ff 96.5px,#0138ff 105.5px,#003dff 107.5px,#004cff 108.5px,#0065ff 109.5px,#0089ff 110.5px,#00e2ff 112.5px,#00f9f0 113.5px,#00ffcf 115.5px,#00ffc4 118.5px,#00ffd4 122.5px,#00f3fa 125.5px,#00b4ff 128.5px,#008eff 132.5px,#0098ff 134.5px,#00ecff 141.5px,#00edff 168.5px,#009aff 179.5px,#009eff 187.5px,#00b4ff 192.5px,#00b4ff 217.5px)"></div><div style="left:387px;top:38px;width:218px;height:1px;background:linear-gradient(90deg,#0059ff 0.5px,#005aff 6.5px,#0085ff 17.5px,#009fff 20.5px,#00d9ff 23.5px,#00f5f7 24.5px,#00ffd1 25.5px,#00ff88 26.5px,#00ff21 27.5px,#00ff00 28.5px,#02ff00 32.5px,#2cff00 36.5px,#5bff00 39.5px,#92ff00 46.5px,#88ff00 49.5px,#5cff00 52.5px,#1fff00 55.5px,#05ff00 57.5px,#00ff00 64.5px,#00ff19 65.5px,#00ff7f 68.5px,#00ffb6 70.5px,#00fde9 74.5px,#00f2fb 79.5px,#00ecff 88.5px,#00cfff 90.5px,#0093ff 92.5px,#0058ff 94.5px,#0042ff 96.5px,#0138ff 105.5px,#003dff 107.5px,#004cff 108.5px,#0064ff 109.5px,#0087ff 110.5px,#00dfff 112.5px,#00f7f3 113.5px,#00ffd2 115.5px,#00ffc7 118.5px,#00ffd7 122.5px,#00f2fc 125.5px,#00b3ff 128.5px,#008eff 132.5px,#0098ff 134.5px,#00ebff 141.5px,#00ecff 168.5px,#009dff 178.5px,#009aff 186.5px,#00b4ff 192.5px,#00b4ff 217.5px)"></div><div style="left:387px;top:39px;width:218px;height:1px;background:linear-gradient(90deg,#0059ff 0.5px,#005aff 6.5px,#0084ff 17.5px,#009eff 20.5px,#00d7ff 23.5px,#00f4f9 24.5px,#00ffd5 25.5px,#00ff91 26.5px,#00ff2d 27.5px,#00ff00 28.5px,#00ff00 32.5px,#35ff00 37.5px,#5dff00 40.5px,#8eff00 46.5px,#85ff00 49.5px,#5bff00 52.5px,#2dff00 54.5px,#05ff00 57.5px,#00ff00 64.5px,#00ff19 65.5px,#00ff62 67.5px,#00ffb7 70.5px,#00fde9 74.5px,#00f2fb 79.5px,#00ecff 88.5px,#00d0ff 90.5px,#0095ff 92.5px,#0058ff 94.5px,#0048ff 95.5px,#0138ff 102.5px,#003dff 107.5px,#0064ff 109.5px,#0085ff 110.5px,#00dbff 112.5px,#00f6f5 113.5px,#00ffd6 115.5px,#00ffcb 118.5px,#00ffda 122.5px,#00f1fd 125.5px,#00b2ff 128.5px,#008eff 132.5px,#0097ff 134.5px,#00eaff 141.5px,#00ebff 168.5px,#009cff 178.5px,#0099ff 186.5px,#00b4ff 192.5px,#00b4ff 217.5px)"></div><div style="left:387px;top:40px;width:218px;height:1px;background:linear-gradient(90deg,#0059ff 0.5px,#005aff 6.5px,#0084ff 17.5px,#009dff 20.5px,#00d5ff 23.5px,#00f2fb 24.5px,#00ffd9 25.5px,#00ff9b 26.5px,#00ff39 27.5px,#00ff00 28.5px,#06ff00 33.5px,#2cff00 37.5px,#5fff00 41.5px,#8bff00 46.5px,#82ff00 49.5px,#5aff00 52.5px,#2cff00 54.5px,#04ff00 57.5px,#00ff00 64.5px,#00ff19 65.5px,#00ff63 67.5px,#00ffb7 70.5px,#00fdea 74.5px,#00f2fb 79.5px,#00edff 88.5px,#00d1ff 90.5px,#0096ff 92.5px,#0059ff 94.5px,#0048ff 95.5px,#0138ff 102.5px,#003dff 107.5px,#0063ff 109.5px,#0083ff 110.5px,#00d8ff 112.5px,#00f4f8 113.5px,#00ffd9 115.5px,#00ffce 118.5px,#00ffdd 122.5px,#00f1fe 125.5px,#00b2ff 128.5px,#008eff 132.5px,#0097ff 134.5px,#00eaff 141.5px,#00eaff 168.5px,#009bff 178.5px,#0099ff 186.5px,#00b4ff 192.5px,#00b4ff 217.5px)"></div><div style="left:387px;top:41px;width:218px;height:1px;background:linear-gradient(90deg,#0059ff 0.5px,#005aff 6.5px,#0083ff 17.5px,#009cff 20.5px,#00d3ff 23.5px,#00f1fd 24.5px,#00ffdd 25.5px,#00ffa5 26.5px,#00ff46 27.5px,#00ff00 28.5px,#02ff00 33.5px,#34ff00 38.5px,#82ff00 45.5px,#85ff00 48.5px,#69ff00 51.5px,#2aff00 54.5px,#04ff00 57.5px,#00ff00 64.5px,#00ff19 65.5px,#00ff63 67.5px,#00ffb8 70.5px,#00fdea 74.5px,#00f2fb 79.5px,#00edff 88.5px,#00d2ff 90.5px,#0098ff 92.5px,#0059ff 94.5px,#0048ff 95.5px,#0138ff 102.5px,#003dff 107.5px,#0062ff 109.5px,#0081ff 110.5px,#00d4ff 112.5px,#00f3fa 113.5px,#00ffdd 115.5px,#00ffd2 118.5px,#00fde9 123.5px,#00f0ff 125.5px,#00b1ff 128.5px,#008eff 132.5px,#0097ff 134.5px,#00e9ff 141.5px,#00e9ff 168.5px,#009aff 178.5px,#0099ff 186.5px,#00b3ff 191.5px,#00b4ff 217.5px)"></div><div style="left:387px;top:42px;width:218px;height:1px;background:linear-gradient(90deg,#0059ff 0.5px,#005aff 6.5px,#0089ff 18.5px,#00a9ff 21.5px,#00d2ff 23.5px,#00f0fe 24.5px,#00ffe1 25.5px,#00ffae 26.5px,#00ff52 27.5px,#00ff00 28.5px,#00ff00 33.5px,#2bff00 38.5px,#7eff00 45.5px,#81ff00 48.5px,#67ff00 51.5px,#29ff00 54.5px,#04ff00 57.5px,#00ff00 64.5px,#00ff19 65.5px,#00ff64 67.5px,#00ffb8 70.5px,#00fcea 74.5px,#00f2fb 79.5px,#00edff 88.5px,#00d3ff 90.5px,#0099ff 92.5px,#005aff 94.5px,#0048ff 95.5px,#0138ff 102.5px,#003dff 107.5px,#0061ff 109.5px,#007fff 110.5px,#00d1ff 112.5px,#00f2fc 113.5px,#00ffe0 115.5px,#00ffd5 118.5px,#00fceb 123.5px,#00eeff 125.5px,#00b1ff 128.5px,#008eff 132.5px,#0097ff 134.5px,#00e8ff 141.5px,#00e8ff 168.5px,#0099ff 178.5px,#0098ff 186.5px,#00b3ff 191.5px,#00b4ff 217.5px)"></div><div style="left:387px;top:43px;width:218px;height:1px;background:linear-gradient(90deg,#0059ff 0.5px,#005aff 6.5px,#0089ff 18.5px,#00a8ff 21.5px,#00d0ff 23.5px,#00eeff 24.5px,#00ffe6 25.5px,#00ffb6 26.5px,#00ff00 28.5px,#04ff00 34.5px,#31ff00 39.5px,#79ff00 45.5px,#7dff00 48.5px,#65ff00 51.5px,#28ff00 54.5px,#04ff00 57.5px,#00ff00 64.5px,#00ff19 65.5px,#00ff64 67.5px,#00ffb9 70.5px,#00fceb 74.5px,#00f2fb 79.5px,#00edff 88.5px,#00d4ff 90.5px,#009bff 92.5px,#0075ff 93.5px,#0049ff 95.5px,#0138ff 102.5px,#003dff 107.5px,#0060ff 109.5px,#007dff 110.5px,#00f0ff 113.5px,#00ffdc 116.5px,#00ffde 120.5px,#00f6f6 124.5px,#00ecff 125.5px,#00b0ff 128.5px,#008eff 132.5px,#0096ff 134.5px,#00e8ff 141.5px,#00e7ff 168.5px,#0098ff 178.5px,#0098ff 186.5px,#00b3ff 191.5px,#00b4ff 217.5px)"></div><div style="left:387px;top:44px;width:218px;height:1px;background:linear-gradient(90deg,#0059ff 0.5px,#005aff 6.5px,#0088ff 18.5px,#00a6ff 21.5px,#00ceff 23.5px,#00ebff 24.5px,#00fde9 25.5px,#00ffbb 26.5px,#00ff69 27.5px,#00ff04 28.5px,#00ff00 34.5px,#37ff00 40.5px,#76ff00 45.5px,#7aff00 48.5px,#64ff00 51.5px,#27ff00 54.5px,#03ff00 57.5px,#00ff00 64.5px,#00ff19 65.5px,#00ff64 67.5px,#00ffb9 70.5px,#00fceb 74.5px,#00f2fb 79.5px,#00eeff 88.5px,#00d6ff 90.5px,#009cff 92.5px,#0076ff 93.5px,#0049ff 95.5px,#0138ff 102.5px,#003cff 107.5px,#005fff 109.5px,#007bff 110.5px,#00ecff 113.5px,#00fee7 115.5px,#00ffdc 118.5px,#00faee 123.5px,#00eaff 125.5px,#00afff 128.5px,#008eff 132.5px,#0096ff 134.5px,#00e7ff 141.5px,#00e6ff 168.5px,#0097ff 178.5px,#0097ff 186.5px,#00b3ff 191.5px,#00b4ff 217.5px)"></div><div style="left:387px;top:45px;width:218px;height:1px;background:linear-gradient(90deg,#0059ff 0.5px,#005aff 6.5px,#0088ff 18.5px,#00a5ff 21.5px,#00ccff 23.5px,#00e8ff 24.5px,#00fcec 25.5px,#00ffc1 26.5px,#00ff73 27.5px,#00ff0f 28.5px,#00ff00 29.5px,#05ff00 35.5px,#30ff00 40.5px,#72ff00 45.5px,#76ff00 48.5px,#62ff00 51.5px,#27ff00 54.5px,#03ff00 57.5px,#00ff00 64.5px,#00ff19 65.5px,#00ff65 67.5px,#00ffba 70.5px,#00ffe3 73.5px,#00f4f9 77.5px,#00eeff 88.5px,#00d7ff 90.5px,#009eff 92.5px,#0077ff 93.5px,#0049ff 95.5px,#0138ff 102.5px,#003cff 107.5px,#005eff 109.5px,#0079ff 110.5px,#00e8ff 113.5px,#00fdea 115.5px,#00ffe0 118.5px,#00f9f0 123.5px,#00e8ff 125.5px,#00afff 128.5px,#008eff 132.5px,#0096ff 134.5px,#00e7ff 141.5px,#00e6ff 168.5px,#0096ff 178.5px,#0097ff 186.5px,#00b3ff 191.5px,#00b4ff 217.5px)"></div><div style="left:387px;top:46px;width:218px;height:1px;background:linear-gradient(90deg,#0059ff 0.5px,#005aff 6.5px,#0087ff 18.5px,#00a3ff 21.5px,#00caff 23.5px,#00e5ff 24.5px,#00faef 25.5px,#00ffc6 26.5px,#00ff7c 27.5px,#00ff1a 28.5px,#00ff00 29.5px,#01ff00 35.5px,#28ff00 40.5px,#6eff00 45.5px,#73ff00 48.5px,#60ff00 51.5px,#26ff00 54.5px,#03ff00 57.5px,#00ff00 64.5px,#00ff19 65.5px,#00ff65 67.5px,#00ffbb 70.5px,#00ffe4 73.5px,#00f4f9 77.5px,#00eeff 88.5px,#00d8ff 90.5px,#009fff 92.5px,#0078ff 93.5px,#005bff 94.5px,#0049ff 95.5px,#0138ff 102.5px,#003cff 107.5px,#005dff 109.5px,#0077ff 110.5px,#00e4ff 113.5px,#00f5f6 114.5px,#00ffe4 117.5px,#00f8f2 123.5px,#00e5ff 125.5px,#00aeff 128.5px,#008eff 132.5px,#0096ff 134.5px,#00e6ff 141.5px,#00e5ff 168.5px,#0095ff 178.5px,#0097ff 186.5px,#00b3ff 191.5px,#00b4ff 217.5px)"></div><div style="left:387px;top:47px;width:218px;height:1px;background:linear-gradient(90deg,#0059ff 0.5px,#005aff 6.5px,#0087ff 18.5px,#00a2ff 21.5px,#00e2ff 24.5px,#00f8f1 25.5px,#00ffcc 26.5px,#00ff86 27.5px,#00ff25 28.5px,#00ff00 29.5px,#05ff00 36.5px,#30ff00 41.5px,#6bff00 45.5px,#70ff00 48.5px,#5eff00 51.5px,#25ff00 54.5px,#02ff00 57.5px,#00ff00 64.5px,#00ff19 65.5px,#00ff65 67.5px,#00ffbb 70.5px,#00ffe4 73.5px,#00f4f9 77.5px,#00eeff 88.5px,#00d9ff 90.5px,#00a1ff 92.5px,#0079ff 93.5px,#005cff 94.5px,#0049ff 95.5px,#0138ff 102.5px,#003cff 107.5px,#005cff 109.5px,#0076ff 110.5px,#00e0ff 113.5px,#00f4f9 114.5px,#00fee7 117.5px,#00f6f4 123.5px,#00e3ff 125.5px,#00aeff 128.5px,#008eff 132.5px,#009fff 135.5px,#00e5ff 141.5px,#00e4ff 168.5px,#0095ff 178.5px,#0096ff 186.5px,#00b3ff 191.5px,#00b4ff 217.5px)"></div><div style="left:387px;top:48px;width:218px;height:1px;background:linear-gradient(90deg,#0059ff 0.5px,#005aff 6.5px,#0086ff 18.5px,#00a1ff 21.5px,#00dfff 24.5px,#00f6f4 25.5px,#00ffd1 26.5px,#00ff90 27.5px,#00ff30 28.5px,#00ff00 29.5px,#01ff00 36.5px,#29ff00 41.5px,#67ff00 45.5px,#6fff00 47.5px,#5dff00 51.5px,#25ff00 54.5px,#02ff00 57.5px,#00ff00 64.5px,#00ff19 65.5px,#00ff66 67.5px,#00ffbc 70.5px,#00ffe5 73.5px,#00f4f9 77.5px,#00efff 88.5px,#00daff 90.5px,#00a2ff 92.5px,#007aff 93.5px,#005cff 94.5px,#0049ff 95.5px,#0138ff 102.5px,#003cff 107.5px,#005cff 109.5px,#0074ff 110.5px,#00dcff 113.5px,#00f2fb 114.5px,#00fdea 117.5px,#00f5f6 123.5px,#00f1fd 124.5px,#00adff 128.5px,#008dff 132.5px,#009fff 135.5px,#00e5ff 141.5px,#00e3ff 168.5px,#0094ff 178.5px,#0096ff 186.5px,#00b3ff 191.5px,#00b4ff 217.5px)"></div><div style="left:387px;top:49px;width:218px;height:1px;background:linear-gradient(90deg,#0059ff 0.5px,#005aff 6.5px,#0086ff 18.5px,#00a0ff 21.5px,#00dcff 24.5px,#00f5f7 25.5px,#00ffd6 26.5px,#00ff99 27.5px,#00ff3a 28.5px,#00ff00 29.5px,#00ff00 36.5px,#26ff00 41.5px,#64ff00 45.5px,#6cff00 47.5px,#5bff00 51.5px,#24ff00 54.5px,#02ff00 57.5px,#00ff00 64.5px,#00ff19 65.5px,#00ff66 67.5px,#00ffbc 70.5px,#00ffe5 73.5px,#00f4f9 77.5px,#00eaff 89.5px,#00c4ff 91.5px,#005dff 94.5px,#0049ff 95.5px,#0138ff 102.5px,#003cff 107.5px,#005bff 109.5px,#0094ff 111.5px,#00d8ff 113.5px,#00f1fe 114.5px,#00fbec 117.5px,#00f4f8 123.5px,#00f0ff 124.5px,#00acff 128.5px,#008dff 132.5px,#009fff 135.5px,#00e4ff 141.5px,#00e6ff 167.5px,#00aeff 174.5px,#0093ff 178.5px,#0095ff 186.5px,#00b3ff 191.5px,#00b4ff 217.5px)"></div><div style="left:387px;top:50px;width:218px;height:1px;background:linear-gradient(90deg,#0059ff 0.5px,#005aff 6.5px,#0085ff 18.5px,#009fff 21.5px,#00dbff 24.5px,#00f4f9 25.5px,#00ffd9 26.5px,#00ff9e 27.5px,#00ff41 28.5px,#00ff00 29.5px,#04ff00 37.5px,#31ff00 42.5px,#61ff00 45.5px,#69ff00 47.5px,#59ff00 51.5px,#18ff00 55.5px,#01ff00 57.5px,#00ff00 64.5px,#00ff1a 65.5px,#00ff67 67.5px,#00ffbd 70.5px,#00ffe6 73.5px,#00f3fa 78.5px,#00eaff 89.5px,#00c4ff 91.5px,#005dff 94.5px,#0049ff 95.5px,#0138ff 102.5px,#003cff 107.5px,#005aff 109.5px,#0091ff 111.5px,#00d4ff 113.5px,#00eeff 114.5px,#00faef 117.5px,#00f3fa 123.5px,#00edff 124.5px,#00acff 128.5px,#008dff 132.5px,#009eff 135.5px,#00e3ff 141.5px,#00e5ff 167.5px,#0092ff 178.5px,#0095ff 186.5px,#00b3ff 191.5px,#00b4ff 217.5px)"></div><div style="left:387px;top:51px;width:218px;height:1px;background:linear-gradient(90deg,#0059ff 0.5px,#005aff 6.5px,#0085ff 18.5px,#009eff 21.5px,#00daff 24.5px,#00f3f9 25.5px,#00ffda 26.5px,#00ffa1 27.5px,#00ff44 28.5px,#00ff00 29.5px,#04ff00 37.5px,#2fff00 42.5px,#5eff00 45.5px,#66ff00 47.5px,#56ff00 51.5px,#18ff00 55.5px,#01ff00 57.5px,#00ff00 64.5px,#00ff1b 65.5px,#00ff87 68.5px,#00ffbd 70.5px,#00ffe6 73.5px,#00f3fb 78.5px,#00eaff 89.5px,#00c4ff 91.5px,#005dff 94.5px,#0049ff 95.5px,#0138ff 102.5px,#003cff 107.5px,#0059ff 109.5px,#008eff 111.5px,#00eaff 114.5px,#00f7f4 116.5px,#00f4f8 122.5px,#00ebff 124.5px,#00abff 128.5px,#008dff 132.5px,#009eff 135.5px,#00e3ff 141.5px,#00e4ff 167.5px,#0091ff 178.5px,#0095ff 186.5px,#00b1ff 190.5px,#00b4ff 217.5px)"></div><div style="left:387px;top:52px;width:218px;height:1px;background:linear-gradient(90deg,#0059ff 0.5px,#005aff 6.5px,#0085ff 18.5px,#009eff 21.5px,#00daff 24.5px,#00f3fa 25.5px,#00ffdb 26.5px,#00ffa2 27.5px,#00ff45 28.5px,#00ff00 29.5px,#04ff00 37.5px,#2dff00 42.5px,#5cff00 45.5px,#64ff00 47.5px,#54ff00 51.5px,#17ff00 55.5px,#00ff00 57.5px,#00ff00 64.5px,#00ff1d 65.5px,#00ff89 68.5px,#00ffbe 70.5px,#00ffe6 73.5px,#00f3fb 78.5px,#00eaff 89.5px,#00c4ff 91.5px,#005dff 94.5px,#0049ff 95.5px,#0138ff 102.5px,#003cff 107.5px,#0058ff 109.5px,#008bff 111.5px,#00e6ff 114.5px,#00f5f6 116.5px,#00f3fb 122.5px,#00e8ff 124.5px,#00aaff 128.5px,#008dff 132.5px,#009eff 135.5px,#00e2ff 141.5px,#00e4ff 167.5px,#0090ff 178.5px,#0090ff 185.5px,#00b4ff 191.5px,#00b4ff 217.5px)"></div><div style="left:387px;top:53px;width:218px;height:2px;background:linear-gradient(90deg,#0059ff 0.5px,#005aff 6.5px,#0085ff 18.5px,#009eff 21.5px,#00d9ff 24.5px,#00f3fa 25.5px,#00ffdc 26.5px,#00ffa5 27.5px,#00ff48 28.5px,#00ff00 29.5px,#03ff00 37.5px,#2bff00 42.5px,#58ff00 45.5px,#60ff00 47.5px,#50ff00 51.5px,#15ff00 55.5px,#00ff00 57.5px,#00ff00 64.5px,#00ff8a 68.5px,#00ffbf 70.5px,#00ffe7 73.5px,#00f2fb 78.5px,#00eaff 89.5px,#00c4ff 91.5px,#005dff 94.5px,#0049ff 95.5px,#0138ff 102.5px,#003cff 107.5px,#0057ff 109.5px,#0087ff 111.5px,#00e0ff 114.5px,#00f0fe 115.5px,#00f4f9 120.5px,#00e4ff 124.5px,#00aaff 128.5px,#008dff 132.5px,#009dff 135.5px,#00e1ff 141.5px,#00e3ff 167.5px,#008fff 178.5px,#008fff 185.5px,#00b2ff 190.5px,#00b4ff 217.5px)"></div><div style="left:387px;top:55px;width:218px;height:2px;background:linear-gradient(90deg,#0059ff 0.5px,#005aff 6.5px,#0085ff 18.5px,#009eff 21.5px,#00d8ff 24.5px,#00f2fb 25.5px,#00ffde 26.5px,#00ffa8 27.5px,#00ff4b 28.5px,#00ff00 29.5px,#03ff00 37.5px,#28ff00 42.5px,#54ff00 45.5px,#5cff00 47.5px,#4bff00 51.5px,#14ff00 55.5px,#00ff00 57.5px,#00ff00 64.5px,#00ff8d 68.5px,#00ffc0 70.5px,#00fee7 73.5px,#00f2fb 78.5px,#00eaff 89.5px,#00c4ff 91.5px,#005dff 94.5px,#0049ff 95.5px,#0138ff 102.5px,#003cff 107.5px,#0056ff 109.5px,#0084ff 111.5px,#00dbff 114.5px,#00ecff 115.5px,#00f2fc 120.5px,#00e1ff 124.5px,#00a9ff 128.5px,#008dff 132.5px,#009dff 135.5px,#00e0ff 141.5px,#00e1ff 167.5px,#008eff 178.5px,#008eff 185.5px,#00b1ff 190.5px,#00b4ff 217.5px)"></div><div style="left:387px;top:57px;width:218px;height:2px;background:linear-gradient(90deg,#0059ff 0.5px,#005aff 6.5px,#0085ff 18.5px,#009dff 21.5px,#00d7ff 24.5px,#00f2fc 25.5px,#00ffdf 26.5px,#00ffab 27.5px,#00ff4f 28.5px,#00ff00 29.5px,#03ff00 37.5px,#27ff00 42.5px,#56ff00 46.5px,#46ff00 51.5px,#12ff00 55.5px,#00ff00 57.5px,#00ff00 64.5px,#00ff71 67.5px,#00ffad 69.5px,#00ffdd 72.5px,#00f4f8 76.5px,#00eaff 89.5px,#00c4ff 91.5px,#005dff 94.5px,#0049ff 95.5px,#0139ff 102.5px,#003cff 107.5px,#0057ff 109.5px,#0083ff 111.5px,#00dbff 114.5px,#00ebff 115.5px,#00f2fc 120.5px,#00e0ff 124.5px,#00a9ff 128.5px,#008eff 132.5px,#009eff 135.5px,#00dfff 141.5px,#00e0ff 167.5px,#008dff 178.5px,#008dff 185.5px,#00b0ff 190.5px,#00b3ff 217.5px)"></div><div style="left:387px;top:59px;width:218px;height:2px;background:linear-gradient(90deg,#0059ff 0.5px,#005aff 6.5px,#0085ff 18.5px,#009dff 21.5px,#00d6ff 24.5px,#00f1fd 25.5px,#00ffe1 26.5px,#00ffae 27.5px,#00ff00 29.5px,#03ff00 37.5px,#31ff00 43.5px,#51ff00 46.5px,#40ff00 51.5px,#06ff00 56.5px,#00ff00 63.5px,#00ff01 64.5px,#00ff73 67.5px,#00ffb0 69.5px,#00fee8 73.5px,#00f2fc 78.5px,#00eaff 89.5px,#00c4ff 91.5px,#005dff 94.5px,#0049ff 95.5px,#003aff 101.5px,#003dff 107.5px,#0057ff 109.5px,#0083ff 111.5px,#00daff 114.5px,#00eaff 115.5px,#00f1fd 120.5px,#00e0ff 124.5px,#00a9ff 128.5px,#008eff 132.5px,#009eff 135.5px,#00ddff 141.5px,#00deff 167.5px,#008dff 178.5px,#008dff 185.5px,#00afff 190.5px,#00b3ff 217.5px)"></div><div style="left:387px;top:61px;width:218px;height:2px;background:linear-gradient(90deg,#0059ff 0.5px,#005aff 6.5px,#0084ff 18.5px,#009cff 21.5px,#00d6ff 24.5px,#00f1fd 25.5px,#00ffe2 26.5px,#00ffb1 27.5px,#00ff00 29.5px,#03ff00 37.5px,#2dff00 43.5px,#4cff00 46.5px,#3bff00 51.5px,#04ff00 56.5px,#00ff04 64.5px,#00ff76 67.5px,#00ffb2 69.5px,#00fee8 73.5px,#00f2fc 78.5px,#00eaff 89.5px,#00c4ff 91.5px,#005dff 94.5px,#0049ff 95.5px,#003aff 101.5px,#003eff 107.5px,#0057ff 109.5px,#0083ff 111.5px,#00daff 114.5px,#00f1fe 116.5px,#00ebff 122.5px,#00d2ff 125.5px,#00a9ff 128.5px,#008fff 132.5px,#009fff 135.5px,#00dcff 141.5px,#00ddff 167.5px,#008cff 178.5px,#008cff 185.5px,#00aeff 190.5px,#00b2ff 217.5px)"></div><div style="left:387px;top:63px;width:218px;height:2px;background:linear-gradient(90deg,#0059ff 0.5px,#005aff 6.5px,#0084ff 18.5px,#009cff 21.5px,#00d5ff 24.5px,#00f1fe 25.5px,#00ffe4 26.5px,#00ffb4 27.5px,#00ff00 29.5px,#03ff00 37.5px,#29ff00 43.5px,#48ff00 46.5px,#3dff00 50.5px,#03ff00 56.5px,#00ff00 63.5px,#00ff07 64.5px,#00ff79 67.5px,#00ffb4 69.5px,#00fee8 73.5px,#00f2fc 78.5px,#00eaff 89.5px,#00c4ff 91.5px,#005dff 94.5px,#0049ff 95.5px,#003bff 101.5px,#003fff 107.5px,#0058ff 109.5px,#0083ff 111.5px,#00d9ff 114.5px,#00f0fe 116.5px,#00eaff 122.5px,#00d1ff 125.5px,#00a9ff 128.5px,#008fff 132.5px,#009fff 135.5px,#00dbff 141.5px,#00dbff 167.5px,#008cff 178.5px,#008bff 185.5px,#00adff 190.5px,#00b1ff 217.5px)"></div><div style="left:387px;top:65px;width:218px;height:2px;background:linear-gradient(90deg,#0059ff 0.5px,#005aff 6.5px,#0084ff 18.5px,#009cff 21.5px,#00d4ff 24.5px,#00f0ff 25.5px,#00ffe6 26.5px,#00ffb6 27.5px,#00ff00 29.5px,#03ff00 37.5px,#32ff00 44.5px,#43ff00 46.5px,#38ff00 50.5px,#01ff00 56.5px,#00ff00 63.5px,#00ff0a 64.5px,#00ff7b 67.5px,#00ffb5 69.5px,#00fde9 73.5px,#00f1fd 78.5px,#00eaff 89.5px,#00c4ff 91.5px,#005dff 94.5px,#0049ff 95.5px,#003bff 101.5px,#0040ff 107.5px,#0058ff 109.5px,#0083ff 111.5px,#00d9ff 114.5px,#00f0ff 116.5px,#00eeff 121.5px,#00ddff 124.5px,#00a8ff 128.5px,#008fff 132.5px,#00a0ff 135.5px,#00d9ff 141.5px,#00daff 167.5px,#008bff 178.5px,#008bff 185.5px,#00aeff 191.5px,#00b1ff 217.5px)"></div><div style="left:387px;top:67px;width:218px;height:2px;background:linear-gradient(90deg,#0059ff 0.5px,#005aff 6.5px,#0084ff 18.5px,#009bff 21.5px,#00d3ff 24.5px,#00efff 25.5px,#00ffe7 26.5px,#00ffb7 27.5px,#00ff00 29.5px,#03ff00 37.5px,#2eff00 44.5px,#3fff00 47.5px,#1dff00 53.5px,#00ff00 56.5px,#00ff00 63.5px,#00ff0d 64.5px,#00ff5e 66.5px,#00ffb7 69.5px,#00fde9 73.5px,#00f1fd 78.5px,#00eaff 89.5px,#00c4ff 91.5px,#005dff 94.5px,#0049ff 95.5px,#003bff 101.5px,#0040ff 107.5px,#0059ff 109.5px,#0083ff 111.5px,#00d8ff 114.5px,#00f0ff 116.5px,#00edff 121.5px,#00d0ff 125.5px,#00a8ff 128.5px,#0090ff 132.5px,#00a1ff 135.5px,#00d8ff 141.5px,#00d8ff 167.5px,#008bff 178.5px,#008aff 185.5px,#00adff 191.5px,#00b1ff 215.5px,#00b0ff 217.5px)"></div><div style="left:387px;top:69px;width:218px;height:2px;background:linear-gradient(90deg,#0059ff 0.5px,#005aff 6.5px,#0084ff 18.5px,#009bff 21.5px,#00d2ff 24.5px,#00eeff 25.5px,#00fee8 26.5px,#00ffb9 27.5px,#00ff63 28.5px,#00ff01 29.5px,#03ff00 37.5px,#3aff00 47.5px,#1bff00 53.5px,#00ff00 56.5px,#00ff00 63.5px,#00ff10 64.5px,#00ff61 66.5px,#00ffb8 69.5px,#00fdea 73.5px,#00f1fd 78.5px,#00eaff 89.5px,#00c4ff 91.5px,#005dff 94.5px,#0049ff 95.5px,#003cff 100.5px,#0041ff 107.5px,#0059ff 109.5px,#0083ff 111.5px,#00d8ff 114.5px,#00f0ff 116.5px,#00ecff 121.5px,#00cfff 125.5px,#00a8ff 128.5px,#0090ff 132.5px,#00a1ff 135.5px,#00d7ff 141.5px,#00d8ff 166.5px,#00c4ff 170.5px,#008aff 178.5px,#0089ff 185.5px,#00acff 191.5px,#00b1ff 212.5px,#00b0ff 217.5px)"></div><div style="left:387px;top:71px;width:218px;height:2px;background:linear-gradient(90deg,#0059ff 0.5px,#005aff 6.5px,#0083ff 18.5px,#009bff 21.5px,#00d1ff 24.5px,#00ecff 25.5px,#00fde9 26.5px,#00ffbb 27.5px,#00ff66 28.5px,#00ff04 29.5px,#03ff00 37.5px,#35ff00 47.5px,#19ff00 53.5px,#00ff00 56.5px,#00ff00 63.5px,#00ff14 64.5px,#00ff64 66.5px,#00ffb9 69.5px,#00fdea 73.5px,#00f1fe 78.5px,#00eaff 89.5px,#00c4ff 91.5px,#005dff 94.5px,#0049ff 95.5px,#003dff 100.5px,#0042ff 107.5px,#006cff 110.5px,#00d8ff 114.5px,#00efff 116.5px,#00ecff 121.5px,#00ceff 125.5px,#00a8ff 128.5px,#0091ff 132.5px,#00a2ff 135.5px,#00d5ff 141.5px,#00d7ff 166.5px,#00c3ff 170.5px,#008aff 178.5px,#0089ff 185.5px,#00abff 191.5px,#00b1ff 210.5px,#00afff 217.5px)"></div><div style="left:387px;top:73px;width:218px;height:2px;background:linear-gradient(90deg,#0059ff 0.5px,#005aff 6.5px,#0083ff 18.5px,#009aff 21.5px,#00d1ff 24.5px,#00ebff 25.5px,#00fcea 26.5px,#00ffbd 27.5px,#00ff69 28.5px,#00ff07 29.5px,#00ff00 32.5px,#03ff00 37.5px,#30ff00 47.5px,#18ff00 53.5px,#00ff00 56.5px,#00ff00 63.5px,#00ff17 64.5px,#00ff67 66.5px,#00ffa4 68.5px,#00ffc9 70.5px,#00fcea 73.5px,#00f1fe 78.5px,#00eaff 89.5px,#00c4ff 91.5px,#005dff 94.5px,#0049ff 95.5px,#003dff 100.5px,#0043ff 107.5px,#006cff 110.5px,#00d7ff 114.5px,#00efff 116.5px,#00ebff 121.5px,#00ceff 125.5px,#00a8ff 128.5px,#0091ff 132.5px,#00a2ff 135.5px,#00d4ff 141.5px,#00d6ff 165.5px,#00c9ff 169.5px,#0089ff 178.5px,#0088ff 185.5px,#00aaff 191.5px,#00b2ff 209.5px,#00afff 217.5px)"></div><div style="left:387px;top:75px;width:218px;height:2px;background:linear-gradient(90deg,#0059ff 0.5px,#005aff 6.5px,#0083ff 18.5px,#009aff 21.5px,#00d0ff 24.5px,#00eaff 25.5px,#00fceb 26.5px,#00ffbe 27.5px,#00ff6b 28.5px,#00ff0a 29.5px,#00ff00 30.5px,#02ff00 37.5px,#2cff00 47.5px,#16ff00 53.5px,#00ff00 56.5px,#00ff00 63.5px,#00ff1a 64.5px,#00ff6a 66.5px,#00ffa6 68.5px,#00ffca 70.5px,#00fceb 73.5px,#00f0fe 78.5px,#00eaff 89.5px,#00c4ff 91.5px,#005dff 94.5px,#0049ff 95.5px,#003eff 100.5px,#0044ff 107.5px,#006cff 110.5px,#00d7ff 114.5px,#00eeff 116.5px,#00efff 120.5px,#00d8ff 124.5px,#00a8ff 128.5px,#0092ff 132.5px,#00acff 136.5px,#00d3ff 141.5px,#00d5ff 164.5px,#00c8ff 169.5px,#0089ff 178.5px,#0088ff 185.5px,#00a9ff 191.5px,#00b2ff 208.5px,#00aeff 217.5px)"></div><div style="left:387px;top:77px;width:218px;height:3px;background:linear-gradient(90deg,#0059ff 0.5px,#005aff 6.5px,#0083ff 18.5px,#0099ff 21.5px,#00cfff 24.5px,#00e8ff 25.5px,#00fbed 26.5px,#00ffc0 27.5px,#00ff6f 28.5px,#00ff0e 29.5px,#00ff00 30.5px,#02ff00 37.5px,#27ff00 47.5px,#13ff00 53.5px,#01ff00 55.5px,#00ff00 63.5px,#00ff1e 64.5px,#00ff6d 66.5px,#00ffaa 68.5px,#00ffd7 71.5px,#00f5f7 75.5px,#00f0ff 83.5px,#00eaff 89.5px,#00c4ff 91.5px,#005dff 94.5px,#0049ff 95.5px,#003fff 99.5px,#0045ff 107.5px,#006cff 110.5px,#00d6ff 114.5px,#00edff 116.5px,#00eeff 120.5px,#00ccff 125.5px,#00a1ff 129.5px,#0094ff 133.5px,#00d1ff 141.5px,#00d3ff 162.5px,#00ccff 168.5px,#0088ff 178.5px,#008bff 186.5px,#00a7ff 191.5px,#00b2ff 207.5px,#00adff 217.5px)"></div><div style="left:387px;top:80px;width:218px;height:2px;background:linear-gradient(90deg,#0059ff 0.5px,#005aff 6.5px,#0089ff 19.5px,#00a7ff 22.5px,#00e7ff 25.5px,#00faee 26.5px,#00ffc3 27.5px,#00ff73 28.5px,#00ff13 29.5px,#00ff00 30.5px,#01ff00 37.5px,#23ff00 47.5px,#10ff00 53.5px,#00ff00 55.5px,#00ff00 63.5px,#00ff8f 67.5px,#00ffac 68.5px,#00ffe4 72.5px,#00f1fe 77.5px,#00eaff 89.5px,#00c4ff 91.5px,#005dff 94.5px,#0049ff 95.5px,#003fff 99.5px,#0046ff 107.5px,#006dff 110.5px,#00d6ff 114.5px,#00edff 116.5px,#00edff 120.5px,#00cbff 125.5px,#00a1ff 129.5px,#0095ff 133.5px,#00cfff 141.5px,#00d2ff 161.5px,#00caff 168.5px,#0088ff 178.5px,#008aff 186.5px,#00a6ff 191.5px,#00b2ff 207.5px,#00adff 217.5px)"></div><div style="left:387px;top:82px;width:218px;height:2px;background:linear-gradient(90deg,#0059ff 0.5px,#005aff 6.5px,#0088ff 19.5px,#00a6ff 22.5px,#00e6ff 25.5px,#00faef 26.5px,#00ffc5 27.5px,#00ff78 28.5px,#00ff19 29.5px,#00ff00 30.5px,#05ff00 38.5px,#20ff00 47.5px,#0dff00 53.5px,#00ff00 56.5px,#00ff00 63.5px,#00ff71 66.5px,#00ffad 68.5px,#00ffe5 72.5px,#00f0ff 77.5px,#00e9ff 89.5px,#00c3ff 91.5px,#005dff 94.5px,#0049ff 95.5px,#0040ff 99.5px,#0046ff 107.5px,#006dff 110.5px,#00d5ff 114.5px,#00ecff 116.5px,#00ecff 120.5px,#00cbff 125.5px,#00a1ff 129.5px,#0095ff 133.5px,#00cbff 140.5px,#00d2ff 158.5px,#00c9ff 168.5px,#0085ff 179.5px,#0089ff 186.5px,#00a5ff 191.5px,#00b2ff 206.5px,#00acff 217.5px)"></div><div style="left:387px;top:84px;width:218px;height:2px;background:linear-gradient(90deg,#0059ff 0.5px,#005aff 6.5px,#0088ff 19.5px,#00a6ff 22.5px,#00e5ff 25.5px,#00f9f0 26.5px,#00ffc7 27.5px,#00ff7c 28.5px,#00ff1f 29.5px,#00ff00 30.5px,#02ff00 38.5px,#1cff00 47.5px,#0aff00 53.5px,#00ff00 56.5px,#00ff00 63.5px,#00ff72 66.5px,#00ffaf 68.5px,#00ffe6 72.5px,#00f0ff 77.5px,#00e8ff 89.5px,#00c2ff 91.5px,#005cff 94.5px,#0049ff 95.5px,#0040ff 99.5px,#0047ff 107.5px,#006dff 110.5px,#00d5ff 114.5px,#00ecff 116.5px,#00ecff 120.5px,#00caff 125.5px,#00a1ff 129.5px,#0096ff 133.5px,#00caff 140.5px,#00d2ff 157.5px,#00c8ff 168.5px,#0084ff 179.5px,#0089ff 186.5px,#00a4ff 191.5px,#00b2ff 206.5px,#00acff 217.5px)"></div><div style="left:387px;top:86px;width:218px;height:2px;background:linear-gradient(90deg,#0059ff 0.5px,#005aff 6.5px,#0088ff 19.5px,#00a5ff 22.5px,#00e4ff 25.5px,#00f9f1 26.5px,#00ffc9 27.5px,#00ff81 28.5px,#00ff24 29.5px,#00ff00 30.5px,#04ff00 39.5px,#18ff00 48.5px,#00ff00 55.5px,#00ff00 63.5px,#00ff74 66.5px,#00ffb0 68.5px,#00ffe6 72.5px,#00efff 77.5px,#00e7ff 89.5px,#00c1ff 91.5px,#005cff 94.5px,#0049ff 95.5px,#0041ff 99.5px,#0048ff 107.5px,#006dff 110.5px,#00d4ff 114.5px,#00ebff 116.5px,#00ebff 120.5px,#00c9ff 125.5px,#00a1ff 129.5px,#0097ff 133.5px,#00c9ff 140.5px,#00d0ff 157.5px,#00c6ff 168.5px,#0084ff 179.5px,#0088ff 186.5px,#00a3ff 191.5px,#00b2ff 206.5px,#00abff 217.5px)"></div><div style="left:387px;top:88px;width:218px;height:2px;background:linear-gradient(90deg,#0059ff 0.5px,#005aff 6.5px,#0088ff 19.5px,#00a4ff 22.5px,#00e3ff 25.5px,#00f8f2 26.5px,#00ffcb 27.5px,#00ff85 28.5px,#00ff2a 29.5px,#00ff00 30.5px,#05ff00 40.5px,#14ff00 48.5px,#00ff00 55.5px,#00ff00 63.5px,#00ff75 66.5px,#00ffb2 68.5px,#00ffe7 72.5px,#00eeff 77.5px,#00e6ff 89.5px,#00c0ff 91.5px,#005cff 94.5px,#0049ff 95.5px,#0041ff 99.5px,#0049ff 107.5px,#006dff 110.5px,#00d4ff 114.5px,#00ebff 116.5px,#00eeff 119.5px,#00c9ff 125.5px,#00a1ff 129.5px,#0097ff 133.5px,#00c4ff 139.5px,#00d1ff 153.5px,#00c5ff 168.5px,#0083ff 179.5px,#0087ff 186.5px,#00a2ff 191.5px,#00b2ff 205.5px,#00abff 217.5px)"></div><div style="left:387px;top:90px;width:218px;height:2px;background:linear-gradient(90deg,#0059ff 0.5px,#005aff 6.5px,#0087ff 19.5px,#00a4ff 22.5px,#00e2ff 25.5px,#00f7f3 26.5px,#00ffcd 27.5px,#00ff8a 28.5px,#00ff30 29.5px,#00ff00 30.5px,#05ff00 41.5px,#11ff00 48.5px,#00ff00 55.5px,#00ff02 63.5px,#00ff77 66.5px,#00ffb3 68.5px,#00fee7 72.5px,#00edff 77.5px,#00e5ff 89.5px,#00bfff 91.5px,#005cff 94.5px,#0049ff 95.5px,#0041ff 99.5px,#004aff 107.5px,#006dff 110.5px,#00d3ff 114.5px,#00eaff 116.5px,#00eeff 119.5px,#00c8ff 125.5px,#00a1ff 129.5px,#0098ff 133.5px,#00c3ff 139.5px,#00cfff 156.5px,#00c3ff 168.5px,#0083ff 179.5px,#0087ff 186.5px,#00a1ff 191.5px,#00b2ff 205.5px,#00aaff 217.5px)"></div><div style="left:387px;top:92px;width:218px;height:2px;background:linear-gradient(90deg,#0059ff 0.5px,#005aff 6.5px,#0087ff 19.5px,#00a3ff 22.5px,#00e1ff 25.5px,#00f7f4 26.5px,#00ffcf 27.5px,#00ff8e 28.5px,#00ff36 29.5px,#00ff00 30.5px,#05ff00 42.5px,#0cff00 49.5px,#00ff00 55.5px,#00ff05 63.5px,#00ff78 66.5px,#00ffb4 68.5px,#00fee8 72.5px,#00ecff 77.5px,#00e4ff 89.5px,#00beff 91.5px,#005bff 94.5px,#0049ff 95.5px,#0042ff 99.5px,#004aff 107.5px,#006eff 110.5px,#00d3ff 114.5px,#00eaff 116.5px,#00edff 119.5px,#00c7ff 125.5px,#00a1ff 129.5px,#0098ff 133.5px,#00c3ff 139.5px,#00cdff 156.5px,#00c2ff 168.5px,#0082ff 179.5px,#0086ff 186.5px,#00a2ff 192.5px,#00b2ff 205.5px,#00a9ff 217.5px)"></div><div style="left:387px;top:94px;width:218px;height:2px;background:linear-gradient(90deg,#0059ff 0.5px,#005aff 6.5px,#0087ff 19.5px,#00a2ff 22.5px,#00e0ff 25.5px,#00f6f4 26.5px,#00ffd1 27.5px,#00ff93 28.5px,#00ff3b 29.5px,#00ff00 30.5px,#06ff00 44.5px,#06ff00 50.5px,#00ff00 59.5px,#00ff00 62.5px,#00ff07 63.5px,#00ff79 66.5px,#00ffb5 68.5px,#00fee8 72.5px,#00ebff 77.5px,#00e3ff 89.5px,#00beff 91.5px,#005bff 94.5px,#0049ff 95.5px,#0042ff 99.5px,#004bff 107.5px,#006eff 110.5px,#00d2ff 114.5px,#00e9ff 116.5px,#00edff 119.5px,#00c6ff 125.5px,#00a1ff 129.5px,#0099ff 133.5px,#00c2ff 139.5px,#00ccff 156.5px,#00c0ff 168.5px,#0081ff 179.5px,#0085ff 186.5px,#00a1ff 192.5px,#00b2ff 205.5px,#00a9ff 217.5px)"></div><div style="left:387px;top:96px;width:218px;height:2px;background:linear-gradient(90deg,#0059ff 0.5px,#005aff 6.5px,#0087ff 19.5px,#00a2ff 22.5px,#00dfff 25.5px,#00f6f5 26.5px,#00ffd3 27.5px,#00ff97 28.5px,#00ff41 29.5px,#00ff00 30.5px,#03ff00 50.5px,#00ff00 62.5px,#00ff0a 63.5px,#00ff7b 66.5px,#00ffb6 68.5px,#00fde9 72.5px,#00efff 76.5px,#00e2ff 89.5px,#00bdff 91.5px,#005bff 94.5px,#0049ff 95.5px,#0043ff 99.5px,#004cff 107.5px,#006eff 110.5px,#00d2ff 114.5px,#00e8ff 116.5px,#00ecff 119.5px,#00c6ff 125.5px,#00a1ff 129.5px,#0099ff 133.5px,#00bfff 138.5px,#00cbff 156.5px,#00bfff 168.5px,#0081ff 179.5px,#0084ff 186.5px,#00a0ff 192.5px,#00b2ff 205.5px,#00a8ff 217.5px)"></div><div style="left:387px;top:98px;width:218px;height:2px;background:linear-gradient(90deg,#0059ff 0.5px,#005aff 6.5px,#0086ff 19.5px,#00a1ff 22.5px,#00deff 25.5px,#00f5f6 26.5px,#00ffd5 27.5px,#00ff9c 28.5px,#00ff47 29.5px,#00ff00 30.5px,#00ff00 62.5px,#00ff0c 63.5px,#00ff7c 66.5px,#00ffb6 68.5px,#00fdea 72.5px,#00eeff 76.5px,#00e1ff 89.5px,#00bcff 91.5px,#005aff 94.5px,#0049ff 95.5px,#0042ff 98.5px,#004dff 107.5px,#006eff 110.5px,#00d2ff 114.5px,#00e8ff 116.5px,#00ebff 119.5px,#00c5ff 125.5px,#00a1ff 129.5px,#009aff 133.5px,#00bfff 138.5px,#00caff 156.5px,#00b9ff 169.5px,#0080ff 179.5px,#0084ff 186.5px,#009fff 192.5px,#00b2ff 205.5px,#00a8ff 217.5px)"></div><div style="left:387px;top:100px;width:218px;height:2px;background:linear-gradient(90deg,#0059ff 0.5px,#005aff 6.5px,#0086ff 19.5px,#00a0ff 22.5px,#00ddff 25.5px,#00f5f7 26.5px,#00ffd7 27.5px,#00ffa0 28.5px,#00ff00 30.5px,#00ff00 62.5px,#00ff0f 63.5px,#00ff7d 66.5px,#00ffb7 68.5px,#00fdea 72.5px,#00edff 76.5px,#00e0ff 89.5px,#00bbff 91.5px,#005aff 94.5px,#0049ff 95.5px,#0043ff 99.5px,#004dff 107.5px,#006eff 110.5px,#00d1ff 114.5px,#00e8ff 116.5px,#00ebff 119.5px,#00c5ff 125.5px,#00a1ff 129.5px,#009aff 133.5px,#00bfff 138.5px,#00c9ff 156.5px,#00b9ff 169.5px,#0080ff 179.5px,#0083ff 186.5px,#009eff 192.5px,#00b3ff 204.5px,#00a7ff 217.5px)"></div><div style="left:387px;top:102px;width:218px;height:2px;background:linear-gradient(90deg,#0059ff 0.5px,#005aff 6.5px,#0086ff 19.5px,#00a0ff 22.5px,#00dcff 25.5px,#00f4f8 26.5px,#00ffda 27.5px,#00ffa5 28.5px,#00ff00 30.5px,#00ff00 62.5px,#00ff11 63.5px,#00ff7f 66.5px,#00ffb8 68.5px,#00fceb 72.5px,#00ecff 76.5px,#00dfff 89.5px,#00baff 91.5px,#005aff 94.5px,#0049ff 95.5px,#0043ff 99.5px,#004dff 107.5px,#006eff 110.5px,#00d1ff 114.5px,#00e8ff 116.5px,#00ebff 119.5px,#00c5ff 125.5px,#00a1ff 129.5px,#009aff 133.5px,#00bfff 138.5px,#00c9ff 156.5px,#00b9ff 169.5px,#0080ff 179.5px,#0083ff 186.5px,#009eff 192.5px,#00b3ff 204.5px,#00a7ff 217.5px)"></div><div style="left:387px;top:104px;width:218px;height:2px;background:linear-gradient(90deg,#0059ff 0.5px,#005aff 6.5px,#0086ff 19.5px,#009fff 22.5px,#00dbff 25.5px,#00f4f9 26.5px,#00ffdc 27.5px,#00ffa9 28.5px,#00ff05 30.5px,#00ff00 62.5px,#00ff13 63.5px,#00ff80 66.5px,#00ffb9 68.5px,#00fceb 72.5px,#00ebff 76.5px,#00dfff 89.5px,#00b9ff 91.5px,#0074ff 93.5px,#0048ff 95.5px,#0043ff 99.5px,#004dff 107.5px,#006eff 110.5px,#00d1ff 114.5px,#00e8ff 116.5px,#00ebff 119.5px,#00c5ff 125.5px,#00a1ff 129.5px,#009aff 133.5px,#00bfff 138.5px,#00c9ff 156.5px,#00b9ff 169.5px,#0080ff 179.5px,#0083ff 186.5px,#009eff 192.5px,#00b3ff 204.5px,#00a7ff 217.5px)"></div><div style="left:387px;top:106px;width:218px;height:1px;background:linear-gradient(90deg,#0059ff 0.5px,#005aff 6.5px,#0086ff 19.5px,#009fff 22.5px,#00dbff 25.5px,#00f3fa 26.5px,#00ffdd 27.5px,#00ffac 28.5px,#00ff07 30.5px,#00ff00 33.5px,#00ff00 62.5px,#00ff15 63.5px,#00ff81 66.5px,#00ffb9 68.5px,#00fceb 72.5px,#00eaff 76.5px,#00deff 89.5px,#00b9ff 91.5px,#0074ff 93.5px,#0048ff 95.5px,#0043ff 99.5px,#004dff 107.5px,#006eff 110.5px,#00d1ff 114.5px,#00e8ff 116.5px,#00ebff 119.5px,#00c5ff 125.5px,#00a1ff 129.5px,#009aff 133.5px,#00bfff 138.5px,#00c9ff 156.5px,#00b9ff 169.5px,#0080ff 179.5px,#0083ff 186.5px,#009eff 192.5px,#00b3ff 204.5px,#00a7ff 217.5px)"></div><div style="left:387px;top:110px;width:218px;height:40px;background:linear-gradient(90deg,#005bff 0.5px,#0049ff 7.5px,#004bff 17.5px,#0089ff 24.5px,#00d6ff 29.5px,#00eeff 33.5px,#00f0fe 51.5px,#00d9ff 58.5px,#00b0ff 62.5px,#0073ff 66.5px,#0066ff 70.5px,#0071ff 73.5px,#0098ff 77.5px,#00a2ff 81.5px,#0077ff 90.5px,#0058ff 95.5px,#0054ff 103.5px,#0062ff 107.5px,#0094ff 112.5px,#00a4ff 116.5px,#008fff 123.5px,#0075ff 129.5px,#0087ff 135.5px,#009fff 142.5px,#00a5ff 155.5px,#0085ff 165.5px,#0045ff 176.5px,#0048ff 181.5px,#008aff 188.5px,#0099ff 201.5px,#008dff 217.5px)"></div><div style="left:387px;top:150px;width:218px;height:39px;background:linear-gradient(90deg,#005bff 0.5px,#0049ff 7.5px,#004bff 17.5px,#0089ff 24.5px,#00c9ff 28.5px,#00e8ff 32.5px,#00f3fa 42.5px,#00ecff 54.5px,#00d1ff 59.5px,#00b0ff 62.5px,#0073ff 66.5px,#0066ff 70.5px,#0071ff 73.5px,#0098ff 77.5px,#00a2ff 81.5px,#0077ff 90.5px,#0058ff 95.5px,#0054ff 103.5px,#0062ff 107.5px,#0094ff 112.5px,#00a4ff 116.5px,#008fff 123.5px,#0075ff 129.5px,#0087ff 135.5px,#009fff 142.5px,#00a5ff 155.5px,#0085ff 165.5px,#0045ff 176.5px,#0048ff 181.5px,#008aff 188.5px,#0099ff 201.5px,#008dff 217.5px)"></div><div style="left:387px;top:189px;width:218px;height:19px;background:linear-gradient(90deg,#005bff 0.5px,#0049ff 7.5px,#004bff 17.5px,#0089ff 24.5px,#00c8ff 28.5px,#00ebff 33.5px,#00f2fb 46.5px,#00e9ff 55.5px,#00c8ff 60.5px,#008fff 64.5px,#0073ff 66.5px,#0066ff 70.5px,#0071ff 73.5px,#0098ff 77.5px,#00a2ff 81.5px,#0077ff 90.5px,#0058ff 95.5px,#0054ff 103.5px,#0062ff 107.5px,#0094ff 112.5px,#00a4ff 116.5px,#008fff 123.5px,#0075ff 129.5px,#0087ff 135.5px,#009fff 142.5px,#00a5ff 155.5px,#0085ff 165.5px,#0045ff 176.5px,#0048ff 181.5px,#008aff 188.5px,#0099ff 201.5px,#008dff 217.5px)"></div>
<svg width="660" height="464" viewBox="0 0 660 464">
<defs><linearGradient id="cbar" x1="0" y1="0" x2="0" y2="1"><stop offset="0.0000" stop-color="#ff0000"/><stop offset="0.0600" stop-color="#ff0000"/><stop offset="0.0850" stop-color="#ff2800"/><stop offset="0.1250" stop-color="#ff5000"/><stop offset="0.1650" stop-color="#ff7800"/><stop offset="0.2000" stop-color="#ffaa00"/><stop offset="0.2350" stop-color="#ffdc00"/><stop offset="0.2700" stop-color="#fffa00"/><stop offset="0.3150" stop-color="#c8ff00"/><stop offset="0.3550" stop-color="#78ff00"/><stop offset="0.4000" stop-color="#28ff00"/><stop offset="0.4500" stop-color="#00ff00"/><stop offset="0.5750" stop-color="#00ff00"/><stop offset="0.6200" stop-color="#00ff64"/><stop offset="0.6650" stop-color="#00ffb4"/><stop offset="0.7150" stop-color="#00ffe6"/><stop offset="0.7500" stop-color="#00f0ff"/><stop offset="0.8000" stop-color="#00b4ff"/><stop offset="0.8450" stop-color="#0078ff"/><stop offset="0.9050" stop-color="#003cff"/><stop offset="0.9700" stop-color="#0a0aff"/><stop offset="1.0000" stop-color="#1400fa"/></linearGradient></defs>
<rect x="57" y="108" width="216" height="3.4000000000000057" fill="#fff"/>
<rect x="387" y="107.2" width="218" height="3.0999999999999943" fill="#fff"/>
<rect x="56.5" y="10.5" width="217.0" height="198.0" fill="none" stroke="#262626" stroke-width="1.1"/>
<line x1="51.00" y1="14.00" x2="56.50" y2="14.00" stroke="#2a2a2a" stroke-width="1.1"/>
<text x="48.00" y="18.00" font-size="12.5" text-anchor="end" >0</text>
<line x1="53.50" y1="29.70" x2="56.50" y2="29.70" stroke="#2a2a2a" stroke-width="1.1"/>
<line x1="51.00" y1="45.40" x2="56.50" y2="45.40" stroke="#2a2a2a" stroke-width="1.1"/>
<text x="48.00" y="49.40" font-size="12.5" text-anchor="end" >10</text>
<line x1="53.50" y1="61.10" x2="56.50" y2="61.10" stroke="#2a2a2a" stroke-width="1.1"/>
<line x1="51.00" y1="76.80" x2="56.50" y2="76.80" stroke="#2a2a2a" stroke-width="1.1"/>
<text x="48.00" y="80.80" font-size="12.5" text-anchor="end" >20</text>
<line x1="53.50" y1="92.50" x2="56.50" y2="92.50" stroke="#2a2a2a" stroke-width="1.1"/>
<text x="48.00" y="112.20" font-size="12.5" text-anchor="end" >30</text>
<line x1="53.50" y1="121.03" x2="56.50" y2="121.03" stroke="#2a2a2a" stroke-width="1.1"/>
<line x1="51.00" y1="130.80" x2="56.50" y2="130.80" stroke="#2a2a2a" stroke-width="1.1"/>
<text x="48.00" y="134.80" font-size="12.5" text-anchor="end" >300</text>
<line x1="53.50" y1="140.58" x2="56.50" y2="140.58" stroke="#2a2a2a" stroke-width="1.1"/>
<line x1="51.00" y1="150.35" x2="56.50" y2="150.35" stroke="#2a2a2a" stroke-width="1.1"/>
<text x="48.00" y="154.35" font-size="12.5" text-anchor="end" >400</text>
<line x1="53.50" y1="160.12" x2="56.50" y2="160.12" stroke="#2a2a2a" stroke-width="1.1"/>
<line x1="51.00" y1="169.90" x2="56.50" y2="169.90" stroke="#2a2a2a" stroke-width="1.1"/>
<text x="48.00" y="173.90" font-size="12.5" text-anchor="end" >500</text>
<line x1="53.50" y1="179.68" x2="56.50" y2="179.68" stroke="#2a2a2a" stroke-width="1.1"/>
<line x1="51.00" y1="189.45" x2="56.50" y2="189.45" stroke="#2a2a2a" stroke-width="1.1"/>
<text x="48.00" y="193.45" font-size="12.5" text-anchor="end" >600</text>
<line x1="53.50" y1="199.23" x2="56.50" y2="199.23" stroke="#2a2a2a" stroke-width="1.1"/>
<line x1="51.00" y1="209.00" x2="56.50" y2="209.00" stroke="#2a2a2a" stroke-width="1.1"/>
<text x="48.00" y="213.00" font-size="12.5" text-anchor="end" >700</text>
<line x1="60.38" y1="208.50" x2="60.38" y2="211.50" stroke="#2a2a2a" stroke-width="1.1"/>
<line x1="79.00" y1="208.50" x2="79.00" y2="213.50" stroke="#2a2a2a" stroke-width="1.1"/>
<text x="79.00" y="227.20" font-size="12.5" text-anchor="middle" >450</text>
<line x1="97.62" y1="208.50" x2="97.62" y2="211.50" stroke="#2a2a2a" stroke-width="1.1"/>
<line x1="116.24" y1="208.50" x2="116.24" y2="213.50" stroke="#2a2a2a" stroke-width="1.1"/>
<text x="116.24" y="227.20" font-size="12.5" text-anchor="middle" >500</text>
<line x1="134.86" y1="208.50" x2="134.86" y2="211.50" stroke="#2a2a2a" stroke-width="1.1"/>
<line x1="153.48" y1="208.50" x2="153.48" y2="213.50" stroke="#2a2a2a" stroke-width="1.1"/>
<text x="153.48" y="227.20" font-size="12.5" text-anchor="middle" >550</text>
<line x1="172.10" y1="208.50" x2="172.10" y2="211.50" stroke="#2a2a2a" stroke-width="1.1"/>
<line x1="190.72" y1="208.50" x2="190.72" y2="213.50" stroke="#2a2a2a" stroke-width="1.1"/>
<text x="190.72" y="227.20" font-size="12.5" text-anchor="middle" >600</text>
<line x1="209.34" y1="208.50" x2="209.34" y2="211.50" stroke="#2a2a2a" stroke-width="1.1"/>
<line x1="227.96" y1="208.50" x2="227.96" y2="213.50" stroke="#2a2a2a" stroke-width="1.1"/>
<text x="227.96" y="227.20" font-size="12.5" text-anchor="middle" >650</text>
<line x1="246.58" y1="208.50" x2="246.58" y2="211.50" stroke="#2a2a2a" stroke-width="1.1"/>
<line x1="265.20" y1="208.50" x2="265.20" y2="213.50" stroke="#2a2a2a" stroke-width="1.1"/>
<text x="265.20" y="227.20" font-size="12.5" text-anchor="middle" >700</text>
<path d="M51.5,109.2 L62.0,106.4 L62.0,110.0 L51.5,113.4Z" fill="#fff"/>
<path d="M51.5,109.1 L62.3,106.3" stroke="#1a1a1a" stroke-width="1.5" stroke-linecap="round" fill="none"/>
<path d="M51.5,113.3 L62.3,109.9" stroke="#1a1a1a" stroke-width="1.5" stroke-linecap="round" fill="none"/>
<text x="164.50" y="249.50" font-size="12.5" text-anchor="middle" font-weight="bold" >Wavelength (nm)</text>
<text x="0" y="0" font-size="12.5" font-weight="bold" text-anchor="middle" transform="translate(16.8,117.5) rotate(-90)">Time delay (ps)</text>
<rect x="275.8" y="10.0" width="8.2" height="200.6" fill="url(#cbar)"/>
<text x="288.20" y="17.10" font-size="12.5" text-anchor="start" >0.02</text>
<text x="288.20" y="66.28" font-size="12.5" text-anchor="start" >0.01</text>
<text x="288.20" y="115.45" font-size="12.5" text-anchor="start" >0.009</text>
<text x="288.20" y="164.62" font-size="12.5" text-anchor="start" >0.003</text>
<text x="288.20" y="213.80" font-size="12.5" text-anchor="start" >-0.002</text>
<text x="2.20" y="14.00" font-size="16" text-anchor="start" >(a)</text>
<rect x="387.0" y="9.5" width="218.5" height="199.0" fill="none" stroke="#262626" stroke-width="1.1"/>
<line x1="381.50" y1="12.90" x2="387.00" y2="12.90" stroke="#2a2a2a" stroke-width="1.1"/>
<text x="378.50" y="16.20" font-size="12.5" text-anchor="end" >0</text>
<line x1="384.00" y1="28.67" x2="387.00" y2="28.67" stroke="#2a2a2a" stroke-width="1.1"/>
<line x1="381.50" y1="44.45" x2="387.00" y2="44.45" stroke="#2a2a2a" stroke-width="1.1"/>
<text x="378.50" y="47.75" font-size="12.5" text-anchor="end" >10</text>
<line x1="384.00" y1="60.22" x2="387.00" y2="60.22" stroke="#2a2a2a" stroke-width="1.1"/>
<line x1="381.50" y1="76.00" x2="387.00" y2="76.00" stroke="#2a2a2a" stroke-width="1.1"/>
<text x="378.50" y="79.30" font-size="12.5" text-anchor="end" >20</text>
<line x1="384.00" y1="91.78" x2="387.00" y2="91.78" stroke="#2a2a2a" stroke-width="1.1"/>
<text x="378.50" y="110.85" font-size="12.5" text-anchor="end" >30</text>
<line x1="384.00" y1="120.88" x2="387.00" y2="120.88" stroke="#2a2a2a" stroke-width="1.1"/>
<line x1="381.50" y1="130.60" x2="387.00" y2="130.60" stroke="#2a2a2a" stroke-width="1.1"/>
<text x="378.50" y="134.00" font-size="12.5" text-anchor="end" >300</text>
<line x1="384.00" y1="140.32" x2="387.00" y2="140.32" stroke="#2a2a2a" stroke-width="1.1"/>
<line x1="381.50" y1="150.05" x2="387.00" y2="150.05" stroke="#2a2a2a" stroke-width="1.1"/>
<text x="378.50" y="153.45" font-size="12.5" text-anchor="end" >400</text>
<line x1="384.00" y1="159.78" x2="387.00" y2="159.78" stroke="#2a2a2a" stroke-width="1.1"/>
<line x1="381.50" y1="169.50" x2="387.00" y2="169.50" stroke="#2a2a2a" stroke-width="1.1"/>
<text x="378.50" y="172.90" font-size="12.5" text-anchor="end" >500</text>
<line x1="384.00" y1="179.22" x2="387.00" y2="179.22" stroke="#2a2a2a" stroke-width="1.1"/>
<line x1="381.50" y1="188.95" x2="387.00" y2="188.95" stroke="#2a2a2a" stroke-width="1.1"/>
<text x="378.50" y="192.35" font-size="12.5" text-anchor="end" >600</text>
<line x1="384.00" y1="198.68" x2="387.00" y2="198.68" stroke="#2a2a2a" stroke-width="1.1"/>
<line x1="381.50" y1="208.40" x2="387.00" y2="208.40" stroke="#2a2a2a" stroke-width="1.1"/>
<text x="378.50" y="211.80" font-size="12.5" text-anchor="end" >700</text>
<line x1="391.20" y1="208.50" x2="391.20" y2="211.50" stroke="#2a2a2a" stroke-width="1.1"/>
<line x1="410.00" y1="208.50" x2="410.00" y2="213.50" stroke="#2a2a2a" stroke-width="1.1"/>
<text x="410.00" y="227.20" font-size="12.5" text-anchor="middle" >450</text>
<line x1="428.80" y1="208.50" x2="428.80" y2="211.50" stroke="#2a2a2a" stroke-width="1.1"/>
<line x1="447.60" y1="208.50" x2="447.60" y2="213.50" stroke="#2a2a2a" stroke-width="1.1"/>
<text x="447.60" y="227.20" font-size="12.5" text-anchor="middle" >500</text>
<line x1="466.40" y1="208.50" x2="466.40" y2="211.50" stroke="#2a2a2a" stroke-width="1.1"/>
<line x1="485.20" y1="208.50" x2="485.20" y2="213.50" stroke="#2a2a2a" stroke-width="1.1"/>
<text x="485.20" y="227.20" font-size="12.5" text-anchor="middle" >550</text>
<line x1="504.00" y1="208.50" x2="504.00" y2="211.50" stroke="#2a2a2a" stroke-width="1.1"/>
<line x1="522.80" y1="208.50" x2="522.80" y2="213.50" stroke="#2a2a2a" stroke-width="1.1"/>
<text x="522.80" y="227.20" font-size="12.5" text-anchor="middle" >600</text>
<line x1="541.60" y1="208.50" x2="541.60" y2="211.50" stroke="#2a2a2a" stroke-width="1.1"/>
<line x1="560.40" y1="208.50" x2="560.40" y2="213.50" stroke="#2a2a2a" stroke-width="1.1"/>
<text x="560.40" y="227.20" font-size="12.5" text-anchor="middle" >650</text>
<line x1="579.20" y1="208.50" x2="579.20" y2="211.50" stroke="#2a2a2a" stroke-width="1.1"/>
<line x1="598.00" y1="208.50" x2="598.00" y2="213.50" stroke="#2a2a2a" stroke-width="1.1"/>
<text x="598.00" y="227.20" font-size="12.5" text-anchor="middle" >700</text>
<path d="M382.0,108.3 L392.5,105.5 L392.5,109.1 L382.0,112.5Z" fill="#fff"/>
<path d="M382.0,108.2 L392.8,105.4" stroke="#1a1a1a" stroke-width="1.5" stroke-linecap="round" fill="none"/>
<path d="M382.0,112.4 L392.8,109.0" stroke="#1a1a1a" stroke-width="1.5" stroke-linecap="round" fill="none"/>
<text x="495.80" y="249.50" font-size="12.5" text-anchor="middle" font-weight="bold" >Wavelength (nm)</text>
<text x="0" y="0" font-size="12.5" font-weight="bold" text-anchor="middle" transform="translate(347.3,117.0) rotate(-90)">Time delay (ps)</text>
<rect x="608.4" y="9.2" width="8.2" height="201.20000000000002" fill="url(#cbar)"/>
<text x="621.50" y="16.50" font-size="12.5" text-anchor="start" >0.02</text>
<text x="621.50" y="65.83" font-size="12.5" text-anchor="start" >0.01</text>
<text x="621.50" y="115.15" font-size="12.5" text-anchor="start" >0.009</text>
<text x="621.50" y="164.48" font-size="12.5" text-anchor="start" >0.003</text>
<text x="621.50" y="213.80" font-size="12.5" text-anchor="start" >-0.002</text>
<text x="332.60" y="14.00" font-size="16" text-anchor="start" >(c)</text>
<rect x="56.9" y="263.4" width="216.6" height="152.0" fill="none" stroke="#262626" stroke-width="1.2"/>
<line x1="51.40" y1="403.00" x2="56.90" y2="403.00" stroke="#2a2a2a" stroke-width="1.1"/>
<text x="48.10" y="406.10" font-size="12.5" text-anchor="end" >0.0</text>
<line x1="53.90" y1="390.35" x2="56.90" y2="390.35" stroke="#2a2a2a" stroke-width="1.1"/>
<line x1="51.40" y1="377.70" x2="56.90" y2="377.70" stroke="#2a2a2a" stroke-width="1.1"/>
<text x="48.10" y="380.80" font-size="12.5" text-anchor="end" >0.2</text>
<line x1="53.90" y1="365.05" x2="56.90" y2="365.05" stroke="#2a2a2a" stroke-width="1.1"/>
<line x1="51.40" y1="352.40" x2="56.90" y2="352.40" stroke="#2a2a2a" stroke-width="1.1"/>
<text x="48.10" y="355.50" font-size="12.5" text-anchor="end" >0.4</text>
<line x1="53.90" y1="339.75" x2="56.90" y2="339.75" stroke="#2a2a2a" stroke-width="1.1"/>
<line x1="51.40" y1="327.10" x2="56.90" y2="327.10" stroke="#2a2a2a" stroke-width="1.1"/>
<text x="48.10" y="330.20" font-size="12.5" text-anchor="end" >0.6</text>
<line x1="53.90" y1="314.45" x2="56.90" y2="314.45" stroke="#2a2a2a" stroke-width="1.1"/>
<line x1="51.40" y1="301.80" x2="56.90" y2="301.80" stroke="#2a2a2a" stroke-width="1.1"/>
<text x="48.10" y="304.90" font-size="12.5" text-anchor="end" >0.8</text>
<line x1="53.90" y1="289.15" x2="56.90" y2="289.15" stroke="#2a2a2a" stroke-width="1.1"/>
<line x1="51.40" y1="276.50" x2="56.90" y2="276.50" stroke="#2a2a2a" stroke-width="1.1"/>
<text x="48.10" y="279.60" font-size="12.5" text-anchor="end" >1.0</text>
<line x1="67.20" y1="415.40" x2="67.20" y2="420.40" stroke="#2a2a2a" stroke-width="1.1"/>
<text x="67.20" y="433.80" font-size="12.5" text-anchor="middle" >0</text>
<line x1="92.99" y1="415.40" x2="92.99" y2="418.40" stroke="#2a2a2a" stroke-width="1.1"/>
<line x1="118.78" y1="415.40" x2="118.78" y2="420.40" stroke="#2a2a2a" stroke-width="1.1"/>
<text x="118.78" y="433.80" font-size="12.5" text-anchor="middle" >50</text>
<line x1="144.56" y1="415.40" x2="144.56" y2="418.40" stroke="#2a2a2a" stroke-width="1.1"/>
<line x1="170.35" y1="415.40" x2="170.35" y2="420.40" stroke="#2a2a2a" stroke-width="1.1"/>
<text x="170.35" y="433.80" font-size="12.5" text-anchor="middle" >100</text>
<line x1="196.14" y1="415.40" x2="196.14" y2="418.40" stroke="#2a2a2a" stroke-width="1.1"/>
<line x1="221.93" y1="415.40" x2="221.93" y2="420.40" stroke="#2a2a2a" stroke-width="1.1"/>
<text x="221.93" y="433.80" font-size="12.5" text-anchor="middle" >150</text>
<line x1="247.71" y1="415.40" x2="247.71" y2="418.40" stroke="#2a2a2a" stroke-width="1.1"/>
<line x1="273.50" y1="415.40" x2="273.50" y2="420.40" stroke="#2a2a2a" stroke-width="1.1"/>
<text x="273.50" y="433.80" font-size="12.5" text-anchor="middle" >200</text>
<text x="165.20" y="456.40" font-size="12.5" text-anchor="middle" font-weight="bold" >Time delay (ps)</text>
<text x="0" y="0" font-size="12.5" font-weight="bold" text-anchor="middle" transform="translate(21.9,347.3) rotate(-90)"><tspan font-weight="normal">&#916;</tspan>A(Norm.)</text>
<text x="2.20" y="265.50" font-size="16" text-anchor="start" >(b)</text>
<rect x="387.2" y="263.6" width="218.00000000000006" height="152.89999999999998" fill="none" stroke="#262626" stroke-width="1.2"/>
<line x1="381.70" y1="404.20" x2="387.20" y2="404.20" stroke="#2a2a2a" stroke-width="1.1"/>
<text x="378.40" y="407.30" font-size="12.5" text-anchor="end" >0.0</text>
<line x1="384.20" y1="391.47" x2="387.20" y2="391.47" stroke="#2a2a2a" stroke-width="1.1"/>
<line x1="381.70" y1="378.74" x2="387.20" y2="378.74" stroke="#2a2a2a" stroke-width="1.1"/>
<text x="378.40" y="381.84" font-size="12.5" text-anchor="end" >0.2</text>
<line x1="384.20" y1="366.01" x2="387.20" y2="366.01" stroke="#2a2a2a" stroke-width="1.1"/>
<line x1="381.70" y1="353.28" x2="387.20" y2="353.28" stroke="#2a2a2a" stroke-width="1.1"/>
<text x="378.40" y="356.38" font-size="12.5" text-anchor="end" >0.4</text>
<line x1="384.20" y1="340.55" x2="387.20" y2="340.55" stroke="#2a2a2a" stroke-width="1.1"/>
<line x1="381.70" y1="327.82" x2="387.20" y2="327.82" stroke="#2a2a2a" stroke-width="1.1"/>
<text x="378.40" y="330.92" font-size="12.5" text-anchor="end" >0.6</text>
<line x1="384.20" y1="315.09" x2="387.20" y2="315.09" stroke="#2a2a2a" stroke-width="1.1"/>
<line x1="381.70" y1="302.36" x2="387.20" y2="302.36" stroke="#2a2a2a" stroke-width="1.1"/>
<text x="378.40" y="305.46" font-size="12.5" text-anchor="end" >0.8</text>
<line x1="384.20" y1="289.63" x2="387.20" y2="289.63" stroke="#2a2a2a" stroke-width="1.1"/>
<line x1="381.70" y1="276.90" x2="387.20" y2="276.90" stroke="#2a2a2a" stroke-width="1.1"/>
<text x="378.40" y="280.00" font-size="12.5" text-anchor="end" >1.0</text>
<line x1="397.40" y1="416.50" x2="397.40" y2="421.50" stroke="#2a2a2a" stroke-width="1.1"/>
<text x="397.40" y="436.20" font-size="12.5" text-anchor="middle" >0</text>
<line x1="423.35" y1="416.50" x2="423.35" y2="419.50" stroke="#2a2a2a" stroke-width="1.1"/>
<line x1="449.30" y1="416.50" x2="449.30" y2="421.50" stroke="#2a2a2a" stroke-width="1.1"/>
<text x="449.30" y="436.20" font-size="12.5" text-anchor="middle" >50</text>
<line x1="475.25" y1="416.50" x2="475.25" y2="419.50" stroke="#2a2a2a" stroke-width="1.1"/>
<line x1="501.20" y1="416.50" x2="501.20" y2="421.50" stroke="#2a2a2a" stroke-width="1.1"/>
<text x="501.20" y="436.20" font-size="12.5" text-anchor="middle" >100</text>
<line x1="527.15" y1="416.50" x2="527.15" y2="419.50" stroke="#2a2a2a" stroke-width="1.1"/>
<line x1="553.10" y1="416.50" x2="553.10" y2="421.50" stroke="#2a2a2a" stroke-width="1.1"/>
<text x="553.10" y="436.20" font-size="12.5" text-anchor="middle" >150</text>
<line x1="579.05" y1="416.50" x2="579.05" y2="419.50" stroke="#2a2a2a" stroke-width="1.1"/>
<line x1="605.00" y1="416.50" x2="605.00" y2="421.50" stroke="#2a2a2a" stroke-width="1.1"/>
<text x="605.00" y="436.20" font-size="12.5" text-anchor="middle" >200</text>
<text x="496.80" y="457.80" font-size="12.5" text-anchor="middle" font-weight="bold" >Time delay (ps)</text>
<text x="0" y="0" font-size="12.5" font-weight="bold" text-anchor="middle" transform="translate(351.8,348.5) rotate(-90)"><tspan font-weight="normal">&#916;</tspan>A(Norm.)</text>
<text x="332.60" y="265.50" font-size="16" text-anchor="start" >(d)</text>
<path d="M60.80,400.45 L61.32,402.78 L61.84,401.27 L62.35,401.77 L62.87,401.71 L63.38,401.59 L63.90,402.50 L64.41,401.60 L64.93,401.92 L65.45,399.80 L65.96,401.37 L66.48,401.66 L66.89,401.74" stroke="#111" stroke-width="1.0" fill="none" stroke-linejoin="round" />
<path d="M67.72,401.74 L67.72,276.50" stroke="#e07a86" stroke-width="1.1" fill="none" stroke-linejoin="round" />
<path d="M67.10,387.82 L67.10,343.55" stroke="#2a0808" stroke-width="1.0" fill="none" stroke-linejoin="round" />
<path d="M67.72,276.50 L68.54,280.68 L69.57,284.70 L70.60,288.58 L71.64,292.31 L72.67,295.90 L73.70,299.36 L74.73,302.69 L75.76,305.90 L76.79,308.99 L77.82,311.97 L78.86,314.83 L79.89,317.59 L80.92,320.25 L81.95,322.81 L82.98,325.27 L84.01,327.64 L85.04,329.93 L86.08,332.13 L87.11,334.25 L88.14,336.29 L89.17,338.25 L90.20,340.14 L91.23,341.97 L92.27,343.72 L93.30,345.41 L94.33,347.04 L95.36,348.60 L96.39,350.11 L97.42,351.56 L98.45,352.96 L99.49,354.31 L100.52,355.61 L101.55,356.86 L102.58,358.06 L103.61,359.22 L104.64,360.33 L105.67,361.41 L106.71,362.44 L107.74,363.44 L108.77,364.40 L109.80,365.32 L110.83,366.21 L111.86,367.07 L112.90,367.89 L113.93,368.69 L114.96,369.45 L115.99,370.19 L117.02,370.90 L118.05,371.58 L119.08,372.24 L120.12,372.87 L121.15,373.48 L122.18,374.07 L123.21,374.63 L124.24,375.18 L125.27,375.70 L126.30,376.21 L127.34,376.69 L128.37,377.16 L129.40,377.61 L130.43,378.05 L131.46,378.46 L132.49,378.87 L133.53,379.25 L134.56,379.63 L135.59,379.99 L136.62,380.33 L137.65,380.67 L138.68,380.99 L139.71,381.30 L140.75,381.60 L141.78,381.88 L142.81,382.16 L143.84,382.42 L144.87,382.68 L145.90,382.93 L146.93,383.16 L147.97,383.39 L149.00,383.61 L150.03,383.83 L151.06,384.03 L152.09,384.23 L153.12,384.42 L154.16,384.60 L155.19,384.77 L156.22,384.94 L157.25,385.10 L158.28,385.26 L159.31,385.41 L160.34,385.56 L161.38,385.70 L162.41,385.83 L163.44,385.96 L164.47,386.09 L165.50,386.21 L166.53,386.32 L167.56,386.44 L168.60,386.54 L169.63,386.65 L170.66,386.75 L171.69,386.84 L172.72,386.93 L173.75,387.02 L174.79,387.11 L175.82,387.19 L176.85,387.27 L177.88,387.35 L178.91,387.42 L179.94,387.49 L180.97,387.56 L182.01,387.63 L183.04,387.69 L184.07,387.75 L185.10,387.81 L186.13,387.87 L187.16,387.92 L188.19,387.97 L189.23,388.02 L190.26,388.07 L191.29,388.12 L192.32,388.16 L193.35,388.21 L194.38,388.25 L195.42,388.29 L196.45,388.33 L197.48,388.37 L198.51,388.40 L199.54,388.44 L200.57,388.47 L201.60,388.50 L202.64,388.53 L203.67,388.56 L204.70,388.59 L205.73,388.62 L206.76,388.65 L207.79,388.67 L208.82,388.70 L209.86,388.72 L210.89,388.74 L211.92,388.77 L212.95,388.79 L213.98,388.81 L215.01,388.83 L216.05,388.85 L217.08,388.86 L218.11,388.88 L219.14,388.90 L220.17,388.91 L221.20,388.93 L222.23,388.95 L223.27,388.96 L224.30,388.97 L225.33,388.99 L226.36,389.00 L227.39,389.01 L228.42,389.02 L229.45,389.04 L230.49,389.05 L231.52,389.06 L232.55,389.07 L233.58,389.08 L234.61,389.09 L235.64,389.10 L236.68,389.11 L237.71,389.11 L238.74,389.12 L239.77,389.13 L240.80,389.14 L241.83,389.15 L242.86,389.15 L243.90,389.16 L244.93,389.17 L245.96,389.17 L246.99,389.18 L248.02,389.19 L249.05,389.19 L250.08,389.20 L251.12,389.20 L252.15,389.21 L253.18,389.21 L254.21,389.22 L255.24,389.22 L256.27,389.22 L257.31,389.23 L258.34,389.23 L259.37,389.24 L260.40,389.24 L261.43,389.24 L262.46,389.25 L263.49,389.25 L264.53,389.25 L265.56,389.26 L266.59,389.26 L267.62,389.26 L268.65,389.27 L269.68,389.27 L270.71,389.27 L271.75,389.27 L272.78,389.28 L273.81,389.28" stroke="#dd3038" stroke-width="1.1" fill="none" stroke-linejoin="round" />
<path d="M67.82,276.50 L68.23,280.86 L68.75,283.13 L69.26,285.37 L69.78,286.91 L70.29,288.27 L70.81,290.61 L71.33,291.70 L71.84,294.25 L72.36,295.89 L72.87,296.67 L73.39,299.02 L73.90,301.36 L74.42,302.81 L74.94,303.97 L75.45,304.68 L75.97,307.63 L76.48,309.15 L77.00,309.86 L77.52,312.53 L78.03,313.60 L78.55,314.28 L79.06,315.86 L79.58,317.53 L80.09,318.51 L80.61,322.04 L81.13,320.89 L81.64,323.42 L82.16,325.11 L82.67,325.10 L83.19,326.03 L83.70,327.93 L84.22,329.48 L84.74,329.91 L85.25,331.07 L85.77,331.24 L86.28,332.73 L86.80,334.13 L87.31,334.57 L87.83,336.42 L88.35,337.87 L88.86,337.88 L89.38,338.84 L89.89,340.28 L90.41,341.56 L90.92,341.82 L91.44,344.43 L91.96,343.28 L92.47,344.26 L92.99,346.45 L93.50,346.19 L94.02,347.65 L94.53,347.35 L95.05,349.89 L95.57,349.94 L96.08,349.66 L96.60,350.11 L97.11,352.93 L97.63,352.59 L98.15,352.76 L98.66,354.03 L99.18,353.30 L99.69,355.72 L100.21,355.38 L100.72,356.90 L101.24,355.97 L101.76,357.48 L102.27,358.29 L102.79,359.73 L103.30,358.15 L103.82,359.30 L104.33,359.86 L104.85,360.16 L105.37,361.19 L105.88,362.33 L106.40,362.95 L106.91,363.45 L107.43,362.57 L107.94,364.85 L108.46,364.77 L108.98,365.07 L109.49,365.18 L110.01,365.41 L110.52,367.00 L111.04,367.74 L111.55,367.07 L112.07,366.72 L112.59,367.41 L113.10,368.16 L113.62,368.89 L114.13,368.89 L114.65,369.60 L115.16,369.31 L115.68,370.69 L116.20,370.46 L116.71,370.97 L117.23,370.90 L117.74,371.44 L118.26,370.30 L118.78,371.29 L119.29,371.61 L119.81,374.16 L120.32,373.39 L120.84,373.86 L121.35,373.44 L121.87,375.51 L122.39,373.61 L122.90,373.96 L123.42,375.73 L123.93,375.80 L124.45,375.95 L124.96,375.67 L125.48,375.55 L126.00,374.91 L126.51,376.58 L127.03,376.21 L127.54,376.83 L128.06,376.05 L128.57,376.92 L129.09,376.75 L129.61,378.51 L130.12,378.17 L130.64,378.77 L131.15,377.51 L131.67,378.25 L132.18,379.06 L132.70,379.35 L133.22,378.95 L133.73,379.89 L134.25,380.22 L134.76,379.51 L135.28,378.43 L135.79,380.32 L136.31,380.69 L136.83,381.24 L137.34,381.51 L137.86,380.50 L138.37,380.45 L138.89,381.14 L139.41,381.09 L139.92,381.37 L140.44,381.51 L140.95,382.71 L141.47,382.17 L141.98,381.95 L142.50,382.65 L143.02,382.59 L143.53,382.94 L144.05,382.76 L144.56,382.14 L145.08,383.06 L145.59,383.02 L146.11,382.53 L146.63,382.76 L147.14,382.21 L147.66,384.72 L148.17,382.96 L148.69,383.92 L149.20,383.63 L149.72,383.30 L150.24,383.24 L150.75,383.37 L151.27,384.03 L151.78,383.21 L152.30,384.50 L152.81,384.50 L153.33,384.00 L153.85,384.95 L154.36,383.32 L154.88,384.13 L155.39,383.48 L155.91,384.96 L156.42,385.27 L156.94,385.00 L157.46,384.72 L157.97,385.63 L158.49,385.10 L159.00,385.42 L159.52,384.46 L160.04,385.98 L160.55,384.97 L161.07,386.11 L161.58,386.37 L162.10,386.28 L162.61,386.65 L163.13,385.87 L163.65,385.37 L164.16,385.98 L164.68,385.75 L165.19,385.18 L165.71,386.10 L166.22,386.20 L166.74,386.55 L167.26,387.45 L167.77,386.01 L168.29,387.65 L168.80,386.18 L169.32,386.66 L169.83,385.98 L170.35,386.79 L170.87,387.32 L171.38,386.62 L171.90,387.24 L172.41,387.05 L172.93,386.95 L173.44,387.11 L173.96,387.19 L174.48,387.64 L174.99,387.27 L175.51,388.54 L176.02,387.33 L176.54,388.03 L177.05,386.60 L177.57,386.54 L178.09,388.62 L178.60,387.33 L179.12,387.54 L179.63,388.15 L180.15,387.19 L180.67,387.85 L181.18,388.71 L181.70,387.80 L182.21,387.75 L182.73,387.62 L183.24,388.50 L183.76,387.36 L184.28,387.32 L184.79,388.53 L185.31,388.26 L185.82,387.92 L186.34,388.25 L186.85,386.82 L187.37,387.82 L187.89,388.61 L188.40,388.50 L188.92,388.06 L189.43,386.60 L189.95,388.19 L190.46,388.02 L190.98,387.79 L191.50,388.17 L192.01,386.72 L192.53,388.52 L193.04,387.74 L193.56,388.13 L194.07,387.86 L194.59,389.01 L195.11,387.17 L195.62,388.39 L196.14,388.31 L196.65,388.94 L197.17,388.83 L197.68,388.03 L198.20,387.78 L198.72,387.94 L199.23,387.67 L199.75,388.00 L200.26,388.45 L200.78,387.96 L201.30,388.13 L201.81,388.58 L202.33,388.07 L202.84,387.74 L203.36,388.41 L203.87,388.80 L204.39,388.14 L204.91,387.40 L205.42,388.75 L205.94,388.69 L206.45,388.73 L206.97,387.89 L207.48,389.83 L208.00,388.45 L208.52,387.94 L209.03,389.22 L209.55,387.78 L210.06,388.39 L210.58,389.09 L211.09,388.63 L211.61,389.74 L212.13,389.13 L212.64,387.63 L213.16,389.36 L213.67,387.64 L214.19,388.87 L214.70,388.20 L215.22,388.81 L215.74,390.26 L216.25,389.22 L216.77,388.74 L217.28,389.60 L217.80,389.73 L218.31,388.66 L218.83,389.31 L219.35,389.98 L219.86,389.35 L220.38,388.38 L220.89,389.23 L221.41,388.35 L221.93,387.98 L222.44,388.93 L222.96,389.67 L223.47,389.79 L223.99,388.99 L224.50,388.42 L225.02,388.82 L225.54,388.65 L226.05,389.28 L226.57,388.82 L227.08,389.31 L227.60,389.22 L228.11,389.84 L228.63,390.03 L229.15,389.34 L229.66,389.74 L230.18,389.65 L230.69,388.63 L231.21,389.13 L231.72,387.22 L232.24,388.48 L232.76,389.47 L233.27,388.59 L233.79,388.86 L234.30,389.52 L234.82,388.40 L235.33,389.59 L235.85,391.04 L236.37,388.60 L236.88,389.50 L237.40,388.18 L237.91,389.53 L238.43,389.87 L238.94,388.15 L239.46,389.81 L239.98,389.01 L240.49,388.22 L241.01,389.07 L241.52,389.20 L242.04,389.09 L242.56,388.62 L243.07,389.67 L243.59,388.77 L244.10,388.80 L244.62,387.69 L245.13,389.38 L245.65,389.75 L246.17,388.71 L246.68,389.43 L247.20,389.00 L247.71,389.10 L248.23,388.45 L248.74,389.61 L249.26,389.25 L249.78,390.81 L250.29,389.76 L250.81,388.23 L251.32,389.64 L251.84,389.65 L252.35,389.98 L252.87,388.84 L253.39,389.10 L253.90,389.97 L254.42,388.80 L254.93,389.06 L255.45,388.75 L255.96,389.63 L256.48,388.13 L257.00,388.97 L257.51,389.31 L258.03,389.56 L258.54,389.39 L259.06,388.69 L259.57,389.41 L260.09,388.56 L260.61,388.88 L261.12,388.39 L261.64,388.73 L262.15,389.29 L262.67,390.46 L263.19,389.06 L263.70,388.75 L264.22,389.15 L264.73,388.90 L265.25,389.56 L265.76,389.50 L266.28,389.86 L266.80,388.40 L267.31,389.16 L267.83,389.58 L268.34,390.11 L268.86,389.36 L269.37,388.36 L269.89,388.98 L270.41,389.73 L270.92,388.37 L271.44,388.37 L271.95,388.65 L272.47,388.78 L272.98,388.55 L273.50,388.93" stroke="#111" stroke-width="0.9" fill="none" stroke-linejoin="round" stroke-opacity="0.85"/>
<text x="115.00" y="330.70" font-size="13.5" text-anchor="start" >~26.5 ps</text>
<path d="M390.13,402.67 L390.65,402.56 L391.17,402.78 L391.69,403.01 L392.21,402.85 L392.73,403.05 L393.25,402.65 L393.77,402.16 L394.29,402.86 L394.80,402.91 L395.32,402.49 L395.84,402.54 L396.36,402.63 L396.88,403.03 L397.35,402.67" stroke="#3a0a0a" stroke-width="1.8" fill="none" stroke-linejoin="round" />
<path d="M397.35,402.67 L397.66,275.63 L398.18,346.91 L398.75,355.83" stroke="#e07080" stroke-width="1.3" fill="none" stroke-linejoin="round" />
<path d="M397.35,402.67 L397.45,366.01 L397.76,308.73 L398.33,350.73 L398.85,357.65" stroke="#300808" stroke-width="1.0" fill="none" stroke-linejoin="round" stroke-opacity="0.8"/>
<path d="M398.85,357.65 L399.22,356.93 L399.58,360.60 L399.94,359.61 L400.31,362.36 L400.67,361.80 L401.03,363.12 L401.40,360.89 L401.76,363.00 L402.12,360.83 L402.49,361.40 L402.85,362.36 L403.21,366.71 L403.58,363.71 L403.94,363.23 L404.30,363.31 L404.67,366.54 L405.03,365.05 L405.39,366.29 L405.76,366.34 L406.12,363.33 L406.48,367.03 L406.85,365.96 L407.21,364.61 L407.57,367.62 L407.94,367.07 L408.30,366.97 L408.66,367.36 L409.03,370.09 L409.39,367.94 L409.75,365.79 L410.12,371.64 L410.48,367.31 L410.84,369.02 L411.21,370.78 L411.57,365.89 L411.93,368.58 L412.30,372.74 L412.66,370.48 L413.02,369.73 L413.39,371.53 L413.75,370.02 L414.11,371.80 L414.48,370.55 L414.84,369.20 L415.20,373.81 L415.56,372.23 L415.93,373.86 L416.29,372.86 L416.65,375.87 L417.02,374.82 L417.38,374.23 L417.74,372.11 L418.11,371.78 L418.47,377.36 L418.83,376.43 L419.20,373.49 L419.56,379.51 L419.92,376.35 L420.29,375.75 L420.65,372.92 L421.01,374.38 L421.38,376.87 L421.74,377.16 L422.10,377.09 L422.47,373.21 L422.83,377.88 L423.19,377.78 L423.56,376.44 L423.92,377.72 L424.28,378.08 L424.65,380.43 L425.01,378.00 L425.37,379.20 L425.74,375.51 L426.10,376.90 L426.46,378.70 L426.83,377.18 L427.19,379.79 L427.55,376.54 L427.92,379.29 L428.28,377.99 L428.64,382.80 L429.01,378.87 L429.37,384.12 L429.73,385.16 L430.10,380.95 L430.46,382.61 L430.82,380.05 L431.19,374.85 L431.55,382.88 L431.91,382.49 L432.28,380.48 L432.64,379.86 L433.00,381.74 L433.37,381.95 L433.73,379.68 L434.09,380.28 L434.46,384.54 L434.82,382.12 L435.18,381.93 L435.55,384.99 L435.91,381.56 L436.27,384.72 L436.64,379.84 L437.00,382.08 L437.36,382.48 L437.73,384.47 L438.09,383.27 L438.45,388.62 L438.82,386.33 L439.18,382.25 L439.54,389.33 L439.91,381.10 L440.27,388.46 L440.63,381.56 L441.00,386.14 L441.36,381.69 L441.72,383.60 L442.09,388.37 L442.45,380.66 L442.81,380.21 L443.18,384.53 L443.54,385.20 L443.90,384.97 L444.27,387.34 L444.63,381.62 L444.99,386.30 L445.36,385.01 L445.72,387.17 L446.08,386.79 L446.45,388.69 L446.81,381.68 L447.17,385.71 L447.54,382.65 L447.90,385.39 L448.26,387.45 L448.63,386.50 L448.99,387.23 L449.35,385.71 L449.72,386.86 L450.08,386.72 L450.44,389.81 L450.81,388.28 L451.17,381.46 L451.53,388.04 L451.89,389.18 L452.26,385.35 L452.62,382.41 L452.98,390.49 L453.35,387.07 L453.71,388.32 L454.07,391.54 L454.44,384.61 L454.80,386.80 L455.16,386.59 L455.53,388.96 L455.89,385.64 L456.25,388.48 L456.62,387.43 L456.98,390.19 L457.34,390.54 L457.71,383.45 L458.07,388.67 L458.43,386.48 L458.80,387.45 L459.16,388.64 L459.52,388.88 L459.89,385.74 L460.25,388.40 L460.61,388.03 L460.98,387.60 L461.34,384.41 L461.70,385.85 L462.07,386.73 L462.43,389.43 L462.79,391.76 L463.16,385.28 L463.52,385.28 L463.88,388.42 L464.25,386.55 L464.61,385.93 L464.97,385.83 L465.34,385.62 L465.70,389.52 L466.06,384.04 L466.43,391.81 L466.79,385.95 L467.15,387.02 L467.52,385.99 L467.88,383.22 L468.24,384.36 L468.61,391.76 L468.97,393.32 L469.33,386.34 L469.70,391.51 L470.06,388.73 L470.42,386.38 L470.79,393.37 L471.15,394.71 L471.51,388.11 L471.88,388.75 L472.24,389.59 L472.60,388.83 L472.97,391.38 L473.33,393.24 L473.69,389.50 L474.06,391.78 L474.42,393.70 L474.78,387.71 L475.15,389.33 L475.51,388.04 L475.87,391.98 L476.24,391.08 L476.60,392.07 L476.96,391.78 L477.33,388.78 L477.69,391.54 L478.05,388.38 L478.42,388.45 L478.78,383.76 L479.14,393.36 L479.51,387.00 L479.87,389.76 L480.23,389.57 L480.60,393.62 L480.96,390.87 L481.32,387.52 L481.69,389.86 L482.05,389.43 L482.41,390.49 L482.78,386.47 L483.14,389.78 L483.50,395.91 L483.87,391.70 L484.23,395.30 L484.59,398.91 L484.96,391.31 L485.32,386.12 L485.68,389.74 L486.05,393.17 L486.41,392.55 L486.77,386.76 L487.14,389.51 L487.50,389.84 L487.86,390.14 L488.23,389.90 L488.59,387.77 L488.95,388.50 L489.31,389.46 L489.68,393.00 L490.04,388.67 L490.40,392.03 L490.77,387.07 L491.13,393.71 L491.49,390.55 L491.86,390.20 L492.22,393.91 L492.58,385.39 L492.95,386.14 L493.31,391.55 L493.67,388.10 L494.04,389.22 L494.40,397.61 L494.76,389.61 L495.13,390.49 L495.49,390.10 L495.85,393.37 L496.22,391.12 L496.58,390.88 L496.94,387.07 L497.31,389.47 L497.67,390.44 L498.03,386.15 L498.40,392.00 L498.76,391.55 L499.12,395.56 L499.49,386.09 L499.85,387.80 L500.21,387.94 L500.58,388.65 L500.94,390.23 L501.30,389.94 L501.67,391.26 L502.03,391.14 L502.39,390.43 L502.76,386.36 L503.12,389.05 L503.48,390.78 L503.85,392.25 L504.21,392.41 L504.57,386.16 L504.94,389.24 L505.30,390.48 L505.66,391.65 L506.03,393.79 L506.39,390.89 L506.75,388.26 L507.12,391.82 L507.48,391.36 L507.84,391.36 L508.21,390.44 L508.57,395.22 L508.93,391.42 L509.30,393.17 L509.66,388.30 L510.02,392.95 L510.39,389.18 L510.75,386.54 L511.11,391.69 L511.48,392.51 L511.84,390.30 L512.20,390.85 L512.57,393.63 L512.93,389.57 L513.29,385.22 L513.66,391.59 L514.02,391.45 L514.38,393.81 L514.75,390.00 L515.11,394.39 L515.47,394.01 L515.84,387.33 L516.20,393.46 L516.56,387.90 L516.93,386.67 L517.29,390.22 L517.65,389.40 L518.02,385.49 L518.38,391.51 L518.74,392.63 L519.11,394.77 L519.47,390.87 L519.83,386.85 L520.20,388.31 L520.56,393.64 L520.92,393.40 L521.29,392.42 L521.65,390.20 L522.01,391.60 L522.38,390.43 L522.74,390.20 L523.10,391.88 L523.47,391.16 L523.83,390.47 L524.19,391.29 L524.56,389.65 L524.92,385.83 L525.28,389.41 L525.64,390.92 L526.01,395.80 L526.37,390.00 L526.73,396.54 L527.10,395.04 L527.46,388.71 L527.82,389.13 L528.19,391.53 L528.55,395.90 L528.91,392.16 L529.28,393.03 L529.64,389.35 L530.00,384.81 L530.37,390.53 L530.73,393.32 L531.09,394.42 L531.46,391.31 L531.82,391.65 L532.18,394.38 L532.55,390.84 L532.91,394.39 L533.27,388.06 L533.64,388.20 L534.00,388.14 L534.36,392.51 L534.73,389.74 L535.09,391.56 L535.45,392.28 L535.82,392.15 L536.18,394.84 L536.54,395.25 L536.91,388.98 L537.27,391.74 L537.63,390.61 L538.00,388.41 L538.36,396.07 L538.72,393.42 L539.09,390.73 L539.45,390.13 L539.81,392.29 L540.18,388.35 L540.54,390.65 L540.90,394.64 L541.27,393.85 L541.63,388.99 L541.99,389.95 L542.36,396.57 L542.72,387.48 L543.08,389.58 L543.45,387.50 L543.81,392.34 L544.17,392.09 L544.54,394.42 L544.90,384.17 L545.26,391.76 L545.63,386.83 L545.99,393.09 L546.35,390.82 L546.72,395.96 L547.08,392.36 L547.44,388.53 L547.81,394.80 L548.17,388.29 L548.53,390.35 L548.90,394.22 L549.26,392.70 L549.62,392.59 L549.99,391.44 L550.35,392.81 L550.71,393.62 L551.08,392.16 L551.44,394.19 L551.80,394.93 L552.17,391.45 L552.53,388.84 L552.89,395.60 L553.26,391.31 L553.62,393.14 L553.98,394.06 L554.35,388.94 L554.71,392.78 L555.07,387.13 L555.44,393.52 L555.80,390.25 L556.16,391.97 L556.53,393.45 L556.89,389.69 L557.25,391.77 L557.62,389.65 L557.98,391.48 L558.34,394.39 L558.71,391.63 L559.07,391.20 L559.43,388.67 L559.80,393.89 L560.16,391.46 L560.52,396.18 L560.88,389.53 L561.25,394.39 L561.61,396.42 L561.97,391.53 L562.34,388.27 L562.70,395.63 L563.06,394.41 L563.43,393.45 L563.79,394.53 L564.15,390.31 L564.52,393.63 L564.88,393.39 L565.24,389.74 L565.61,393.49 L565.97,390.16 L566.33,394.10 L566.70,394.77 L567.06,396.52 L567.42,386.17 L567.79,392.28 L568.15,390.70 L568.51,391.47 L568.88,390.94 L569.24,391.25 L569.60,386.04 L569.97,394.30 L570.33,395.75 L570.69,394.22 L571.06,395.13 L571.42,389.30 L571.78,389.09 L572.15,394.09 L572.51,395.29 L572.87,392.39 L573.24,387.50 L573.60,399.29 L573.96,389.92 L574.33,394.41 L574.69,388.49 L575.05,394.42 L575.42,392.20 L575.78,395.62 L576.14,394.14 L576.51,387.52 L576.87,389.11 L577.23,392.53 L577.60,393.84 L577.96,396.71 L578.32,392.51 L578.69,391.50 L579.05,391.65 L579.41,391.67 L579.78,394.55 L580.14,391.60 L580.50,391.52 L580.87,387.80 L581.23,386.19 L581.59,391.80 L581.96,393.56 L582.32,391.60 L582.68,393.12 L583.05,393.50 L583.41,391.58 L583.77,394.34 L584.14,389.72 L584.50,391.71 L584.86,390.72 L585.23,391.93 L585.59,393.46 L585.95,394.08 L586.32,392.09 L586.68,392.96 L587.04,390.77 L587.41,391.44 L587.77,395.24 L588.13,391.24 L588.50,395.19 L588.86,393.15 L589.22,392.25 L589.59,397.24 L589.95,391.17 L590.31,391.01 L590.68,391.87 L591.04,392.62 L591.40,392.48 L591.77,394.17 L592.13,392.19 L592.49,392.98 L592.86,391.18 L593.22,394.81 L593.58,390.77 L593.95,391.03 L594.31,391.83 L594.67,392.67 L595.04,389.89 L595.40,396.10 L595.76,390.15 L596.13,390.76 L596.49,390.64 L596.85,390.36 L597.22,393.27 L597.58,392.17 L597.94,389.65 L598.30,390.23 L598.67,390.86 L599.03,395.68 L599.39,389.93 L599.76,388.17 L600.12,388.61 L600.48,390.79 L600.85,395.80 L601.21,388.80 L601.57,391.86 L601.94,398.54 L602.30,390.39 L602.66,395.62 L603.03,395.07 L603.39,393.22 L603.75,387.88 L604.12,392.48 L604.48,390.69 L604.84,386.55" stroke="#111" stroke-width="0.8" fill="none" stroke-linejoin="round" />
<path d="M398.75,355.83 L399.48,358.34 L400.51,359.52 L401.55,360.67 L402.59,361.77 L403.63,362.84 L404.67,363.86 L405.70,364.85 L406.74,365.81 L407.78,366.73 L408.82,367.61 L409.86,368.47 L410.89,369.29 L411.93,370.09 L412.97,370.85 L414.01,371.59 L415.05,372.30 L416.08,372.99 L417.12,373.65 L418.16,374.29 L419.20,374.91 L420.24,375.50 L421.27,376.07 L422.31,376.62 L423.35,377.16 L424.39,377.67 L425.43,378.16 L426.46,378.64 L427.50,379.10 L428.54,379.54 L429.58,379.97 L430.62,380.38 L431.65,380.78 L432.69,381.16 L433.73,381.53 L434.77,381.89 L435.81,382.23 L436.84,382.56 L437.88,382.88 L438.92,383.19 L439.96,383.49 L441.00,383.77 L442.03,384.05 L443.07,384.32 L444.11,384.57 L445.15,384.82 L446.19,385.06 L447.22,385.29 L448.26,385.51 L449.30,385.72 L450.34,385.93 L451.38,386.13 L452.41,386.32 L453.45,386.50 L454.49,386.68 L455.53,386.85 L456.57,387.02 L457.60,387.18 L458.64,387.33 L459.68,387.48 L460.72,387.62 L461.76,387.76 L462.79,387.89 L463.83,388.02 L464.87,388.15 L465.91,388.26 L466.95,388.38 L467.98,388.49 L469.02,388.60 L470.06,388.70 L471.10,388.80 L472.14,388.90 L473.17,388.99 L474.21,389.08 L475.25,389.16 L476.29,389.24 L477.33,389.32 L478.36,389.40 L479.40,389.48 L480.44,389.55 L481.48,389.62 L482.52,389.68 L483.55,389.75 L484.59,389.81 L485.63,389.87 L486.67,389.93 L487.71,389.98 L488.74,390.03 L489.78,390.09 L490.82,390.14 L491.86,390.18 L492.90,390.23 L493.93,390.27 L494.97,390.32 L496.01,390.36 L497.05,390.40 L498.09,390.44 L499.12,390.47 L500.16,390.51 L501.20,390.54 L502.24,390.58 L503.28,390.61 L504.31,390.64 L505.35,390.67 L506.39,390.70 L507.43,390.73 L508.47,390.75 L509.50,390.78 L510.54,390.80 L511.58,390.83 L512.62,390.85 L513.66,390.87 L514.69,390.89 L515.73,390.91 L516.77,390.93 L517.81,390.95 L518.85,390.97 L519.88,390.99 L520.92,391.01 L521.96,391.02 L523.00,391.04 L524.04,391.05 L525.07,391.07 L526.11,391.08 L527.15,391.10 L528.19,391.11 L529.23,391.12 L530.26,391.14 L531.30,391.15 L532.34,391.16 L533.38,391.17 L534.42,391.18 L535.45,391.19 L536.49,391.20 L537.53,391.21 L538.57,391.22 L539.61,391.23 L540.64,391.24 L541.68,391.25 L542.72,391.25 L543.76,391.26 L544.80,391.27 L545.83,391.28 L546.87,391.28 L547.91,391.29 L548.95,391.30 L549.99,391.30 L551.02,391.31 L552.06,391.32 L553.10,391.32 L554.14,391.33 L555.18,391.33 L556.21,391.34 L557.25,391.34 L558.29,391.35 L559.33,391.35 L560.37,391.35 L561.40,391.36 L562.44,391.36 L563.48,391.37 L564.52,391.37 L565.56,391.37 L566.59,391.38 L567.63,391.38 L568.67,391.38 L569.71,391.39 L570.75,391.39 L571.78,391.39 L572.82,391.40 L573.86,391.40 L574.90,391.40 L575.94,391.40 L576.97,391.41 L578.01,391.41 L579.05,391.41 L580.09,391.41 L581.13,391.41 L582.16,391.42 L583.20,391.42 L584.24,391.42 L585.28,391.42 L586.32,391.42 L587.35,391.43 L588.39,391.43 L589.43,391.43 L590.47,391.43 L591.51,391.43 L592.54,391.43 L593.58,391.43 L594.62,391.44 L595.66,391.44 L596.70,391.44 L597.73,391.44 L598.77,391.44 L599.81,391.44 L600.85,391.44 L601.89,391.44 L602.92,391.44 L603.96,391.45 L605.00,391.45" stroke="#d42020" stroke-width="1.2" fill="none" stroke-linejoin="round" />
<rect x="465.7" y="266.3" width="134.3" height="99.19999999999999" fill="#fff"/>
<rect x="466.7" y="267.3" width="132.3" height="97.19999999999999" fill="none" stroke="#6a6a6a" stroke-width="1.1"/>
<line x1="472.80" y1="364.50" x2="472.80" y2="367.00" stroke="#555" stroke-width="0.9"/>
<text x="472.80" y="374.60" font-size="8" text-anchor="middle" fill="#333">0</text>
<line x1="485.42" y1="364.50" x2="485.42" y2="366.00" stroke="#555" stroke-width="0.9"/>
<line x1="498.04" y1="364.50" x2="498.04" y2="367.00" stroke="#555" stroke-width="0.9"/>
<text x="498.04" y="374.60" font-size="8" text-anchor="middle" fill="#333">2</text>
<line x1="510.66" y1="364.50" x2="510.66" y2="366.00" stroke="#555" stroke-width="0.9"/>
<line x1="523.28" y1="364.50" x2="523.28" y2="367.00" stroke="#555" stroke-width="0.9"/>
<text x="523.28" y="374.60" font-size="8" text-anchor="middle" fill="#333">4</text>
<line x1="535.90" y1="364.50" x2="535.90" y2="366.00" stroke="#555" stroke-width="0.9"/>
<line x1="548.52" y1="364.50" x2="548.52" y2="367.00" stroke="#555" stroke-width="0.9"/>
<text x="548.52" y="374.60" font-size="8" text-anchor="middle" fill="#333">6</text>
<line x1="561.14" y1="364.50" x2="561.14" y2="366.00" stroke="#555" stroke-width="0.9"/>
<line x1="573.76" y1="364.50" x2="573.76" y2="367.00" stroke="#555" stroke-width="0.9"/>
<text x="573.76" y="374.60" font-size="8" text-anchor="middle" fill="#333">8</text>
<line x1="586.38" y1="364.50" x2="586.38" y2="366.00" stroke="#555" stroke-width="0.9"/>
<line x1="599.00" y1="364.50" x2="599.00" y2="367.00" stroke="#555" stroke-width="0.9"/>
<text x="599.00" y="374.60" font-size="8" text-anchor="middle" fill="#333">10</text>
<line x1="466.70" y1="276.00" x2="468.50" y2="276.00" stroke="#666" stroke-width="0.9"/>
<line x1="466.70" y1="284.00" x2="468.50" y2="284.00" stroke="#666" stroke-width="0.9"/>
<line x1="466.70" y1="292.00" x2="468.50" y2="292.00" stroke="#666" stroke-width="0.9"/>
<line x1="466.70" y1="300.00" x2="468.50" y2="300.00" stroke="#666" stroke-width="0.9"/>
<line x1="466.70" y1="308.00" x2="468.50" y2="308.00" stroke="#666" stroke-width="0.9"/>
<line x1="466.70" y1="316.00" x2="468.50" y2="316.00" stroke="#666" stroke-width="0.9"/>
<line x1="466.70" y1="324.00" x2="468.50" y2="324.00" stroke="#666" stroke-width="0.9"/>
<line x1="466.70" y1="332.00" x2="468.50" y2="332.00" stroke="#666" stroke-width="0.9"/>
<line x1="466.70" y1="340.00" x2="468.50" y2="340.00" stroke="#666" stroke-width="0.9"/>
<line x1="466.70" y1="348.00" x2="468.50" y2="348.00" stroke="#666" stroke-width="0.9"/>
<line x1="466.70" y1="356.00" x2="468.50" y2="356.00" stroke="#666" stroke-width="0.9"/>
<g fill="none" stroke="#2e2e2e" stroke-width="0.9"><circle cx="467.12" cy="353.45" r="1.7"/><circle cx="469.01" cy="355.10" r="1.7"/><circle cx="470.91" cy="355.23" r="1.7"/><circle cx="472.80" cy="356.23" r="1.7"/><circle cx="473.68" cy="344.50" r="1.7"/><circle cx="474.57" cy="318.13" r="1.7"/><circle cx="475.45" cy="291.11" r="1.7"/><circle cx="476.33" cy="274.92" r="1.7"/><circle cx="477.22" cy="280.13" r="1.7"/><circle cx="478.10" cy="289.93" r="1.7"/><circle cx="478.98" cy="295.86" r="1.7"/><circle cx="479.87" cy="300.53" r="1.7"/><circle cx="480.75" cy="305.14" r="1.7"/><circle cx="481.63" cy="308.33" r="1.7"/><circle cx="482.52" cy="311.99" r="1.7"/><circle cx="483.40" cy="315.15" r="1.7"/><circle cx="484.28" cy="316.54" r="1.7"/><circle cx="485.17" cy="319.54" r="1.7"/><circle cx="486.05" cy="321.55" r="1.7"/><circle cx="486.93" cy="320.54" r="1.7"/><circle cx="487.82" cy="322.10" r="1.7"/><circle cx="488.70" cy="322.53" r="1.7"/><circle cx="489.58" cy="325.14" r="1.7"/><circle cx="490.47" cy="324.39" r="1.7"/><circle cx="491.35" cy="325.08" r="1.7"/><circle cx="491.73" cy="325.51" r="1.7"/><circle cx="493.75" cy="327.60" r="1.7"/><circle cx="495.77" cy="326.25" r="1.7"/><circle cx="497.79" cy="325.43" r="1.7"/><circle cx="499.81" cy="326.22" r="1.7"/><circle cx="501.83" cy="327.41" r="1.7"/><circle cx="503.85" cy="327.03" r="1.7"/><circle cx="505.86" cy="326.45" r="1.7"/><circle cx="507.88" cy="330.02" r="1.7"/><circle cx="509.90" cy="327.61" r="1.7"/><circle cx="511.92" cy="327.10" r="1.7"/><circle cx="513.94" cy="327.10" r="1.7"/><circle cx="515.96" cy="326.24" r="1.7"/><circle cx="517.98" cy="326.92" r="1.7"/><circle cx="520.00" cy="327.85" r="1.7"/><circle cx="522.02" cy="327.98" r="1.7"/><circle cx="524.04" cy="327.64" r="1.7"/><circle cx="526.06" cy="329.05" r="1.7"/><circle cx="528.08" cy="328.69" r="1.7"/><circle cx="530.09" cy="327.90" r="1.7"/><circle cx="532.11" cy="327.00" r="1.7"/><circle cx="534.13" cy="329.18" r="1.7"/><circle cx="536.15" cy="329.19" r="1.7"/><circle cx="538.17" cy="329.07" r="1.7"/><circle cx="540.19" cy="328.08" r="1.7"/><circle cx="542.21" cy="329.54" r="1.7"/><circle cx="544.23" cy="328.20" r="1.7"/><circle cx="546.25" cy="330.68" r="1.7"/><circle cx="548.27" cy="330.04" r="1.7"/><circle cx="550.29" cy="330.17" r="1.7"/><circle cx="552.31" cy="329.33" r="1.7"/><circle cx="554.33" cy="329.20" r="1.7"/><circle cx="556.34" cy="331.80" r="1.7"/><circle cx="558.36" cy="331.34" r="1.7"/><circle cx="560.38" cy="330.24" r="1.7"/><circle cx="562.40" cy="331.32" r="1.7"/><circle cx="564.42" cy="332.27" r="1.7"/><circle cx="566.44" cy="329.90" r="1.7"/><circle cx="568.46" cy="330.54" r="1.7"/><circle cx="570.48" cy="330.65" r="1.7"/><circle cx="572.50" cy="331.71" r="1.7"/><circle cx="574.52" cy="330.36" r="1.7"/><circle cx="576.54" cy="331.70" r="1.7"/><circle cx="578.56" cy="330.51" r="1.7"/><circle cx="580.57" cy="332.57" r="1.7"/><circle cx="582.59" cy="332.63" r="1.7"/><circle cx="584.61" cy="331.71" r="1.7"/><circle cx="586.63" cy="332.70" r="1.7"/><circle cx="588.65" cy="331.46" r="1.7"/><circle cx="590.67" cy="331.98" r="1.7"/><circle cx="592.69" cy="333.23" r="1.7"/><circle cx="594.71" cy="332.37" r="1.7"/><circle cx="596.73" cy="332.89" r="1.7"/><circle cx="598.75" cy="331.76" r="1.7"/></g>
<path d="M466.74,355.00 L467.12,355.00 L467.50,355.00 L467.88,355.00 L468.26,355.00 L468.64,355.00 L469.01,355.00 L469.39,355.00 L469.77,355.00 L470.15,355.00 L470.53,355.00 L470.91,355.00 L471.29,355.00 L471.66,355.00 L472.04,355.00 L472.42,355.00 L472.80,355.00 L473.18,352.73 L473.56,346.58 L473.94,337.50 L474.31,326.49 L474.69,314.50 L475.07,302.51 L475.45,291.50 L475.83,282.42 L476.21,276.27 L476.59,274.26 L476.96,278.48 L477.34,282.35 L477.72,285.91 L478.10,289.18 L478.48,292.18 L478.86,294.94 L479.24,297.47 L479.61,299.80 L479.99,301.93 L480.37,303.90 L480.75,305.70 L481.13,307.36 L481.51,308.89 L481.89,310.29 L482.27,311.58 L482.64,312.76 L483.02,313.85 L483.40,314.85 L483.78,315.77 L484.16,316.62 L484.54,317.40 L484.92,318.12 L485.29,318.78 L485.67,319.39 L486.05,319.95 L486.43,320.47 L486.81,320.95 L487.19,321.39 L487.57,321.79 L487.94,322.17 L488.32,322.52 L488.70,322.83 L489.08,323.13 L489.46,323.40 L489.84,323.66 L490.22,323.89 L490.59,324.11 L490.97,324.31 L491.35,324.49 L491.73,324.67 L492.11,324.83 L492.49,324.98 L492.87,325.12 L493.24,325.25 L493.62,325.37 L494.00,325.49 L494.38,325.59 L494.76,325.69 L495.14,325.79 L495.52,325.87 L495.89,325.96 L496.27,326.03 L496.65,326.11 L497.03,326.18 L497.41,326.24 L497.79,326.31 L498.17,326.36 L498.54,326.42 L498.92,326.48 L499.30,326.53 L499.68,326.58 L500.06,326.62 L500.44,326.67 L500.82,326.71 L501.20,326.75 L501.57,326.80 L501.95,326.83 L502.33,326.87 L502.71,326.91 L503.09,326.95 L503.47,326.98 L503.85,327.02 L504.22,327.05 L504.60,327.08 L504.98,327.11 L505.36,327.14 L505.74,327.18 L506.12,327.21 L506.50,327.24 L506.87,327.26 L507.25,327.29 L507.63,327.32 L508.01,327.35 L508.39,327.38 L508.77,327.40 L509.15,327.43 L509.52,327.46 L509.90,327.49 L510.28,327.51 L510.66,327.54 L511.04,327.56 L511.42,327.59 L511.80,327.62 L512.17,327.64 L512.55,327.67 L512.93,327.69 L513.31,327.72 L513.69,327.74 L514.07,327.77 L514.45,327.79 L514.82,327.82 L515.20,327.84 L515.58,327.87 L515.96,327.89 L516.34,327.92 L516.72,327.94 L517.10,327.96 L517.47,327.99 L517.85,328.01 L518.23,328.04 L518.61,328.06 L518.99,328.09 L519.37,328.11 L519.75,328.13 L520.12,328.16 L520.50,328.18 L520.88,328.20 L521.26,328.23 L521.64,328.25 L522.02,328.28 L522.40,328.30 L522.78,328.32 L523.15,328.35 L523.53,328.37 L523.91,328.39 L524.29,328.42 L524.67,328.44 L525.05,328.46 L525.43,328.49 L525.80,328.51 L526.18,328.54 L526.56,328.56 L526.94,328.58 L527.32,328.61 L527.70,328.63 L528.08,328.65 L528.45,328.68 L528.83,328.70 L529.21,328.72 L529.59,328.75 L529.97,328.77 L530.35,328.79 L530.73,328.81 L531.10,328.84 L531.48,328.86 L531.86,328.88 L532.24,328.91 L532.62,328.93 L533.00,328.95 L533.38,328.98 L533.75,329.00 L534.13,329.02 L534.51,329.04 L534.89,329.07 L535.27,329.09 L535.65,329.11 L536.03,329.14 L536.40,329.16 L536.78,329.18 L537.16,329.20 L537.54,329.23 L537.92,329.25 L538.30,329.27 L538.68,329.30 L539.06,329.32 L539.43,329.34 L539.81,329.36 L540.19,329.39 L540.57,329.41 L540.95,329.43 L541.33,329.45 L541.71,329.48 L542.08,329.50 L542.46,329.52 L542.84,329.54 L543.22,329.57 L543.60,329.59 L543.98,329.61 L544.36,329.63 L544.73,329.66 L545.11,329.68 L545.49,329.70 L545.87,329.72 L546.25,329.75 L546.63,329.77 L547.01,329.79 L547.38,329.81 L547.76,329.83 L548.14,329.86 L548.52,329.88 L548.90,329.90 L549.28,329.92 L549.66,329.94 L550.03,329.97 L550.41,329.99 L550.79,330.01 L551.17,330.03 L551.55,330.06 L551.93,330.08 L552.31,330.10 L552.68,330.12 L553.06,330.14 L553.44,330.16 L553.82,330.19 L554.20,330.21 L554.58,330.23 L554.96,330.25 L555.33,330.27 L555.71,330.30 L556.09,330.32 L556.47,330.34 L556.85,330.36 L557.23,330.38 L557.61,330.40 L557.99,330.43 L558.36,330.45 L558.74,330.47 L559.12,330.49 L559.50,330.51 L559.88,330.53 L560.26,330.56 L560.64,330.58 L561.01,330.60 L561.39,330.62 L561.77,330.64 L562.15,330.66 L562.53,330.69 L562.91,330.71 L563.29,330.73 L563.66,330.75 L564.04,330.77 L564.42,330.79 L564.80,330.81 L565.18,330.84 L565.56,330.86 L565.94,330.88 L566.31,330.90 L566.69,330.92 L567.07,330.94 L567.45,330.96 L567.83,330.98 L568.21,331.01 L568.59,331.03 L568.96,331.05 L569.34,331.07 L569.72,331.09 L570.10,331.11 L570.48,331.13 L570.86,331.15 L571.24,331.17 L571.61,331.19 L571.99,331.22 L572.37,331.24 L572.75,331.26 L573.13,331.28 L573.51,331.30 L573.89,331.32 L574.26,331.34 L574.64,331.36 L575.02,331.38 L575.40,331.40 L575.78,331.42 L576.16,331.45 L576.54,331.47 L576.92,331.49 L577.29,331.51 L577.67,331.53 L578.05,331.55 L578.43,331.57 L578.81,331.59 L579.19,331.61 L579.57,331.63 L579.94,331.65 L580.32,331.67 L580.70,331.69 L581.08,331.71 L581.46,331.73 L581.84,331.76 L582.22,331.78 L582.59,331.80 L582.97,331.82 L583.35,331.84 L583.73,331.86 L584.11,331.88 L584.49,331.90 L584.87,331.92 L585.24,331.94 L585.62,331.96 L586.00,331.98 L586.38,332.00 L586.76,332.02 L587.14,332.04 L587.52,332.06 L587.89,332.08 L588.27,332.10 L588.65,332.12 L589.03,332.14 L589.41,332.16 L589.79,332.18 L590.17,332.20 L590.54,332.22 L590.92,332.24 L591.30,332.26 L591.68,332.28 L592.06,332.30 L592.44,332.32 L592.82,332.34 L593.19,332.36 L593.57,332.38 L593.95,332.40 L594.33,332.42 L594.71,332.44 L595.09,332.46 L595.47,332.48 L595.85,332.50 L596.22,332.52 L596.60,332.54 L596.98,332.56 L597.36,332.58 L597.74,332.60 L598.12,332.62 L598.50,332.64 L598.87,332.66" stroke="#ec1c1c" stroke-width="1.6" fill="none" stroke-linejoin="round" />
<text x="412.00" y="359.70" font-size="13.5" text-anchor="start" >~27.4 ps</text>
<text x="502.00" y="305.40" font-size="13.5" text-anchor="start" >~ 300 fs</text>
</svg>
</div></body></html>
